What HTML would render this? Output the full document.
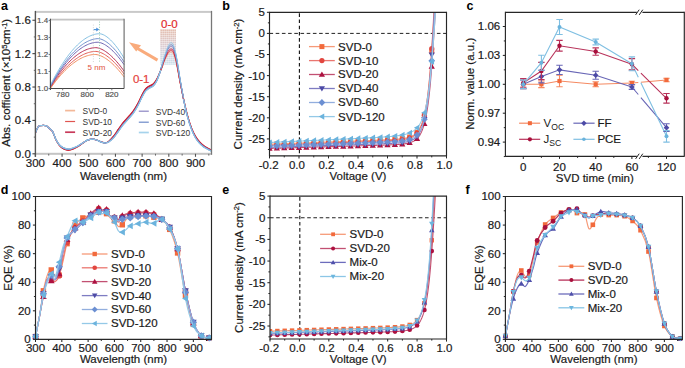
<!DOCTYPE html>
<html><head><meta charset="utf-8"><style>
html,body{margin:0;padding:0;background:#fff;overflow:hidden;}
svg{display:block;font-family:"Liberation Sans", sans-serif;}
</style></head><body>
<svg width="685" height="368" viewBox="0 0 685 368">
<rect width="685" height="368" fill="#fff"/>
<text x="1" y="9.7" font-size="12.5" text-anchor="start" fill="#000" font-weight="bold" >a</text>
<path d="M35.4,132.93 C35.76,132.1 36.87,129.11 37.53,127.92 C38.2,126.74 38.42,126.25 39.4,125.84 C40.38,125.42 42.29,125.42 43.4,125.42 C44.52,125.42 45.18,125.45 46.07,125.84 C46.96,126.23 47.94,127.1 48.74,127.76 C49.54,128.41 50.25,129.15 50.88,129.76 C51.5,130.37 51.94,130.55 52.48,131.43 C53.01,132.31 53.5,133.63 54.08,135.02 C54.66,136.41 55.06,138.04 55.94,139.78 C56.83,141.52 58.17,143.95 59.41,145.45 C60.66,146.96 61.95,147.98 63.42,148.79 C64.88,149.6 66.66,150.22 68.22,150.29 C69.78,150.36 71.11,149.85 72.75,149.21 C74.4,148.57 76.31,147.54 78.09,146.45 C79.87,145.37 81.87,143.74 83.43,142.7 C84.98,141.66 85.87,140.78 87.43,140.19 C88.99,139.61 91.21,139.22 92.77,139.19 C94.32,139.16 95.3,139.54 96.77,140.03 C98.24,140.51 100.15,141.66 101.57,142.11 C102.99,142.57 104.11,142.92 105.31,142.78 C106.51,142.64 107.31,142.5 108.78,141.28 C110.24,140.06 112.47,137.52 114.11,135.44 C115.76,133.35 117.09,130.98 118.65,128.76 C120.2,126.53 121.76,124.17 123.45,122.08 C125.14,119.99 127.1,118.19 128.79,116.24 C130.48,114.29 132.03,112.62 133.59,110.4 C135.15,108.17 136.7,105.53 138.12,102.88 C139.55,100.24 140.88,96.9 142.13,94.54 C143.37,92.17 144.4,90.15 145.6,88.69 C146.8,87.23 148.04,86.61 149.33,85.77 C150.62,84.94 152.09,84.8 153.33,83.68 C154.58,82.57 155.56,81.32 156.8,79.09 C158.05,76.87 159.47,73.46 160.8,70.33 C162.14,67.2 163.56,63.03 164.81,60.31 C166.05,57.6 167.25,55.37 168.28,54.05 C169.3,52.73 170.05,52.31 170.94,52.38 C171.83,52.45 172.63,52.31 173.61,54.47 C174.59,56.63 175.75,60.73 176.81,65.32 C177.88,69.91 178.9,76.45 180.02,82.02 C181.13,87.58 182.24,93.14 183.48,98.71 C184.73,104.27 186.15,110.53 187.49,115.4 C188.82,120.27 190.15,124.45 191.49,127.92 C192.82,131.4 194.16,133.98 195.49,136.27 C196.83,138.57 198.16,140.17 199.49,141.7 C200.83,143.23 202.16,144.41 203.5,145.45 C204.83,146.5 206.16,147.19 207.5,147.96 C208.83,148.72 210.83,149.7 211.5,150.04" fill="none" stroke="#f2b696" stroke-width="1.15"/>
<path d="M35.4,132.93 C35.76,132.1 36.87,129.11 37.53,127.92 C38.2,126.74 38.42,126.25 39.4,125.84 C40.38,125.42 42.29,125.42 43.4,125.42 C44.52,125.42 45.18,125.45 46.07,125.84 C46.96,126.23 47.94,127.1 48.74,127.75 C49.54,128.41 50.25,129.14 50.88,129.75 C51.5,130.37 51.94,130.55 52.48,131.42 C53.01,132.29 53.5,133.61 54.08,135 C54.66,136.39 55.06,138.02 55.94,139.75 C56.83,141.49 58.17,143.91 59.41,145.4 C60.66,146.9 61.95,147.91 63.42,148.71 C64.88,149.51 66.66,150.12 68.22,150.19 C69.78,150.26 71.11,149.75 72.75,149.12 C74.4,148.49 76.31,147.48 78.09,146.41 C79.87,145.33 81.87,143.72 83.43,142.68 C84.98,141.65 85.87,140.77 87.43,140.19 C88.99,139.61 91.21,139.22 92.77,139.19 C94.32,139.17 95.3,139.54 96.77,140.03 C98.24,140.52 100.15,141.66 101.57,142.12 C102.99,142.58 104.11,142.93 105.31,142.8 C106.51,142.67 107.31,142.54 108.78,141.33 C110.24,140.13 112.47,137.65 114.11,135.58 C115.76,133.52 117.09,131.16 118.65,128.95 C120.2,126.73 121.76,124.36 123.45,122.28 C125.14,120.19 127.1,118.39 128.79,116.44 C130.48,114.49 132.03,112.82 133.59,110.6 C135.15,108.37 136.7,105.73 138.12,103.08 C139.55,100.44 140.88,97.1 142.13,94.74 C143.37,92.37 144.4,90.35 145.6,88.89 C146.8,87.43 148.04,86.81 149.33,85.97 C150.62,85.13 152.09,84.99 153.33,83.87 C154.58,82.74 155.56,81.49 156.8,79.19 C158.05,76.9 159.47,73.4 160.8,70.11 C162.14,66.82 163.56,62.38 164.81,59.46 C166.05,56.55 167.25,54.08 168.28,52.62 C169.3,51.16 170.05,50.67 170.94,50.72 C171.83,50.77 172.63,50.66 173.61,52.91 C174.59,55.16 175.75,59.46 176.81,64.22 C177.88,68.98 178.9,75.73 180.02,81.47 C181.13,87.2 182.24,92.95 183.48,98.62 C184.73,104.3 186.15,110.6 187.49,115.5 C188.82,120.4 190.15,124.55 191.49,128.04 C192.82,131.52 194.16,134.11 195.49,136.4 C196.83,138.7 198.16,140.3 199.49,141.83 C200.83,143.36 202.16,144.53 203.5,145.57 C204.83,146.61 206.16,147.29 207.5,148.06 C208.83,148.82 210.83,149.79 211.5,150.13" fill="none" stroke="#e02a2e" stroke-width="1.15"/>
<path d="M35.4,132.93 C35.76,132.1 36.87,129.11 37.53,127.92 C38.2,126.74 38.42,126.25 39.4,125.84 C40.38,125.42 42.29,125.42 43.4,125.42 C44.52,125.42 45.18,125.45 46.07,125.84 C46.96,126.22 47.94,127.1 48.74,127.75 C49.54,128.4 50.25,129.14 50.88,129.75 C51.5,130.36 51.94,130.54 52.48,131.41 C53.01,132.28 53.5,133.6 54.08,134.99 C54.66,136.37 55.06,138 55.94,139.73 C56.83,141.46 58.17,143.87 59.41,145.36 C60.66,146.84 61.95,147.84 63.42,148.63 C64.88,149.41 66.66,150.01 68.22,150.08 C69.78,150.15 71.11,149.64 72.75,149.02 C74.4,148.4 76.31,147.42 78.09,146.36 C79.87,145.3 81.87,143.7 83.43,142.67 C84.98,141.64 85.87,140.76 87.43,140.18 C88.99,139.61 91.21,139.22 92.77,139.19 C94.32,139.17 95.3,139.54 96.77,140.03 C98.24,140.52 100.15,141.66 101.57,142.12 C102.99,142.59 104.11,142.94 105.31,142.82 C106.51,142.7 107.31,142.57 108.78,141.39 C110.24,140.21 112.47,137.77 114.11,135.73 C115.76,133.69 117.09,131.34 118.65,129.13 C120.2,126.93 121.76,124.56 123.45,122.48 C125.14,120.39 127.1,118.59 128.79,116.64 C130.48,114.69 132.03,113.02 133.59,110.8 C135.15,108.57 136.7,105.93 138.12,103.28 C139.55,100.64 140.88,97.3 142.13,94.94 C143.37,92.57 144.4,90.55 145.6,89.09 C146.8,87.63 148.04,87.01 149.33,86.17 C150.62,85.33 152.09,85.19 153.33,84.05 C154.58,82.9 155.56,81.65 156.8,79.29 C158.05,76.94 159.47,73.34 160.8,69.89 C162.14,66.44 163.56,61.73 164.81,58.62 C166.05,55.5 167.25,52.78 168.28,51.19 C169.3,49.6 170.05,49.04 170.94,49.06 C171.83,49.09 172.63,49.01 173.61,51.35 C174.59,53.69 175.75,58.2 176.81,63.13 C177.88,68.05 178.9,75.02 180.02,80.92 C181.13,86.82 182.24,92.76 183.48,98.54 C184.73,104.32 186.15,110.66 187.49,115.59 C188.82,120.53 190.15,124.66 191.49,128.15 C192.82,131.64 194.16,134.23 195.49,136.54 C196.83,138.84 198.16,140.44 199.49,141.96 C200.83,143.49 202.16,144.65 203.5,145.69 C204.83,146.72 206.16,147.4 207.5,148.15 C208.83,148.91 210.83,149.88 211.5,150.23" fill="none" stroke="#c41c3c" stroke-width="1.15"/>
<path d="M35.4,132.93 C35.76,132.1 36.87,129.11 37.53,127.92 C38.2,126.74 38.42,126.25 39.4,125.84 C40.38,125.42 42.29,125.42 43.4,125.42 C44.52,125.42 45.18,125.44 46.07,125.83 C46.96,126.21 47.94,127.08 48.74,127.73 C49.54,128.38 50.25,129.1 50.88,129.7 C51.5,130.3 51.94,130.47 52.48,131.34 C53.01,132.2 53.5,133.51 54.08,134.87 C54.66,136.24 55.06,137.86 55.94,139.55 C56.83,141.23 58.17,143.58 59.41,144.99 C60.66,146.41 61.95,147.3 63.42,148.02 C64.88,148.73 66.66,149.24 68.22,149.3 C69.78,149.35 71.11,148.89 72.75,148.34 C74.4,147.79 76.31,146.96 78.09,146 C79.87,145.03 81.87,143.53 83.43,142.55 C84.98,141.58 85.87,140.71 87.43,140.15 C88.99,139.59 91.21,139.21 92.77,139.19 C94.32,139.17 95.3,139.54 96.77,140.03 C98.24,140.53 100.15,141.67 101.57,142.16 C102.99,142.65 104.11,143.02 105.31,142.95 C106.51,142.89 107.31,142.81 108.78,141.78 C110.24,140.76 112.47,138.69 114.11,136.81 C115.76,134.93 117.09,132.66 118.65,130.52 C120.2,128.37 121.76,126.01 123.45,123.94 C125.14,121.87 127.1,120.06 128.79,118.11 C130.48,116.17 132.03,114.5 133.59,112.27 C135.15,110.05 136.7,107.4 138.12,104.76 C139.55,102.12 140.88,98.78 142.13,96.41 C143.37,94.05 144.4,92.03 145.6,90.57 C146.8,89.11 148.04,88.49 149.33,87.64 C150.62,86.78 152.09,86.65 153.33,85.46 C154.58,84.26 155.56,83.02 156.8,80.47 C158.05,77.91 159.47,73.98 160.8,70.15 C162.14,66.32 163.56,61.01 164.81,57.5 C166.05,53.99 167.25,50.89 168.28,49.08 C169.3,47.26 170.05,46.6 170.94,46.59 C171.83,46.58 172.63,46.54 173.61,49.02 C174.59,51.51 175.75,56.3 176.81,61.51 C177.88,66.73 178.9,74.03 180.02,80.29 C181.13,86.56 182.24,93.09 183.48,99.12 C184.73,105.16 186.15,111.54 187.49,116.52 C188.82,121.5 190.15,125.51 191.49,129.01 C192.82,132.51 194.16,135.2 195.49,137.52 C196.83,139.84 198.16,141.44 199.49,142.94 C200.83,144.45 202.16,145.56 203.5,146.55 C204.83,147.54 206.16,148.16 207.5,148.88 C208.83,149.61 210.83,150.56 211.5,150.9" fill="none" stroke="#8a80c0" stroke-width="1.15"/>
<path d="M35.4,132.93 C35.76,132.1 36.87,129.11 37.53,127.92 C38.2,126.74 38.42,126.25 39.4,125.84 C40.38,125.42 42.29,125.42 43.4,125.42 C44.52,125.41 45.18,125.44 46.07,125.83 C46.96,126.21 47.94,127.08 48.74,127.72 C49.54,128.37 50.25,129.09 50.88,129.69 C51.5,130.29 51.94,130.46 52.48,131.32 C53.01,132.18 53.5,133.48 54.08,134.85 C54.66,136.21 55.06,137.83 55.94,139.51 C56.83,141.18 58.17,143.52 59.41,144.91 C60.66,146.31 61.95,147.18 63.42,147.88 C64.88,148.58 66.66,149.07 68.22,149.12 C69.78,149.17 71.11,148.73 72.75,148.19 C74.4,147.66 76.31,146.86 78.09,145.92 C79.87,144.97 81.87,143.49 83.43,142.53 C84.98,141.57 85.87,140.7 87.43,140.14 C88.99,139.59 91.21,139.21 92.77,139.19 C94.32,139.17 95.3,139.54 96.77,140.04 C98.24,140.53 100.15,141.68 101.57,142.17 C102.99,142.66 104.11,143.03 105.31,142.98 C106.51,142.93 107.31,142.86 108.78,141.87 C110.24,140.88 112.47,138.89 114.11,137.05 C115.76,135.21 117.09,132.95 118.65,130.82 C120.2,128.69 121.76,126.32 123.45,124.26 C125.14,122.2 127.1,120.38 128.79,118.44 C130.48,116.49 132.03,114.82 133.59,112.6 C135.15,110.37 136.7,107.73 138.12,105.09 C139.55,102.44 140.88,99.1 142.13,96.74 C143.37,94.37 144.4,92.36 145.6,90.89 C146.8,89.43 148.04,88.81 149.33,87.96 C150.62,87.1 152.09,86.97 153.33,85.76 C154.58,84.55 155.56,83.3 156.8,80.67 C158.05,78.05 159.47,73.99 160.8,69.99 C162.14,65.99 163.56,60.39 164.81,56.67 C166.05,52.94 167.25,49.6 168.28,47.65 C169.3,45.69 170.05,44.96 170.94,44.93 C171.83,44.9 172.63,44.88 173.61,47.46 C174.59,50.05 175.75,55.04 176.81,60.42 C177.88,65.8 178.9,73.32 180.02,79.77 C181.13,86.22 182.24,92.96 183.48,99.11 C184.73,105.27 186.15,111.68 187.49,116.7 C188.82,121.71 190.15,125.69 191.49,129.2 C192.82,132.71 194.16,135.41 195.49,137.73 C196.83,140.06 198.16,141.66 199.49,143.16 C200.83,144.66 202.16,145.76 203.5,146.74 C204.83,147.72 206.16,148.32 207.5,149.04 C208.83,149.76 210.83,150.71 211.5,151.04" fill="none" stroke="#5f86c8" stroke-width="1.15"/>
<path d="M35.4,132.93 C35.76,132.1 36.87,129.11 37.53,127.92 C38.2,126.74 38.42,126.25 39.4,125.84 C40.38,125.42 42.29,125.42 43.4,125.42 C44.52,125.41 45.18,125.44 46.07,125.82 C46.96,126.21 47.94,127.08 48.74,127.72 C49.54,128.36 50.25,129.09 50.88,129.68 C51.5,130.28 51.94,130.45 52.48,131.31 C53.01,132.16 53.5,133.46 54.08,134.83 C54.66,136.19 55.06,137.8 55.94,139.47 C56.83,141.14 58.17,143.46 59.41,144.84 C60.66,146.22 61.95,147.07 63.42,147.76 C64.88,148.44 66.66,148.91 68.22,148.96 C69.78,149.01 71.11,148.57 72.75,148.05 C74.4,147.53 76.31,146.77 78.09,145.84 C79.87,144.92 81.87,143.46 83.43,142.5 C84.98,141.55 85.87,140.69 87.43,140.14 C88.99,139.58 91.21,139.2 92.77,139.19 C94.32,139.17 95.3,139.54 96.77,140.04 C98.24,140.53 100.15,141.68 101.57,142.17 C102.99,142.67 104.11,143.05 105.31,143.01 C106.51,142.97 107.31,142.91 108.78,141.95 C110.24,141 112.47,139.08 114.11,137.27 C115.76,135.46 117.09,133.22 118.65,131.11 C120.2,128.99 121.76,126.62 123.45,124.56 C125.14,122.5 127.1,120.68 128.79,118.74 C130.48,116.8 132.03,115.12 133.59,112.9 C135.15,110.67 136.7,108.03 138.12,105.39 C139.55,102.74 140.88,99.4 142.13,97.04 C143.37,94.67 144.4,92.66 145.6,91.19 C146.8,89.73 148.04,89.12 149.33,88.26 C150.62,87.4 152.09,87.27 153.33,86.03 C154.58,84.8 155.56,83.56 156.8,80.84 C158.05,78.13 159.47,73.95 160.8,69.74 C162.14,65.54 163.56,59.6 164.81,55.61 C166.05,51.63 167.25,47.98 168.28,45.86 C169.3,43.73 170.05,42.91 170.94,42.86 C171.83,42.8 172.63,42.82 173.61,45.52 C174.59,48.21 175.75,53.45 176.81,59.05 C177.88,64.65 178.9,72.43 180.02,79.09 C181.13,85.76 182.24,92.75 183.48,99.04 C184.73,105.33 186.15,111.79 187.49,116.85 C188.82,121.9 190.15,125.86 191.49,129.37 C192.82,132.89 194.16,135.6 195.49,137.93 C196.83,140.27 198.16,141.86 199.49,143.36 C200.83,144.86 202.16,145.94 203.5,146.91 C204.83,147.88 206.16,148.48 207.5,149.19 C208.83,149.9 210.83,150.85 211.5,151.18" fill="none" stroke="#8ec6e6" stroke-width="1.15"/>
<rect x="35.4" y="10.9" width="176.1" height="2" fill="#c9c9c9"/>
<rect x="35.4" y="152.8" width="176.1" height="2" fill="#c4c4c4"/>
<line x1="35.4" y1="10.9" x2="35.4" y2="156.8" stroke="#555" stroke-width="1.4" />
<line x1="211.5" y1="10.9" x2="211.5" y2="154.8" stroke="#777" stroke-width="1.3" />
<line x1="32.4" y1="153.8" x2="35.4" y2="153.8" stroke="#444" stroke-width="1.1" />
<text x="30.8" y="157.7" font-size="11.5" text-anchor="end" fill="#1a1a1a" stroke="#1a1a1a" stroke-width="0.2" font-weight="normal" >0.0</text>
<line x1="32.4" y1="120.41" x2="35.4" y2="120.41" stroke="#444" stroke-width="1.1" />
<text x="30.8" y="124.31" font-size="11.5" text-anchor="end" fill="#1a1a1a" stroke="#1a1a1a" stroke-width="0.2" font-weight="normal" >0.4</text>
<line x1="32.4" y1="87.02" x2="35.4" y2="87.02" stroke="#444" stroke-width="1.1" />
<text x="30.8" y="90.92" font-size="11.5" text-anchor="end" fill="#1a1a1a" stroke="#1a1a1a" stroke-width="0.2" font-weight="normal" >0.8</text>
<line x1="32.4" y1="53.64" x2="35.4" y2="53.64" stroke="#444" stroke-width="1.1" />
<text x="30.8" y="57.54" font-size="11.5" text-anchor="end" fill="#1a1a1a" stroke="#1a1a1a" stroke-width="0.2" font-weight="normal" >1.2</text>
<line x1="32.4" y1="20.25" x2="35.4" y2="20.25" stroke="#444" stroke-width="1.1" />
<text x="30.8" y="24.15" font-size="11.5" text-anchor="end" fill="#1a1a1a" stroke="#1a1a1a" stroke-width="0.2" font-weight="normal" >1.6</text>
<line x1="33.8" y1="137.11" x2="35.4" y2="137.11" stroke="#666" stroke-width="1" />
<line x1="33.8" y1="103.72" x2="35.4" y2="103.72" stroke="#666" stroke-width="1" />
<line x1="33.8" y1="70.33" x2="35.4" y2="70.33" stroke="#666" stroke-width="1" />
<line x1="33.8" y1="36.94" x2="35.4" y2="36.94" stroke="#666" stroke-width="1" />
<line x1="35.4" y1="153.8" x2="35.4" y2="156.8" stroke="#555" stroke-width="1.1" />
<text x="35.4" y="166.7" font-size="11.5" text-anchor="middle" fill="#1a1a1a" stroke="#1a1a1a" stroke-width="0.2" font-weight="normal" >300</text>
<line x1="62.08" y1="153.8" x2="62.08" y2="156.8" stroke="#555" stroke-width="1.1" />
<text x="62.08" y="166.7" font-size="11.5" text-anchor="middle" fill="#1a1a1a" stroke="#1a1a1a" stroke-width="0.2" font-weight="normal" >400</text>
<line x1="88.76" y1="153.8" x2="88.76" y2="156.8" stroke="#555" stroke-width="1.1" />
<text x="88.76" y="166.7" font-size="11.5" text-anchor="middle" fill="#1a1a1a" stroke="#1a1a1a" stroke-width="0.2" font-weight="normal" >500</text>
<line x1="115.45" y1="153.8" x2="115.45" y2="156.8" stroke="#555" stroke-width="1.1" />
<text x="115.45" y="166.7" font-size="11.5" text-anchor="middle" fill="#1a1a1a" stroke="#1a1a1a" stroke-width="0.2" font-weight="normal" >600</text>
<line x1="142.13" y1="153.8" x2="142.13" y2="156.8" stroke="#555" stroke-width="1.1" />
<text x="142.13" y="166.7" font-size="11.5" text-anchor="middle" fill="#1a1a1a" stroke="#1a1a1a" stroke-width="0.2" font-weight="normal" >700</text>
<line x1="168.81" y1="153.8" x2="168.81" y2="156.8" stroke="#555" stroke-width="1.1" />
<text x="168.81" y="166.7" font-size="11.5" text-anchor="middle" fill="#1a1a1a" stroke="#1a1a1a" stroke-width="0.2" font-weight="normal" >800</text>
<line x1="195.49" y1="153.8" x2="195.49" y2="156.8" stroke="#555" stroke-width="1.1" />
<text x="195.49" y="166.7" font-size="11.5" text-anchor="middle" fill="#1a1a1a" stroke="#1a1a1a" stroke-width="0.2" font-weight="normal" >900</text>
<line x1="48.74" y1="153.8" x2="48.74" y2="155.6" stroke="#666" stroke-width="1" />
<line x1="75.42" y1="153.8" x2="75.42" y2="155.6" stroke="#666" stroke-width="1" />
<line x1="102.1" y1="153.8" x2="102.1" y2="155.6" stroke="#666" stroke-width="1" />
<line x1="128.79" y1="153.8" x2="128.79" y2="155.6" stroke="#666" stroke-width="1" />
<line x1="155.47" y1="153.8" x2="155.47" y2="155.6" stroke="#666" stroke-width="1" />
<line x1="182.15" y1="153.8" x2="182.15" y2="155.6" stroke="#666" stroke-width="1" />
<line x1="208.83" y1="153.8" x2="208.83" y2="155.6" stroke="#666" stroke-width="1" />
<text x="123.45" y="180.4" font-size="11.5" text-anchor="middle" fill="#1a1a1a" stroke="#1a1a1a" stroke-width="0.2" font-weight="normal" >Wavelength (nm)</text>
<text transform="translate(10,82.8) rotate(-90)" font-size="11.5" text-anchor="middle" fill="#1a1a1a" stroke="#1a1a1a" stroke-width="0.2">Abs. cofficient (×10<tspan font-size="7.5" dy="-3.4">5</tspan><tspan dy="3.4">cm</tspan><tspan font-size="7.5" dy="-3.4">-1</tspan><tspan dy="3.4">)</tspan></text>
<defs><linearGradient id="gbox" x1="0" y1="0" x2="0" y2="1"><stop offset="0" stop-color="#e2b9a8"/><stop offset="0.5" stop-color="#d8c8cf"/><stop offset="1" stop-color="#c6dcea"/></linearGradient>
<pattern id="grid" x="160.2" y="29" width="2" height="2" patternUnits="userSpaceOnUse"><rect x="0" y="0" width="2" height="0.7" fill="#fff" fill-opacity="0.55"/><rect x="0" y="0" width="0.7" height="2" fill="#fff" fill-opacity="0.55"/></pattern></defs>
<rect x="160.2" y="29" width="15.8" height="35.7" fill="url(#gbox)"/>
<rect x="160.2" y="29" width="15.8" height="35.7" fill="url(#grid)"/>
<path d="M160.8,70.33 C161.47,68.66 163.56,63.03 164.81,60.31 C166.05,57.6 167.25,55.37 168.28,54.05 C169.3,52.73 170.05,52.31 170.94,52.38 C171.83,52.45 172.63,52.31 173.61,54.47 C174.59,56.63 175.75,60.73 176.81,65.32 C177.88,69.91 178.9,76.45 180.02,82.02 C181.13,87.58 182.91,95.93 183.48,98.71" fill="none" stroke="#f2b696" stroke-width="0.9"/>
<path d="M160.8,70.01 C161.47,68.25 163.56,62.34 164.81,59.44 C166.05,56.54 167.25,54.07 168.28,52.61 C169.3,51.16 170.05,50.67 170.94,50.72 C171.83,50.77 172.63,50.66 173.61,52.91 C174.59,55.16 175.75,59.46 176.81,64.22 C177.88,68.97 178.9,75.72 180.02,81.44 C181.13,87.15 182.91,95.66 183.48,98.5" fill="none" stroke="#e02a2e" stroke-width="0.9"/>
<path d="M160.8,69.69 C161.47,67.84 163.56,61.65 164.81,58.56 C166.05,55.48 167.25,52.76 168.28,51.18 C169.3,49.59 170.05,49.03 170.94,49.06 C171.83,49.09 172.63,49 173.61,51.34 C174.59,53.69 175.75,58.19 176.81,63.11 C177.88,68.03 178.9,74.99 180.02,80.86 C181.13,86.72 182.91,95.39 183.48,98.3" fill="none" stroke="#c41c3c" stroke-width="0.9"/>
<path d="M160.8,69.21 C161.47,67.22 163.56,60.61 164.81,57.25 C166.05,53.88 167.25,50.8 168.28,49.02 C169.3,47.24 170.05,46.57 170.94,46.56 C171.83,46.56 172.63,46.52 173.61,49 C174.59,51.48 175.75,56.29 176.81,61.46 C177.88,66.62 178.9,73.9 180.02,79.99 C181.13,86.08 182.91,94.99 183.48,97.99" fill="none" stroke="#8a80c0" stroke-width="0.9"/>
<path d="M160.8,68.89 C161.47,66.8 163.56,59.93 164.81,56.37 C166.05,52.82 167.25,49.49 168.28,47.58 C169.3,45.67 170.05,44.93 170.94,44.9 C171.83,44.88 172.63,44.86 173.61,47.44 C174.59,50.01 175.75,55.02 176.81,60.35 C177.88,65.68 178.9,73.17 180.02,79.41 C181.13,85.65 182.91,94.72 183.48,97.78" fill="none" stroke="#5f86c8" stroke-width="0.9"/>
<path d="M160.8,68.49 C161.47,66.29 163.56,59.07 164.81,55.28 C166.05,51.49 167.25,47.86 168.28,45.78 C169.3,43.7 170.05,42.87 170.94,42.82 C171.83,42.77 172.63,42.79 173.61,45.49 C174.59,48.18 175.75,53.44 176.81,58.97 C177.88,64.5 178.9,72.26 180.02,78.68 C181.13,85.11 182.91,94.38 183.48,97.52" fill="none" stroke="#8ec6e6" stroke-width="0.9"/>
<text x="169.4" y="27.5" font-size="11.5" text-anchor="middle" fill="#e12a2a" stroke="#e12a2a" stroke-width="0.2" font-weight="normal" >0-0</text>
<text x="141.2" y="83.3" font-size="11.5" text-anchor="middle" fill="#e5413a" stroke="#e5413a" stroke-width="0.2" font-weight="normal" >0-1</text>
<line x1="157.5" y1="60.1" x2="135" y2="47" stroke="#f9ab7c" stroke-width="3"/>
<path d="M129,42.3 L141,45.2 L136.2,51.6 Z" fill="#f9ab7c"/>
<line x1="65.1" y1="110.6" x2="75.1" y2="110.6" stroke="#f3b898" stroke-width="1.7"/>
<text x="82.6" y="114" font-size="9.3" fill="#333" textLength="24.5" lengthAdjust="spacingAndGlyphs">SVD-0</text>
<line x1="65.1" y1="121.5" x2="75.1" y2="121.5" stroke="#e05550" stroke-width="1.2"/>
<text x="82.6" y="124.9" font-size="9.3" fill="#333" textLength="29.4" lengthAdjust="spacingAndGlyphs">SVD-10</text>
<line x1="65.1" y1="132.2" x2="75.1" y2="132.2" stroke="#c83a5a" stroke-width="1.7"/>
<text x="82.6" y="135.6" font-size="9.3" fill="#333" textLength="29.4" lengthAdjust="spacingAndGlyphs">SVD-20</text>
<line x1="138.8" y1="111.2" x2="148.8" y2="111.2" stroke="#8b84c2" stroke-width="1.2"/>
<text x="155.8" y="114.6" font-size="9.3" fill="#333" textLength="29.4" lengthAdjust="spacingAndGlyphs">SVD-40</text>
<line x1="138.8" y1="122.2" x2="148.8" y2="122.2" stroke="#6c8ac8" stroke-width="1.2"/>
<text x="155.8" y="125.6" font-size="9.3" fill="#333" textLength="29.4" lengthAdjust="spacingAndGlyphs">SVD-60</text>
<line x1="138.8" y1="132.5" x2="148.8" y2="132.5" stroke="#a6d3ec" stroke-width="1.7"/>
<text x="155.8" y="135.9" font-size="9.3" fill="#333" textLength="34.3" lengthAdjust="spacingAndGlyphs">SVD-120</text>
<rect x="50.4" y="19.6" width="73.69999999999999" height="68.9" fill="#fff"/>
<path d="M50.4,88.5 L51.63,86.75 L52.86,85.05 L54.09,83.38 L55.31,81.77 L56.54,80.19 L57.77,78.66 L59,77.18 L60.23,75.74 L61.45,74.34 L62.68,72.99 L63.91,71.69 L65.14,70.43 L66.37,69.21 L67.6,68.05 L68.82,66.92 L70.05,65.85 L71.28,64.81 L72.51,63.83 L73.74,62.89 L74.97,62 L76.19,61.16 L77.42,60.36 L78.65,59.62 L79.88,58.92 L81.11,58.27 L82.34,57.66 L83.56,57.11 L84.79,56.61 L86.02,56.16 L87.25,55.76 L88.48,55.41 L89.71,55.11 L90.93,54.87 L92.16,54.68 L93.39,54.55 L94.62,54.49 L95.85,54.51 L97.08,54.68 L98.3,54.97 L99.53,55.36 L100.76,55.83 L101.99,56.38 L103.22,57 L104.45,57.7 L105.67,58.46 L106.9,59.29 L108.13,60.18 L109.36,61.14 L110.59,62.15 L111.82,63.23 L113.04,64.36 L114.27,65.54 L115.5,66.78 L116.73,68.08 L117.96,69.43 L119.19,70.83 L120.41,72.28 L121.64,73.78 L122.87,75.33 L124.1,76.93" fill="none" stroke="#f08a5a" stroke-width="0.95"/>
<path d="M50.4,87.65 L51.63,85.81 L52.86,84.02 L54.09,82.27 L55.31,80.57 L56.54,78.91 L57.77,77.3 L59,75.74 L60.23,74.22 L61.45,72.75 L62.68,71.33 L63.91,69.95 L65.14,68.62 L66.37,67.33 L67.6,66.1 L68.82,64.91 L70.05,63.77 L71.28,62.67 L72.51,61.63 L73.74,60.63 L74.97,59.68 L76.19,58.78 L77.42,57.93 L78.65,57.13 L79.88,56.38 L81.11,55.68 L82.34,55.03 L83.56,54.43 L84.79,53.88 L86.02,53.39 L87.25,52.95 L88.48,52.56 L89.71,52.22 L90.93,51.94 L92.16,51.72 L93.39,51.55 L94.62,51.45 L95.85,51.41 L97.08,51.52 L98.3,51.77 L99.53,52.12 L100.76,52.57 L101.99,53.1 L103.22,53.72 L104.45,54.41 L105.67,55.17 L106.9,56 L108.13,56.9 L109.36,57.87 L110.59,58.9 L111.82,59.99 L113.04,61.14 L114.27,62.35 L115.5,63.62 L116.73,64.95 L117.96,66.33 L119.19,67.76 L120.41,69.25 L121.64,70.8 L122.87,72.39 L124.1,74.04" fill="none" stroke="#e2574f" stroke-width="0.95"/>
<path d="M50.4,86.8 L51.63,84.81 L52.86,82.88 L54.09,80.99 L55.31,79.15 L56.54,77.37 L57.77,75.63 L59,73.94 L60.23,72.3 L61.45,70.71 L62.68,69.17 L63.91,67.69 L65.14,66.25 L66.37,64.86 L67.6,63.53 L68.82,62.24 L70.05,61.01 L71.28,59.83 L72.51,58.7 L73.74,57.62 L74.97,56.6 L76.19,55.63 L77.42,54.71 L78.65,53.84 L79.88,53.03 L81.11,52.28 L82.34,51.57 L83.56,50.93 L84.79,50.34 L86.02,49.8 L87.25,49.32 L88.48,48.9 L89.71,48.54 L90.93,48.24 L92.16,48 L93.39,47.82 L94.62,47.71 L95.85,47.67 L97.08,47.78 L98.3,48.04 L99.53,48.41 L100.76,48.87 L101.99,49.42 L103.22,50.06 L104.45,50.78 L105.67,51.57 L106.9,52.43 L108.13,53.37 L109.36,54.37 L110.59,55.44 L111.82,56.57 L113.04,57.77 L114.27,59.02 L115.5,60.34 L116.73,61.71 L117.96,63.15 L119.19,64.64 L120.41,66.18 L121.64,67.78 L122.87,69.44 L124.1,71.15" fill="none" stroke="#b4284e" stroke-width="0.95"/>
<path d="M50.4,86.46 L51.63,84.3 L52.86,82.19 L54.09,80.14 L55.31,78.14 L56.54,76.18 L57.77,74.28 L59,72.44 L60.23,70.64 L61.45,68.9 L62.68,67.2 L63.91,65.57 L65.14,63.98 L66.37,62.45 L67.6,60.97 L68.82,59.54 L70.05,58.17 L71.28,56.85 L72.51,55.58 L73.74,54.37 L74.97,53.22 L76.19,52.12 L77.42,51.07 L78.65,50.08 L79.88,49.14 L81.11,48.27 L82.34,47.44 L83.56,46.68 L84.79,45.97 L86.02,45.32 L87.25,44.73 L88.48,44.2 L89.71,43.73 L90.93,43.32 L92.16,42.98 L93.39,42.69 L94.62,42.47 L95.85,42.32 L97.08,42.24 L98.3,42.26 L99.53,42.47 L100.76,42.81 L101.99,43.25 L103.22,43.8 L104.45,44.44 L105.67,45.17 L106.9,45.97 L108.13,46.86 L109.36,47.83 L110.59,48.87 L111.82,49.98 L113.04,51.16 L114.27,52.41 L115.5,53.72 L116.73,55.1 L117.96,56.55 L119.19,58.05 L120.41,59.62 L121.64,61.25 L122.87,62.94 L124.1,64.68" fill="none" stroke="#6a60b0" stroke-width="0.95"/>
<path d="M50.4,85.95 L51.63,83.67 L52.86,81.45 L54.09,79.28 L55.31,77.16 L56.54,75.1 L57.77,73.09 L59,71.13 L60.23,69.23 L61.45,67.38 L62.68,65.59 L63.91,63.85 L65.14,62.17 L66.37,60.54 L67.6,58.97 L68.82,57.46 L70.05,55.99 L71.28,54.59 L72.51,53.24 L73.74,51.95 L74.97,50.72 L76.19,49.54 L77.42,48.42 L78.65,47.36 L79.88,46.35 L81.11,45.41 L82.34,44.52 L83.56,43.69 L84.79,42.92 L86.02,42.22 L87.25,41.57 L88.48,40.99 L89.71,40.46 L90.93,40 L92.16,39.61 L93.39,39.28 L94.62,39.02 L95.85,38.82 L97.08,38.7 L98.3,38.65 L99.53,38.79 L100.76,39.08 L101.99,39.51 L103.22,40.04 L104.45,40.69 L105.67,41.42 L106.9,42.25 L108.13,43.17 L109.36,44.17 L110.59,45.26 L111.82,46.42 L113.04,47.66 L114.27,48.97 L115.5,50.35 L116.73,51.81 L117.96,53.33 L119.19,54.93 L120.41,56.59 L121.64,58.31 L122.87,60.11 L124.1,61.96" fill="none" stroke="#6a8ccb" stroke-width="0.95"/>
<path d="M50.4,85.1 L51.63,82.68 L52.86,80.33 L54.09,78.02 L55.31,75.78 L56.54,73.58 L57.77,71.45 L59,69.37 L60.23,67.34 L61.45,65.38 L62.68,63.46 L63.91,61.61 L65.14,59.81 L66.37,58.07 L67.6,56.38 L68.82,54.76 L70.05,53.19 L71.28,51.67 L72.51,50.22 L73.74,48.82 L74.97,47.49 L76.19,46.21 L77.42,44.99 L78.65,43.83 L79.88,42.73 L81.11,41.69 L82.34,40.71 L83.56,39.79 L84.79,38.94 L86.02,38.14 L87.25,37.41 L88.48,36.74 L89.71,36.13 L90.93,35.59 L92.16,35.12 L93.39,34.71 L94.62,34.37 L95.85,34.09 L97.08,33.89 L98.3,33.77 L99.53,33.72 L100.76,33.87 L101.99,34.21 L103.22,34.69 L104.45,35.31 L105.67,36.04 L106.9,36.88 L108.13,37.83 L109.36,38.88 L110.59,40.02 L111.82,41.26 L113.04,42.59 L114.27,44 L115.5,45.5 L116.73,47.08 L117.96,48.74 L119.19,50.48 L120.41,52.3 L121.64,54.2 L122.87,56.17 L124.1,58.22" fill="none" stroke="#7ebde0" stroke-width="0.95"/>
<line x1="99.53" y1="21.6" x2="99.53" y2="62" stroke="#7cc0a0" stroke-width="0.8" stroke-dasharray="1,1.6"/>
<line x1="93.39" y1="24.6" x2="93.39" y2="62" stroke="#bbbbbb" stroke-width="0.6" stroke-dasharray="1,1.6"/>
<line x1="93.69" y1="29.6" x2="97.03" y2="29.6" stroke="#4a90d9" stroke-width="1.1"/>
<path d="M99.23,29.6 L96.23,27.6 L96.23,31.6Z" fill="#4a90d9"/>
<text x="96.5" y="70.2" font-size="8" text-anchor="middle" fill="#e0553f">5 nm</text>
<rect x="50.4" y="18.700000000000003" width="73.69999999999999" height="1.8" fill="#c4c4c4"/>
<line x1="50.4" y1="18.8" x2="50.4" y2="90" stroke="#444" stroke-width="1.1" />
<line x1="124.1" y1="18.8" x2="124.1" y2="88.5" stroke="#666" stroke-width="1.1" />
<line x1="50.4" y1="88.5" x2="124.1" y2="88.5" stroke="#444" stroke-width="1.1" />
<line x1="48.6" y1="88.5" x2="50.4" y2="88.5" stroke="#666" stroke-width="0.9" />
<text x="48.2" y="91.4" font-size="8" text-anchor="end" fill="#555" stroke="#555" stroke-width="0.2" font-weight="normal" >1.0</text>
<line x1="48.6" y1="71.49" x2="50.4" y2="71.49" stroke="#666" stroke-width="0.9" />
<text x="48.2" y="74.39" font-size="8" text-anchor="end" fill="#555" stroke="#555" stroke-width="0.2" font-weight="normal" >1.1</text>
<line x1="48.6" y1="54.48" x2="50.4" y2="54.48" stroke="#666" stroke-width="0.9" />
<text x="48.2" y="57.38" font-size="8" text-anchor="end" fill="#555" stroke="#555" stroke-width="0.2" font-weight="normal" >1.2</text>
<line x1="48.6" y1="37.46" x2="50.4" y2="37.46" stroke="#666" stroke-width="0.9" />
<text x="48.2" y="40.36" font-size="8" text-anchor="end" fill="#555" stroke="#555" stroke-width="0.2" font-weight="normal" >1.3</text>
<line x1="48.6" y1="20.45" x2="50.4" y2="20.45" stroke="#666" stroke-width="0.9" />
<text x="48.2" y="23.35" font-size="8" text-anchor="end" fill="#555" stroke="#555" stroke-width="0.2" font-weight="normal" >1.4</text>
<line x1="62.68" y1="88.5" x2="62.68" y2="90.3" stroke="#666" stroke-width="0.9" />
<text x="62.68" y="96.9" font-size="8" text-anchor="middle" fill="#555" stroke="#555" stroke-width="0.2" font-weight="normal" >780</text>
<line x1="87.25" y1="88.5" x2="87.25" y2="90.3" stroke="#666" stroke-width="0.9" />
<text x="87.25" y="96.9" font-size="8" text-anchor="middle" fill="#555" stroke="#555" stroke-width="0.2" font-weight="normal" >800</text>
<line x1="111.82" y1="88.5" x2="111.82" y2="90.3" stroke="#666" stroke-width="0.9" />
<text x="111.82" y="96.9" font-size="8" text-anchor="middle" fill="#555" stroke="#555" stroke-width="0.2" font-weight="normal" >820</text>
<line x1="74.97" y1="88.5" x2="74.97" y2="89.7" stroke="#888" stroke-width="0.8" />
<line x1="99.53" y1="88.5" x2="99.53" y2="89.7" stroke="#888" stroke-width="0.8" />
<text x="222.3" y="10.2" font-size="12.5" text-anchor="start" fill="#000" font-weight="bold" >b</text>
<line x1="269.5" y1="33.4" x2="446.5" y2="33.4" stroke="#222" stroke-width="1" stroke-dasharray="3.6,2.6"/>
<line x1="299.4" y1="13.3" x2="299.4" y2="155.8" stroke="#111" stroke-width="1.1" stroke-dasharray="3.6,2.6"/>
<clipPath id="clipb"><rect x="269.5" y="12.3" width="177.0" height="143.5"/></clipPath>
<g clip-path="url(#clipb)">
<path d="M269.5,144.19 L270.09,144.17 L270.68,144.15 L271.27,144.13 L271.86,144.11 L272.45,144.08 L273.04,144.06 L273.63,144.04 L274.22,144.02 L274.81,144 L275.4,143.97 L275.99,143.95 L276.58,143.93 L277.17,143.91 L277.76,143.89 L278.35,143.86 L278.94,143.84 L279.53,143.82 L280.12,143.8 L280.71,143.78 L281.3,143.75 L281.89,143.73 L282.48,143.71 L283.07,143.69 L283.66,143.67 L284.25,143.64 L284.84,143.62 L285.43,143.6 L286.02,143.58 L286.61,143.56 L287.2,143.53 L287.79,143.51 L288.38,143.49 L288.97,143.47 L289.56,143.45 L290.15,143.43 L290.74,143.4 L291.33,143.38 L291.92,143.36 L292.51,143.34 L293.1,143.32 L293.69,143.29 L294.28,143.27 L294.87,143.25 L295.46,143.23 L296.05,143.21 L296.64,143.18 L297.23,143.16 L297.82,143.14 L298.41,143.12 L299,143.1 L299.59,143.07 L300.18,143.05 L300.77,143.03 L301.36,143.01 L301.95,142.99 L302.54,142.96 L303.13,142.94 L303.72,142.92 L304.31,142.9 L304.9,142.88 L305.49,142.85 L306.08,142.83 L306.67,142.81 L307.26,142.79 L307.85,142.77 L308.44,142.74 L309.03,142.72 L309.62,142.7 L310.21,142.68 L310.8,142.66 L311.39,142.63 L311.98,142.61 L312.57,142.59 L313.16,142.57 L313.75,142.55 L314.34,142.53 L314.93,142.5 L315.52,142.48 L316.11,142.46 L316.7,142.44 L317.29,142.42 L317.88,142.39 L318.47,142.37 L319.06,142.35 L319.65,142.33 L320.24,142.31 L320.83,142.28 L321.42,142.26 L322.01,142.24 L322.6,142.22 L323.19,142.2 L323.78,142.17 L324.37,142.15 L324.96,142.13 L325.55,142.11 L326.14,142.09 L326.73,142.06 L327.32,142.04 L327.91,142.02 L328.5,142 L329.09,141.98 L329.68,141.95 L330.27,141.93 L330.86,141.91 L331.45,141.89 L332.04,141.87 L332.63,141.84 L333.22,141.82 L333.81,141.8 L334.4,141.78 L334.99,141.76 L335.58,141.73 L336.17,141.71 L336.76,141.69 L337.35,141.67 L337.94,141.65 L338.53,141.62 L339.12,141.6 L339.71,141.58 L340.3,141.56 L340.89,141.54 L341.48,141.51 L342.07,141.49 L342.66,141.47 L343.25,141.45 L343.84,141.43 L344.43,141.4 L345.02,141.38 L345.61,141.36 L346.2,141.34 L346.79,141.32 L347.38,141.29 L347.97,141.27 L348.56,141.25 L349.15,141.23 L349.74,141.2 L350.33,141.18 L350.92,141.16 L351.51,141.14 L352.1,141.12 L352.69,141.09 L353.28,141.07 L353.87,141.05 L354.46,141.03 L355.05,141 L355.64,140.98 L356.23,140.96 L356.82,140.94 L357.41,140.92 L358,140.89 L358.59,140.87 L359.18,140.85 L359.77,140.83 L360.36,140.8 L360.95,140.78 L361.54,140.76 L362.13,140.74 L362.72,140.71 L363.31,140.69 L363.9,140.67 L364.49,140.64 L365.08,140.62 L365.67,140.6 L366.26,140.58 L366.85,140.55 L367.44,140.53 L368.03,140.51 L368.62,140.48 L369.21,140.46 L369.8,140.44 L370.39,140.42 L370.98,140.39 L371.57,140.37 L372.16,140.35 L372.75,140.32 L373.34,140.3 L373.93,140.27 L374.52,140.25 L375.11,140.23 L375.7,140.2 L376.29,140.18 L376.88,140.15 L377.47,140.13 L378.06,140.11 L378.65,140.08 L379.24,140.06 L379.83,140.03 L380.42,140.01 L381.01,139.98 L381.6,139.95 L382.19,139.93 L382.78,139.9 L383.37,139.88 L383.96,139.85 L384.55,139.82 L385.14,139.79 L385.73,139.77 L386.32,139.74 L386.91,139.71 L387.5,139.68 L388.09,139.65 L388.68,139.62 L389.27,139.59 L389.86,139.56 L390.45,139.53 L391.04,139.49 L391.63,139.46 L392.22,139.42 L392.81,139.39 L393.4,139.35 L393.99,139.31 L394.58,139.28 L395.17,139.23 L395.76,139.19 L396.35,139.15 L396.94,139.1 L397.53,139.06 L398.12,139.01 L398.71,138.95 L399.3,138.9 L399.89,138.84 L400.48,138.78 L401.07,138.71 L401.66,138.64 L402.25,138.57 L402.84,138.49 L403.43,138.41 L404.02,138.32 L404.61,138.22 L405.2,138.12 L405.79,138.01 L406.38,137.89 L406.97,137.76 L407.56,137.61 L408.15,137.46 L408.74,137.29 L409.33,137.11 L409.92,136.91 L410.51,136.69 L411.1,136.45 L411.69,136.19 L412.28,135.91 L412.87,135.59 L413.46,135.24 L414.05,134.86 L414.64,134.44 L415.23,133.97 L415.82,133.46 L416.41,132.89 L417,132.27 L417.59,131.57 L418.18,130.8 L418.77,129.95 L419.36,129 L419.95,127.95 L420.54,126.79 L421.13,125.49 L421.72,124.05 L422.31,122.46 L422.9,120.68 L423.49,118.7 L424.08,116.5 L424.67,114.06 L425.26,111.33 L425.85,108.3 L426.44,104.92 L427.03,101.15 L427.62,96.96 L428.21,92.29 L428.8,87.09 L429.39,81.31 L429.98,74.89 L430.57,67.8 L431.16,60.01 L431.75,51.55 L432.34,42.52 L432.93,33.05 L433.52,23.23 L434.11,13.08 L434.7,2.52" fill="none" stroke="#f69a78" stroke-width="1.1"/>
<rect x="267" y="141.69" width="5" height="5" fill="#f26a3c"/>
<rect x="274.38" y="141.42" width="5" height="5" fill="#f26a3c"/>
<rect x="281.75" y="141.14" width="5" height="5" fill="#f26a3c"/>
<rect x="289.12" y="140.87" width="5" height="5" fill="#f26a3c"/>
<rect x="296.5" y="140.6" width="5" height="5" fill="#f26a3c"/>
<rect x="303.88" y="140.32" width="5" height="5" fill="#f26a3c"/>
<rect x="311.25" y="140.05" width="5" height="5" fill="#f26a3c"/>
<rect x="318.62" y="139.77" width="5" height="5" fill="#f26a3c"/>
<rect x="326" y="139.5" width="5" height="5" fill="#f26a3c"/>
<rect x="333.38" y="139.22" width="5" height="5" fill="#f26a3c"/>
<rect x="340.75" y="138.95" width="5" height="5" fill="#f26a3c"/>
<rect x="348.12" y="138.67" width="5" height="5" fill="#f26a3c"/>
<rect x="355.5" y="138.39" width="5" height="5" fill="#f26a3c"/>
<rect x="362.88" y="138.11" width="5" height="5" fill="#f26a3c"/>
<rect x="370.25" y="137.82" width="5" height="5" fill="#f26a3c"/>
<rect x="377.62" y="137.52" width="5" height="5" fill="#f26a3c"/>
<rect x="385" y="137.18" width="5" height="5" fill="#f26a3c"/>
<rect x="392.38" y="136.76" width="5" height="5" fill="#f26a3c"/>
<rect x="399.75" y="136.07" width="5" height="5" fill="#f26a3c"/>
<rect x="407.12" y="134.51" width="5" height="5" fill="#f26a3c"/>
<rect x="414.5" y="129.77" width="5" height="5" fill="#f26a3c"/>
<rect x="421.88" y="112.78" width="5" height="5" fill="#f26a3c"/>
<rect x="429.25" y="49.05" width="5" height="5" fill="#f26a3c"/>
<path d="M269.5,145.25 L270.09,145.23 L270.68,145.2 L271.27,145.18 L271.86,145.16 L272.45,145.14 L273.04,145.12 L273.63,145.09 L274.22,145.07 L274.81,145.05 L275.4,145.03 L275.99,145.01 L276.58,144.99 L277.17,144.96 L277.76,144.94 L278.35,144.92 L278.94,144.9 L279.53,144.88 L280.12,144.85 L280.71,144.83 L281.3,144.81 L281.89,144.79 L282.48,144.77 L283.07,144.74 L283.66,144.72 L284.25,144.7 L284.84,144.68 L285.43,144.66 L286.02,144.63 L286.61,144.61 L287.2,144.59 L287.79,144.57 L288.38,144.55 L288.97,144.52 L289.56,144.5 L290.15,144.48 L290.74,144.46 L291.33,144.44 L291.92,144.41 L292.51,144.39 L293.1,144.37 L293.69,144.35 L294.28,144.33 L294.87,144.3 L295.46,144.28 L296.05,144.26 L296.64,144.24 L297.23,144.22 L297.82,144.2 L298.41,144.17 L299,144.15 L299.59,144.13 L300.18,144.11 L300.77,144.09 L301.36,144.06 L301.95,144.04 L302.54,144.02 L303.13,144 L303.72,143.98 L304.31,143.95 L304.9,143.93 L305.49,143.91 L306.08,143.89 L306.67,143.87 L307.26,143.84 L307.85,143.82 L308.44,143.8 L309.03,143.78 L309.62,143.76 L310.21,143.73 L310.8,143.71 L311.39,143.69 L311.98,143.67 L312.57,143.65 L313.16,143.62 L313.75,143.6 L314.34,143.58 L314.93,143.56 L315.52,143.54 L316.11,143.51 L316.7,143.49 L317.29,143.47 L317.88,143.45 L318.47,143.43 L319.06,143.4 L319.65,143.38 L320.24,143.36 L320.83,143.34 L321.42,143.32 L322.01,143.29 L322.6,143.27 L323.19,143.25 L323.78,143.23 L324.37,143.21 L324.96,143.18 L325.55,143.16 L326.14,143.14 L326.73,143.12 L327.32,143.1 L327.91,143.08 L328.5,143.05 L329.09,143.03 L329.68,143.01 L330.27,142.99 L330.86,142.97 L331.45,142.94 L332.04,142.92 L332.63,142.9 L333.22,142.88 L333.81,142.86 L334.4,142.83 L334.99,142.81 L335.58,142.79 L336.17,142.77 L336.76,142.75 L337.35,142.72 L337.94,142.7 L338.53,142.68 L339.12,142.66 L339.71,142.64 L340.3,142.61 L340.89,142.59 L341.48,142.57 L342.07,142.55 L342.66,142.52 L343.25,142.5 L343.84,142.48 L344.43,142.46 L345.02,142.44 L345.61,142.41 L346.2,142.39 L346.79,142.37 L347.38,142.35 L347.97,142.33 L348.56,142.3 L349.15,142.28 L349.74,142.26 L350.33,142.24 L350.92,142.22 L351.51,142.19 L352.1,142.17 L352.69,142.15 L353.28,142.13 L353.87,142.1 L354.46,142.08 L355.05,142.06 L355.64,142.04 L356.23,142.01 L356.82,141.99 L357.41,141.97 L358,141.95 L358.59,141.93 L359.18,141.9 L359.77,141.88 L360.36,141.86 L360.95,141.84 L361.54,141.81 L362.13,141.79 L362.72,141.77 L363.31,141.75 L363.9,141.72 L364.49,141.7 L365.08,141.68 L365.67,141.65 L366.26,141.63 L366.85,141.61 L367.44,141.59 L368.03,141.56 L368.62,141.54 L369.21,141.52 L369.8,141.49 L370.39,141.47 L370.98,141.45 L371.57,141.42 L372.16,141.4 L372.75,141.38 L373.34,141.35 L373.93,141.33 L374.52,141.31 L375.11,141.28 L375.7,141.26 L376.29,141.23 L376.88,141.21 L377.47,141.18 L378.06,141.16 L378.65,141.14 L379.24,141.11 L379.83,141.09 L380.42,141.06 L381.01,141.03 L381.6,141.01 L382.19,140.98 L382.78,140.96 L383.37,140.93 L383.96,140.9 L384.55,140.88 L385.14,140.85 L385.73,140.82 L386.32,140.79 L386.91,140.76 L387.5,140.73 L388.09,140.7 L388.68,140.67 L389.27,140.64 L389.86,140.61 L390.45,140.58 L391.04,140.55 L391.63,140.51 L392.22,140.48 L392.81,140.44 L393.4,140.4 L393.99,140.37 L394.58,140.33 L395.17,140.29 L395.76,140.24 L396.35,140.2 L396.94,140.15 L397.53,140.1 L398.12,140.05 L398.71,140 L399.3,139.94 L399.89,139.88 L400.48,139.82 L401.07,139.76 L401.66,139.69 L402.25,139.61 L402.84,139.53 L403.43,139.44 L404.02,139.35 L404.61,139.25 L405.2,139.15 L405.79,139.03 L406.38,138.91 L406.97,138.77 L407.56,138.63 L408.15,138.47 L408.74,138.29 L409.33,138.11 L409.92,137.9 L410.51,137.67 L411.1,137.43 L411.69,137.16 L412.28,136.86 L412.87,136.53 L413.46,136.17 L414.05,135.77 L414.64,135.33 L415.23,134.85 L415.82,134.31 L416.41,133.72 L417,133.07 L417.59,132.34 L418.18,131.54 L418.77,130.65 L419.36,129.66 L419.95,128.57 L420.54,127.35 L421.13,126 L421.72,124.49 L422.31,122.82 L422.9,120.97 L423.49,118.9 L424.08,116.6 L424.67,114.04 L425.26,111.19 L425.85,108.01 L426.44,104.48 L427.03,100.54 L427.62,96.15 L428.21,91.26 L428.8,85.82 L429.39,79.76 L429.98,73.04 L430.57,65.61 L431.16,57.45 L431.75,48.6 L432.34,39.14 L432.93,29.21 L433.52,18.93 L434.11,8.31 L434.7,-2.76" fill="none" stroke="#ea7670" stroke-width="1.1"/>
<circle cx="269.5" cy="145.25" r="2.62" fill="#e2463f"/>
<circle cx="276.88" cy="144.97" r="2.62" fill="#e2463f"/>
<circle cx="284.25" cy="144.7" r="2.62" fill="#e2463f"/>
<circle cx="291.62" cy="144.43" r="2.62" fill="#e2463f"/>
<circle cx="299" cy="144.15" r="2.62" fill="#e2463f"/>
<circle cx="306.38" cy="143.88" r="2.62" fill="#e2463f"/>
<circle cx="313.75" cy="143.6" r="2.62" fill="#e2463f"/>
<circle cx="321.12" cy="143.33" r="2.62" fill="#e2463f"/>
<circle cx="328.5" cy="143.05" r="2.62" fill="#e2463f"/>
<circle cx="335.88" cy="142.78" r="2.62" fill="#e2463f"/>
<circle cx="343.25" cy="142.5" r="2.62" fill="#e2463f"/>
<circle cx="350.62" cy="142.23" r="2.62" fill="#e2463f"/>
<circle cx="358" cy="141.95" r="2.62" fill="#e2463f"/>
<circle cx="365.38" cy="141.67" r="2.62" fill="#e2463f"/>
<circle cx="372.75" cy="141.38" r="2.62" fill="#e2463f"/>
<circle cx="380.12" cy="141.07" r="2.62" fill="#e2463f"/>
<circle cx="387.5" cy="140.73" r="2.62" fill="#e2463f"/>
<circle cx="394.88" cy="140.31" r="2.62" fill="#e2463f"/>
<circle cx="402.25" cy="139.61" r="2.62" fill="#e2463f"/>
<circle cx="409.62" cy="138" r="2.62" fill="#e2463f"/>
<circle cx="417" cy="133.07" r="2.62" fill="#e2463f"/>
<circle cx="424.38" cy="115.32" r="2.62" fill="#e2463f"/>
<circle cx="431.75" cy="48.6" r="2.62" fill="#e2463f"/>
<path d="M269.5,148.41 L270.09,148.4 L270.68,148.38 L271.27,148.36 L271.86,148.35 L272.45,148.33 L273.04,148.31 L273.63,148.3 L274.22,148.28 L274.81,148.26 L275.4,148.25 L275.99,148.23 L276.58,148.21 L277.17,148.19 L277.76,148.18 L278.35,148.16 L278.94,148.14 L279.53,148.13 L280.12,148.11 L280.71,148.09 L281.3,148.08 L281.89,148.06 L282.48,148.04 L283.07,148.03 L283.66,148.01 L284.25,147.99 L284.84,147.98 L285.43,147.96 L286.02,147.94 L286.61,147.92 L287.2,147.91 L287.79,147.89 L288.38,147.87 L288.97,147.86 L289.56,147.84 L290.15,147.82 L290.74,147.81 L291.33,147.79 L291.92,147.77 L292.51,147.76 L293.1,147.74 L293.69,147.72 L294.28,147.7 L294.87,147.69 L295.46,147.67 L296.05,147.65 L296.64,147.64 L297.23,147.62 L297.82,147.6 L298.41,147.59 L299,147.57 L299.59,147.55 L300.18,147.54 L300.77,147.52 L301.36,147.5 L301.95,147.49 L302.54,147.47 L303.13,147.45 L303.72,147.43 L304.31,147.42 L304.9,147.4 L305.49,147.38 L306.08,147.37 L306.67,147.35 L307.26,147.33 L307.85,147.32 L308.44,147.3 L309.03,147.28 L309.62,147.27 L310.21,147.25 L310.8,147.23 L311.39,147.22 L311.98,147.2 L312.57,147.18 L313.16,147.16 L313.75,147.15 L314.34,147.13 L314.93,147.11 L315.52,147.1 L316.11,147.08 L316.7,147.06 L317.29,147.05 L317.88,147.03 L318.47,147.01 L319.06,147 L319.65,146.98 L320.24,146.96 L320.83,146.94 L321.42,146.93 L322.01,146.91 L322.6,146.89 L323.19,146.88 L323.78,146.86 L324.37,146.84 L324.96,146.83 L325.55,146.81 L326.14,146.79 L326.73,146.78 L327.32,146.76 L327.91,146.74 L328.5,146.73 L329.09,146.71 L329.68,146.69 L330.27,146.67 L330.86,146.66 L331.45,146.64 L332.04,146.62 L332.63,146.61 L333.22,146.59 L333.81,146.57 L334.4,146.56 L334.99,146.54 L335.58,146.52 L336.17,146.51 L336.76,146.49 L337.35,146.47 L337.94,146.45 L338.53,146.44 L339.12,146.42 L339.71,146.4 L340.3,146.39 L340.89,146.37 L341.48,146.35 L342.07,146.34 L342.66,146.32 L343.25,146.3 L343.84,146.29 L344.43,146.27 L345.02,146.25 L345.61,146.23 L346.2,146.22 L346.79,146.2 L347.38,146.18 L347.97,146.17 L348.56,146.15 L349.15,146.13 L349.74,146.12 L350.33,146.1 L350.92,146.08 L351.51,146.06 L352.1,146.05 L352.69,146.03 L353.28,146.01 L353.87,146 L354.46,145.98 L355.05,145.96 L355.64,145.94 L356.23,145.93 L356.82,145.91 L357.41,145.89 L358,145.88 L358.59,145.86 L359.18,145.84 L359.77,145.82 L360.36,145.81 L360.95,145.79 L361.54,145.77 L362.13,145.76 L362.72,145.74 L363.31,145.72 L363.9,145.7 L364.49,145.69 L365.08,145.67 L365.67,145.65 L366.26,145.63 L366.85,145.62 L367.44,145.6 L368.03,145.58 L368.62,145.56 L369.21,145.55 L369.8,145.53 L370.39,145.51 L370.98,145.49 L371.57,145.47 L372.16,145.46 L372.75,145.44 L373.34,145.42 L373.93,145.4 L374.52,145.38 L375.11,145.37 L375.7,145.35 L376.29,145.33 L376.88,145.31 L377.47,145.29 L378.06,145.27 L378.65,145.25 L379.24,145.24 L379.83,145.22 L380.42,145.2 L381.01,145.18 L381.6,145.16 L382.19,145.14 L382.78,145.12 L383.37,145.1 L383.96,145.08 L384.55,145.06 L385.14,145.04 L385.73,145.02 L386.32,144.99 L386.91,144.97 L387.5,144.95 L388.09,144.93 L388.68,144.9 L389.27,144.88 L389.86,144.86 L390.45,144.83 L391.04,144.81 L391.63,144.78 L392.22,144.75 L392.81,144.73 L393.4,144.7 L393.99,144.67 L394.58,144.64 L395.17,144.61 L395.76,144.58 L396.35,144.54 L396.94,144.51 L397.53,144.47 L398.12,144.43 L398.71,144.39 L399.3,144.34 L399.89,144.3 L400.48,144.25 L401.07,144.2 L401.66,144.14 L402.25,144.08 L402.84,144.02 L403.43,143.95 L404.02,143.88 L404.61,143.8 L405.2,143.71 L405.79,143.62 L406.38,143.52 L406.97,143.41 L407.56,143.29 L408.15,143.16 L408.74,143.02 L409.33,142.87 L409.92,142.7 L410.51,142.51 L411.1,142.31 L411.69,142.08 L412.28,141.83 L412.87,141.56 L413.46,141.26 L414.05,140.93 L414.64,140.56 L415.23,140.16 L415.82,139.71 L416.41,139.21 L417,138.66 L417.59,138.05 L418.18,137.37 L418.77,136.61 L419.36,135.78 L419.95,134.85 L420.54,133.82 L421.13,132.67 L421.72,131.39 L422.31,129.97 L422.9,128.38 L423.49,126.62 L424.08,124.66 L424.67,122.47 L425.26,120.03 L425.85,117.31 L426.44,114.29 L427.03,110.91 L427.62,107.15 L428.21,102.96 L428.8,98.29 L429.39,93.1 L429.98,87.33 L430.57,80.94 L431.16,73.93 L431.75,66.32 L432.34,58.2 L432.93,49.67 L433.52,40.83 L434.11,31.7 L434.7,22.19 L435.29,12.18 L435.88,1.54" fill="none" stroke="#c25072" stroke-width="1.1"/>
<path d="M269.5,145.29 L272.62,150.76 L266.38,150.76Z" fill="#ad1140"/>
<path d="M276.88,145.08 L280,150.55 L273.75,150.55Z" fill="#ad1140"/>
<path d="M284.25,144.87 L287.38,150.34 L281.12,150.34Z" fill="#ad1140"/>
<path d="M291.62,144.66 L294.75,150.12 L288.5,150.12Z" fill="#ad1140"/>
<path d="M299,144.44 L302.12,149.91 L295.88,149.91Z" fill="#ad1140"/>
<path d="M306.38,144.23 L309.5,149.7 L303.25,149.7Z" fill="#ad1140"/>
<path d="M313.75,144.02 L316.88,149.49 L310.62,149.49Z" fill="#ad1140"/>
<path d="M321.12,143.81 L324.25,149.28 L318,149.28Z" fill="#ad1140"/>
<path d="M328.5,143.6 L331.62,149.07 L325.38,149.07Z" fill="#ad1140"/>
<path d="M335.88,143.39 L339,148.86 L332.75,148.86Z" fill="#ad1140"/>
<path d="M343.25,143.18 L346.38,148.65 L340.12,148.65Z" fill="#ad1140"/>
<path d="M350.62,142.96 L353.75,148.43 L347.5,148.43Z" fill="#ad1140"/>
<path d="M358,142.75 L361.12,148.22 L354.88,148.22Z" fill="#ad1140"/>
<path d="M365.38,142.53 L368.5,148 L362.25,148Z" fill="#ad1140"/>
<path d="M372.75,142.31 L375.88,147.78 L369.62,147.78Z" fill="#ad1140"/>
<path d="M380.12,142.08 L383.25,147.55 L377,147.55Z" fill="#ad1140"/>
<path d="M387.5,141.83 L390.62,147.29 L384.38,147.29Z" fill="#ad1140"/>
<path d="M394.88,141.5 L398,146.97 L391.75,146.97Z" fill="#ad1140"/>
<path d="M402.25,140.96 L405.38,146.43 L399.12,146.43Z" fill="#ad1140"/>
<path d="M409.62,139.66 L412.75,145.12 L406.5,145.12Z" fill="#ad1140"/>
<path d="M417,135.53 L420.12,141 L413.88,141Z" fill="#ad1140"/>
<path d="M424.38,120.44 L427.5,125.91 L421.25,125.91Z" fill="#ad1140"/>
<path d="M431.75,63.2 L434.88,68.67 L428.62,68.67Z" fill="#ad1140"/>
<path d="M269.5,147.36 L270.09,147.34 L270.68,147.32 L271.27,147.3 L271.86,147.28 L272.45,147.27 L273.04,147.25 L273.63,147.23 L274.22,147.21 L274.81,147.19 L275.4,147.17 L275.99,147.15 L276.58,147.14 L277.17,147.12 L277.76,147.1 L278.35,147.08 L278.94,147.06 L279.53,147.04 L280.12,147.02 L280.71,147.01 L281.3,146.99 L281.89,146.97 L282.48,146.95 L283.07,146.93 L283.66,146.91 L284.25,146.89 L284.84,146.88 L285.43,146.86 L286.02,146.84 L286.61,146.82 L287.2,146.8 L287.79,146.78 L288.38,146.76 L288.97,146.75 L289.56,146.73 L290.15,146.71 L290.74,146.69 L291.33,146.67 L291.92,146.65 L292.51,146.63 L293.1,146.62 L293.69,146.6 L294.28,146.58 L294.87,146.56 L295.46,146.54 L296.05,146.52 L296.64,146.5 L297.23,146.49 L297.82,146.47 L298.41,146.45 L299,146.43 L299.59,146.41 L300.18,146.39 L300.77,146.37 L301.36,146.36 L301.95,146.34 L302.54,146.32 L303.13,146.3 L303.72,146.28 L304.31,146.26 L304.9,146.24 L305.49,146.23 L306.08,146.21 L306.67,146.19 L307.26,146.17 L307.85,146.15 L308.44,146.13 L309.03,146.11 L309.62,146.1 L310.21,146.08 L310.8,146.06 L311.39,146.04 L311.98,146.02 L312.57,146 L313.16,145.98 L313.75,145.97 L314.34,145.95 L314.93,145.93 L315.52,145.91 L316.11,145.89 L316.7,145.87 L317.29,145.85 L317.88,145.84 L318.47,145.82 L319.06,145.8 L319.65,145.78 L320.24,145.76 L320.83,145.74 L321.42,145.72 L322.01,145.71 L322.6,145.69 L323.19,145.67 L323.78,145.65 L324.37,145.63 L324.96,145.61 L325.55,145.59 L326.14,145.58 L326.73,145.56 L327.32,145.54 L327.91,145.52 L328.5,145.5 L329.09,145.48 L329.68,145.46 L330.27,145.45 L330.86,145.43 L331.45,145.41 L332.04,145.39 L332.63,145.37 L333.22,145.35 L333.81,145.33 L334.4,145.32 L334.99,145.3 L335.58,145.28 L336.17,145.26 L336.76,145.24 L337.35,145.22 L337.94,145.2 L338.53,145.18 L339.12,145.17 L339.71,145.15 L340.3,145.13 L340.89,145.11 L341.48,145.09 L342.07,145.07 L342.66,145.05 L343.25,145.04 L343.84,145.02 L344.43,145 L345.02,144.98 L345.61,144.96 L346.2,144.94 L346.79,144.92 L347.38,144.9 L347.97,144.89 L348.56,144.87 L349.15,144.85 L349.74,144.83 L350.33,144.81 L350.92,144.79 L351.51,144.77 L352.1,144.75 L352.69,144.74 L353.28,144.72 L353.87,144.7 L354.46,144.68 L355.05,144.66 L355.64,144.64 L356.23,144.62 L356.82,144.6 L357.41,144.58 L358,144.57 L358.59,144.55 L359.18,144.53 L359.77,144.51 L360.36,144.49 L360.95,144.47 L361.54,144.45 L362.13,144.43 L362.72,144.41 L363.31,144.39 L363.9,144.38 L364.49,144.36 L365.08,144.34 L365.67,144.32 L366.26,144.3 L366.85,144.28 L367.44,144.26 L368.03,144.24 L368.62,144.22 L369.21,144.2 L369.8,144.18 L370.39,144.16 L370.98,144.14 L371.57,144.12 L372.16,144.1 L372.75,144.08 L373.34,144.06 L373.93,144.04 L374.52,144.02 L375.11,144 L375.7,143.98 L376.29,143.96 L376.88,143.94 L377.47,143.92 L378.06,143.9 L378.65,143.88 L379.24,143.86 L379.83,143.84 L380.42,143.81 L381.01,143.79 L381.6,143.77 L382.19,143.75 L382.78,143.73 L383.37,143.7 L383.96,143.68 L384.55,143.66 L385.14,143.64 L385.73,143.61 L386.32,143.59 L386.91,143.56 L387.5,143.54 L388.09,143.51 L388.68,143.49 L389.27,143.46 L389.86,143.43 L390.45,143.41 L391.04,143.38 L391.63,143.35 L392.22,143.32 L392.81,143.29 L393.4,143.25 L393.99,143.22 L394.58,143.19 L395.17,143.15 L395.76,143.11 L396.35,143.07 L396.94,143.03 L397.53,142.99 L398.12,142.95 L398.71,142.9 L399.3,142.85 L399.89,142.8 L400.48,142.74 L401.07,142.68 L401.66,142.62 L402.25,142.55 L402.84,142.48 L403.43,142.4 L404.02,142.32 L404.61,142.23 L405.2,142.13 L405.79,142.02 L406.38,141.91 L406.97,141.78 L407.56,141.65 L408.15,141.5 L408.74,141.34 L409.33,141.16 L409.92,140.97 L410.51,140.76 L411.1,140.53 L411.69,140.27 L412.28,139.99 L412.87,139.68 L413.46,139.34 L414.05,138.97 L414.64,138.55 L415.23,138.09 L415.82,137.58 L416.41,137.02 L417,136.39 L417.59,135.7 L418.18,134.94 L418.77,134.08 L419.36,133.14 L419.95,132.09 L420.54,130.92 L421.13,129.62 L421.72,128.18 L422.31,126.58 L422.9,124.79 L423.49,122.8 L424.08,120.59 L424.67,118.12 L425.26,115.38 L425.85,112.32 L426.44,108.91 L427.03,105.11 L427.62,100.87 L428.21,96.16 L428.8,90.9 L429.39,85.05 L429.98,78.56 L430.57,71.38 L431.16,63.49 L431.75,54.93 L432.34,45.78 L432.93,36.19 L433.52,26.25 L434.11,15.98 L434.7,5.28" fill="none" stroke="#7e7cc2" stroke-width="1.1"/>
<path d="M269.5,150.48 L272.62,145.02 L266.38,145.02Z" fill="#4d4aa6"/>
<path d="M276.88,150.25 L280,144.78 L273.75,144.78Z" fill="#4d4aa6"/>
<path d="M284.25,150.02 L287.38,144.55 L281.12,144.55Z" fill="#4d4aa6"/>
<path d="M291.62,149.79 L294.75,144.32 L288.5,144.32Z" fill="#4d4aa6"/>
<path d="M299,149.56 L302.12,144.09 L295.88,144.09Z" fill="#4d4aa6"/>
<path d="M306.38,149.32 L309.5,143.85 L303.25,143.85Z" fill="#4d4aa6"/>
<path d="M313.75,149.09 L316.88,143.62 L310.62,143.62Z" fill="#4d4aa6"/>
<path d="M321.12,148.86 L324.25,143.39 L318,143.39Z" fill="#4d4aa6"/>
<path d="M328.5,148.63 L331.62,143.16 L325.38,143.16Z" fill="#4d4aa6"/>
<path d="M335.88,148.39 L339,142.92 L332.75,142.92Z" fill="#4d4aa6"/>
<path d="M343.25,148.16 L346.38,142.69 L340.12,142.69Z" fill="#4d4aa6"/>
<path d="M350.62,147.93 L353.75,142.46 L347.5,142.46Z" fill="#4d4aa6"/>
<path d="M358,147.69 L361.12,142.22 L354.88,142.22Z" fill="#4d4aa6"/>
<path d="M365.38,147.45 L368.5,141.98 L362.25,141.98Z" fill="#4d4aa6"/>
<path d="M372.75,147.21 L375.88,141.74 L369.62,141.74Z" fill="#4d4aa6"/>
<path d="M380.12,146.95 L383.25,141.48 L377,141.48Z" fill="#4d4aa6"/>
<path d="M387.5,146.66 L390.62,141.19 L384.38,141.19Z" fill="#4d4aa6"/>
<path d="M394.88,146.29 L398,140.83 L391.75,140.83Z" fill="#4d4aa6"/>
<path d="M402.25,145.68 L405.38,140.21 L399.12,140.21Z" fill="#4d4aa6"/>
<path d="M409.62,144.19 L412.75,138.72 L406.5,138.72Z" fill="#4d4aa6"/>
<path d="M417,139.52 L420.12,134.05 L413.88,134.05Z" fill="#4d4aa6"/>
<path d="M424.38,122.48 L427.5,117.01 L421.25,117.01Z" fill="#4d4aa6"/>
<path d="M431.75,58.05 L434.88,52.58 L428.62,52.58Z" fill="#4d4aa6"/>
<path d="M269.5,146.09 L270.09,146.07 L270.68,146.05 L271.27,146.03 L271.86,146.01 L272.45,145.99 L273.04,145.97 L273.63,145.95 L274.22,145.93 L274.81,145.91 L275.4,145.89 L275.99,145.87 L276.58,145.85 L277.17,145.83 L277.76,145.81 L278.35,145.79 L278.94,145.77 L279.53,145.75 L280.12,145.73 L280.71,145.71 L281.3,145.69 L281.89,145.67 L282.48,145.65 L283.07,145.63 L283.66,145.61 L284.25,145.59 L284.84,145.57 L285.43,145.55 L286.02,145.53 L286.61,145.51 L287.2,145.48 L287.79,145.46 L288.38,145.44 L288.97,145.42 L289.56,145.4 L290.15,145.38 L290.74,145.36 L291.33,145.34 L291.92,145.32 L292.51,145.3 L293.1,145.28 L293.69,145.26 L294.28,145.24 L294.87,145.22 L295.46,145.2 L296.05,145.18 L296.64,145.16 L297.23,145.14 L297.82,145.12 L298.41,145.1 L299,145.08 L299.59,145.06 L300.18,145.04 L300.77,145.02 L301.36,145 L301.95,144.98 L302.54,144.96 L303.13,144.94 L303.72,144.92 L304.31,144.9 L304.9,144.88 L305.49,144.86 L306.08,144.84 L306.67,144.82 L307.26,144.8 L307.85,144.78 L308.44,144.76 L309.03,144.74 L309.62,144.71 L310.21,144.69 L310.8,144.67 L311.39,144.65 L311.98,144.63 L312.57,144.61 L313.16,144.59 L313.75,144.57 L314.34,144.55 L314.93,144.53 L315.52,144.51 L316.11,144.49 L316.7,144.47 L317.29,144.45 L317.88,144.43 L318.47,144.41 L319.06,144.39 L319.65,144.37 L320.24,144.35 L320.83,144.33 L321.42,144.31 L322.01,144.29 L322.6,144.27 L323.19,144.25 L323.78,144.23 L324.37,144.21 L324.96,144.19 L325.55,144.17 L326.14,144.15 L326.73,144.13 L327.32,144.11 L327.91,144.09 L328.5,144.07 L329.09,144.05 L329.68,144.03 L330.27,144.01 L330.86,143.98 L331.45,143.96 L332.04,143.94 L332.63,143.92 L333.22,143.9 L333.81,143.88 L334.4,143.86 L334.99,143.84 L335.58,143.82 L336.17,143.8 L336.76,143.78 L337.35,143.76 L337.94,143.74 L338.53,143.72 L339.12,143.7 L339.71,143.68 L340.3,143.66 L340.89,143.64 L341.48,143.62 L342.07,143.6 L342.66,143.58 L343.25,143.56 L343.84,143.54 L344.43,143.52 L345.02,143.5 L345.61,143.48 L346.2,143.46 L346.79,143.44 L347.38,143.42 L347.97,143.39 L348.56,143.37 L349.15,143.35 L349.74,143.33 L350.33,143.31 L350.92,143.29 L351.51,143.27 L352.1,143.25 L352.69,143.23 L353.28,143.21 L353.87,143.19 L354.46,143.17 L355.05,143.15 L355.64,143.13 L356.23,143.11 L356.82,143.09 L357.41,143.07 L358,143.05 L358.59,143.02 L359.18,143 L359.77,142.98 L360.36,142.96 L360.95,142.94 L361.54,142.92 L362.13,142.9 L362.72,142.88 L363.31,142.86 L363.9,142.84 L364.49,142.82 L365.08,142.79 L365.67,142.77 L366.26,142.75 L366.85,142.73 L367.44,142.71 L368.03,142.69 L368.62,142.67 L369.21,142.65 L369.8,142.62 L370.39,142.6 L370.98,142.58 L371.57,142.56 L372.16,142.54 L372.75,142.52 L373.34,142.49 L373.93,142.47 L374.52,142.45 L375.11,142.43 L375.7,142.41 L376.29,142.38 L376.88,142.36 L377.47,142.34 L378.06,142.32 L378.65,142.29 L379.24,142.27 L379.83,142.25 L380.42,142.22 L381.01,142.2 L381.6,142.17 L382.19,142.15 L382.78,142.13 L383.37,142.1 L383.96,142.08 L384.55,142.05 L385.14,142.03 L385.73,142 L386.32,141.97 L386.91,141.95 L387.5,141.92 L388.09,141.89 L388.68,141.86 L389.27,141.83 L389.86,141.8 L390.45,141.77 L391.04,141.74 L391.63,141.71 L392.22,141.68 L392.81,141.65 L393.4,141.61 L393.99,141.58 L394.58,141.54 L395.17,141.5 L395.76,141.46 L396.35,141.42 L396.94,141.38 L397.53,141.33 L398.12,141.29 L398.71,141.24 L399.3,141.18 L399.89,141.13 L400.48,141.07 L401.07,141.01 L401.66,140.95 L402.25,140.88 L402.84,140.8 L403.43,140.72 L404.02,140.64 L404.61,140.55 L405.2,140.45 L405.79,140.35 L406.38,140.24 L406.97,140.11 L407.56,139.98 L408.15,139.84 L408.74,139.68 L409.33,139.51 L409.92,139.33 L410.51,139.12 L411.1,138.9 L411.69,138.66 L412.28,138.39 L412.87,138.1 L413.46,137.78 L414.05,137.42 L414.64,137.03 L415.23,136.6 L415.82,136.13 L416.41,135.6 L417,135.02 L417.59,134.38 L418.18,133.67 L418.77,132.88 L419.36,132.01 L419.95,131.04 L420.54,129.97 L421.13,128.77 L421.72,127.45 L422.31,125.98 L422.9,124.34 L423.49,122.52 L424.08,120.5 L424.67,118.25 L425.26,115.74 L425.85,112.95 L426.44,109.84 L427.03,106.39 L427.62,102.53 L428.21,98.24 L428.8,93.47 L429.39,88.16 L429.98,82.26 L430.57,75.75 L431.16,68.6 L431.75,60.84 L432.34,52.55 L432.93,43.85 L433.52,34.84 L434.11,25.53 L434.7,15.83 L435.29,5.61" fill="none" stroke="#92aede" stroke-width="1.1"/>
<path d="M269.5,142.72 L272.88,146.09 L269.5,149.47 L266.12,146.09Z" fill="#6b8fd2"/>
<path d="M276.88,142.46 L280.25,145.84 L276.88,149.21 L273.5,145.84Z" fill="#6b8fd2"/>
<path d="M284.25,142.21 L287.62,145.59 L284.25,148.96 L280.88,145.59Z" fill="#6b8fd2"/>
<path d="M291.62,141.96 L295,145.33 L291.62,148.71 L288.25,145.33Z" fill="#6b8fd2"/>
<path d="M299,141.7 L302.38,145.08 L299,148.45 L295.62,145.08Z" fill="#6b8fd2"/>
<path d="M306.38,141.45 L309.75,144.83 L306.38,148.2 L303,144.83Z" fill="#6b8fd2"/>
<path d="M313.75,141.2 L317.12,144.57 L313.75,147.95 L310.38,144.57Z" fill="#6b8fd2"/>
<path d="M321.12,140.94 L324.5,144.32 L321.12,147.69 L317.75,144.32Z" fill="#6b8fd2"/>
<path d="M328.5,140.69 L331.88,144.07 L328.5,147.44 L325.12,144.07Z" fill="#6b8fd2"/>
<path d="M335.88,140.44 L339.25,143.81 L335.88,147.19 L332.5,143.81Z" fill="#6b8fd2"/>
<path d="M343.25,140.18 L346.62,143.56 L343.25,146.93 L339.88,143.56Z" fill="#6b8fd2"/>
<path d="M350.62,139.93 L354,143.3 L350.62,146.68 L347.25,143.3Z" fill="#6b8fd2"/>
<path d="M358,139.67 L361.38,143.05 L358,146.42 L354.62,143.05Z" fill="#6b8fd2"/>
<path d="M365.38,139.41 L368.75,142.78 L365.38,146.16 L362,142.78Z" fill="#6b8fd2"/>
<path d="M372.75,139.14 L376.12,142.52 L372.75,145.89 L369.38,142.52Z" fill="#6b8fd2"/>
<path d="M380.12,138.86 L383.5,142.23 L380.12,145.61 L376.75,142.23Z" fill="#6b8fd2"/>
<path d="M387.5,138.54 L390.88,141.92 L387.5,145.29 L384.12,141.92Z" fill="#6b8fd2"/>
<path d="M394.88,138.14 L398.25,141.52 L394.88,144.89 L391.5,141.52Z" fill="#6b8fd2"/>
<path d="M402.25,137.5 L405.62,140.88 L402.25,144.25 L398.88,140.88Z" fill="#6b8fd2"/>
<path d="M409.62,136.04 L413,139.42 L409.62,142.79 L406.25,139.42Z" fill="#6b8fd2"/>
<path d="M417,131.65 L420.38,135.02 L417,138.4 L413.62,135.02Z" fill="#6b8fd2"/>
<path d="M424.38,116 L427.75,119.37 L424.38,122.75 L421,119.37Z" fill="#6b8fd2"/>
<path d="M431.75,57.46 L435.12,60.84 L431.75,64.21 L428.38,60.84Z" fill="#6b8fd2"/>
<path d="M269.5,142.51 L270.09,142.48 L270.68,142.45 L271.27,142.42 L271.86,142.4 L272.45,142.37 L273.04,142.34 L273.63,142.32 L274.22,142.29 L274.81,142.26 L275.4,142.24 L275.99,142.21 L276.58,142.18 L277.17,142.15 L277.76,142.13 L278.35,142.1 L278.94,142.07 L279.53,142.05 L280.12,142.02 L280.71,141.99 L281.3,141.96 L281.89,141.94 L282.48,141.91 L283.07,141.88 L283.66,141.86 L284.25,141.83 L284.84,141.8 L285.43,141.78 L286.02,141.75 L286.61,141.72 L287.2,141.69 L287.79,141.67 L288.38,141.64 L288.97,141.61 L289.56,141.59 L290.15,141.56 L290.74,141.53 L291.33,141.51 L291.92,141.48 L292.51,141.45 L293.1,141.42 L293.69,141.4 L294.28,141.37 L294.87,141.34 L295.46,141.32 L296.05,141.29 L296.64,141.26 L297.23,141.24 L297.82,141.21 L298.41,141.18 L299,141.15 L299.59,141.13 L300.18,141.1 L300.77,141.07 L301.36,141.05 L301.95,141.02 L302.54,140.99 L303.13,140.97 L303.72,140.94 L304.31,140.91 L304.9,140.88 L305.49,140.86 L306.08,140.83 L306.67,140.8 L307.26,140.78 L307.85,140.75 L308.44,140.72 L309.03,140.69 L309.62,140.67 L310.21,140.64 L310.8,140.61 L311.39,140.59 L311.98,140.56 L312.57,140.53 L313.16,140.51 L313.75,140.48 L314.34,140.45 L314.93,140.42 L315.52,140.4 L316.11,140.37 L316.7,140.34 L317.29,140.32 L317.88,140.29 L318.47,140.26 L319.06,140.24 L319.65,140.21 L320.24,140.18 L320.83,140.15 L321.42,140.13 L322.01,140.1 L322.6,140.07 L323.19,140.05 L323.78,140.02 L324.37,139.99 L324.96,139.96 L325.55,139.94 L326.14,139.91 L326.73,139.88 L327.32,139.86 L327.91,139.83 L328.5,139.8 L329.09,139.77 L329.68,139.75 L330.27,139.72 L330.86,139.69 L331.45,139.67 L332.04,139.64 L332.63,139.61 L333.22,139.58 L333.81,139.56 L334.4,139.53 L334.99,139.5 L335.58,139.48 L336.17,139.45 L336.76,139.42 L337.35,139.39 L337.94,139.37 L338.53,139.34 L339.12,139.31 L339.71,139.28 L340.3,139.26 L340.89,139.23 L341.48,139.2 L342.07,139.18 L342.66,139.15 L343.25,139.12 L343.84,139.09 L344.43,139.07 L345.02,139.04 L345.61,139.01 L346.2,138.98 L346.79,138.96 L347.38,138.93 L347.97,138.9 L348.56,138.87 L349.15,138.85 L349.74,138.82 L350.33,138.79 L350.92,138.76 L351.51,138.73 L352.1,138.71 L352.69,138.68 L353.28,138.65 L353.87,138.62 L354.46,138.59 L355.05,138.57 L355.64,138.54 L356.23,138.51 L356.82,138.48 L357.41,138.45 L358,138.42 L358.59,138.4 L359.18,138.37 L359.77,138.34 L360.36,138.31 L360.95,138.28 L361.54,138.25 L362.13,138.22 L362.72,138.19 L363.31,138.17 L363.9,138.14 L364.49,138.11 L365.08,138.08 L365.67,138.05 L366.26,138.02 L366.85,137.99 L367.44,137.96 L368.03,137.93 L368.62,137.9 L369.21,137.87 L369.8,137.84 L370.39,137.8 L370.98,137.77 L371.57,137.74 L372.16,137.71 L372.75,137.68 L373.34,137.65 L373.93,137.61 L374.52,137.58 L375.11,137.55 L375.7,137.51 L376.29,137.48 L376.88,137.45 L377.47,137.41 L378.06,137.38 L378.65,137.34 L379.24,137.31 L379.83,137.27 L380.42,137.23 L381.01,137.2 L381.6,137.16 L382.19,137.12 L382.78,137.08 L383.37,137.04 L383.96,137 L384.55,136.96 L385.14,136.92 L385.73,136.88 L386.32,136.83 L386.91,136.79 L387.5,136.74 L388.09,136.7 L388.68,136.65 L389.27,136.6 L389.86,136.55 L390.45,136.5 L391.04,136.45 L391.63,136.39 L392.22,136.34 L392.81,136.28 L393.4,136.22 L393.99,136.16 L394.58,136.09 L395.17,136.03 L395.76,135.96 L396.35,135.89 L396.94,135.82 L397.53,135.74 L398.12,135.66 L398.71,135.58 L399.3,135.49 L399.89,135.4 L400.48,135.3 L401.07,135.2 L401.66,135.1 L402.25,134.99 L402.84,134.87 L403.43,134.75 L404.02,134.62 L404.61,134.48 L405.2,134.34 L405.79,134.19 L406.38,134.02 L406.97,133.85 L407.56,133.66 L408.15,133.47 L408.74,133.25 L409.33,133.03 L409.92,132.79 L410.51,132.53 L411.1,132.25 L411.69,131.95 L412.28,131.62 L412.87,131.27 L413.46,130.89 L414.05,130.48 L414.64,130.04 L415.23,129.55 L415.82,129.03 L416.41,128.46 L417,127.84 L417.59,127.16 L418.18,126.42 L418.77,125.61 L419.36,124.73 L419.95,123.76 L420.54,122.7 L421.13,121.53 L421.72,120.25 L422.31,118.85 L422.9,117.3 L423.49,115.6 L424.08,113.72 L424.67,111.66 L425.26,109.37 L425.85,106.85 L426.44,104.07 L427.03,100.99 L427.62,97.59 L428.21,93.83 L428.8,89.67 L429.39,85.07 L429.98,79.99 L430.57,74.4 L431.16,68.29 L431.75,61.68 L432.34,54.63 L432.93,47.23 L433.52,39.56 L434.11,31.61 L434.7,23.34 L435.29,14.62 L435.88,5.37 L436.47,-4.52" fill="none" stroke="#94c9e7" stroke-width="1.1"/>
<path d="M266.38,142.51 L271.84,139.38 L271.84,145.63Z" fill="#6bb3dd"/>
<path d="M273.75,142.17 L279.22,139.04 L279.22,145.29Z" fill="#6bb3dd"/>
<path d="M281.12,141.83 L286.59,138.7 L286.59,144.95Z" fill="#6bb3dd"/>
<path d="M288.5,141.49 L293.97,138.37 L293.97,144.62Z" fill="#6bb3dd"/>
<path d="M295.88,141.15 L301.34,138.03 L301.34,144.28Z" fill="#6bb3dd"/>
<path d="M303.25,140.82 L308.72,137.69 L308.72,143.94Z" fill="#6bb3dd"/>
<path d="M310.62,140.48 L316.09,137.35 L316.09,143.6Z" fill="#6bb3dd"/>
<path d="M318,140.14 L323.47,137.02 L323.47,143.27Z" fill="#6bb3dd"/>
<path d="M325.38,139.8 L330.84,136.68 L330.84,142.93Z" fill="#6bb3dd"/>
<path d="M332.75,139.46 L338.22,136.34 L338.22,142.59Z" fill="#6bb3dd"/>
<path d="M340.12,139.12 L345.59,136 L345.59,142.25Z" fill="#6bb3dd"/>
<path d="M347.5,138.78 L352.97,135.65 L352.97,141.9Z" fill="#6bb3dd"/>
<path d="M354.88,138.42 L360.34,135.3 L360.34,141.55Z" fill="#6bb3dd"/>
<path d="M362.25,138.06 L367.72,134.94 L367.72,141.19Z" fill="#6bb3dd"/>
<path d="M369.62,137.68 L375.09,134.55 L375.09,140.8Z" fill="#6bb3dd"/>
<path d="M377,137.25 L382.47,134.13 L382.47,140.38Z" fill="#6bb3dd"/>
<path d="M384.38,136.74 L389.84,133.62 L389.84,139.87Z" fill="#6bb3dd"/>
<path d="M391.75,136.06 L397.22,132.94 L397.22,139.19Z" fill="#6bb3dd"/>
<path d="M399.12,134.99 L404.59,131.86 L404.59,138.11Z" fill="#6bb3dd"/>
<path d="M406.5,132.91 L411.97,129.78 L411.97,136.03Z" fill="#6bb3dd"/>
<path d="M413.88,127.84 L419.34,124.71 L419.34,130.96Z" fill="#6bb3dd"/>
<path d="M421.25,112.69 L426.72,109.56 L426.72,115.81Z" fill="#6bb3dd"/>
<path d="M428.62,61.68 L434.09,58.56 L434.09,64.81Z" fill="#6bb3dd"/>
</g>
<line x1="269.5" y1="12.3" x2="446.5" y2="12.3" stroke="#262626" stroke-width="1.15" />
<line x1="269.5" y1="155.8" x2="446.5" y2="155.8" stroke="#262626" stroke-width="1.15" />
<line x1="269.5" y1="11.8" x2="269.5" y2="156.3" stroke="#262626" stroke-width="1.15" />
<line x1="446.5" y1="11.8" x2="446.5" y2="156.3" stroke="#262626" stroke-width="1.15" />
<line x1="266.9" y1="12.3" x2="269.5" y2="12.3" stroke="#262626" stroke-width="1.05" />
<text x="264.9" y="16.25" font-size="11.5" text-anchor="end" fill="#1a1a1a" stroke="#1a1a1a" stroke-width="0.2" font-weight="normal" >5</text>
<line x1="266.9" y1="33.4" x2="269.5" y2="33.4" stroke="#262626" stroke-width="1.05" />
<text x="264.9" y="37.35" font-size="11.5" text-anchor="end" fill="#1a1a1a" stroke="#1a1a1a" stroke-width="0.2" font-weight="normal" >0</text>
<line x1="266.9" y1="54.51" x2="269.5" y2="54.51" stroke="#262626" stroke-width="1.05" />
<text x="264.9" y="58.46" font-size="11.5" text-anchor="end" fill="#1a1a1a" stroke="#1a1a1a" stroke-width="0.2" font-weight="normal" >-5</text>
<line x1="266.9" y1="75.61" x2="269.5" y2="75.61" stroke="#262626" stroke-width="1.05" />
<text x="264.9" y="79.56" font-size="11.5" text-anchor="end" fill="#1a1a1a" stroke="#1a1a1a" stroke-width="0.2" font-weight="normal" >-10</text>
<line x1="266.9" y1="96.71" x2="269.5" y2="96.71" stroke="#262626" stroke-width="1.05" />
<text x="264.9" y="100.66" font-size="11.5" text-anchor="end" fill="#1a1a1a" stroke="#1a1a1a" stroke-width="0.2" font-weight="normal" >-15</text>
<line x1="266.9" y1="117.81" x2="269.5" y2="117.81" stroke="#262626" stroke-width="1.05" />
<text x="264.9" y="121.76" font-size="11.5" text-anchor="end" fill="#1a1a1a" stroke="#1a1a1a" stroke-width="0.2" font-weight="normal" >-20</text>
<line x1="266.9" y1="138.92" x2="269.5" y2="138.92" stroke="#262626" stroke-width="1.05" />
<text x="264.9" y="142.87" font-size="11.5" text-anchor="end" fill="#1a1a1a" stroke="#1a1a1a" stroke-width="0.2" font-weight="normal" >-25</text>
<line x1="267.9" y1="22.85" x2="269.5" y2="22.85" stroke="#262626" stroke-width="1" />
<line x1="267.9" y1="43.95" x2="269.5" y2="43.95" stroke="#262626" stroke-width="1" />
<line x1="267.9" y1="65.06" x2="269.5" y2="65.06" stroke="#262626" stroke-width="1" />
<line x1="267.9" y1="86.16" x2="269.5" y2="86.16" stroke="#262626" stroke-width="1" />
<line x1="267.9" y1="107.26" x2="269.5" y2="107.26" stroke="#262626" stroke-width="1" />
<line x1="267.9" y1="128.37" x2="269.5" y2="128.37" stroke="#262626" stroke-width="1" />
<line x1="267.9" y1="149.47" x2="269.5" y2="149.47" stroke="#262626" stroke-width="1" />
<line x1="269.5" y1="155.8" x2="269.5" y2="158.4" stroke="#262626" stroke-width="1.05" />
<text x="268.7" y="168.7" font-size="11.5" text-anchor="middle" fill="#1a1a1a" stroke="#1a1a1a" stroke-width="0.2" font-weight="normal" >-0.2</text>
<line x1="299" y1="155.8" x2="299" y2="158.4" stroke="#262626" stroke-width="1.05" />
<text x="296.9" y="168.7" font-size="11.5" text-anchor="middle" fill="#1a1a1a" stroke="#1a1a1a" stroke-width="0.2" font-weight="normal" >0.0</text>
<line x1="328.5" y1="155.8" x2="328.5" y2="158.4" stroke="#262626" stroke-width="1.05" />
<text x="326.4" y="168.7" font-size="11.5" text-anchor="middle" fill="#1a1a1a" stroke="#1a1a1a" stroke-width="0.2" font-weight="normal" >0.2</text>
<line x1="358" y1="155.8" x2="358" y2="158.4" stroke="#262626" stroke-width="1.05" />
<text x="355.9" y="168.7" font-size="11.5" text-anchor="middle" fill="#1a1a1a" stroke="#1a1a1a" stroke-width="0.2" font-weight="normal" >0.4</text>
<line x1="387.5" y1="155.8" x2="387.5" y2="158.4" stroke="#262626" stroke-width="1.05" />
<text x="385.4" y="168.7" font-size="11.5" text-anchor="middle" fill="#1a1a1a" stroke="#1a1a1a" stroke-width="0.2" font-weight="normal" >0.6</text>
<line x1="417" y1="155.8" x2="417" y2="158.4" stroke="#262626" stroke-width="1.05" />
<text x="414.9" y="168.7" font-size="11.5" text-anchor="middle" fill="#1a1a1a" stroke="#1a1a1a" stroke-width="0.2" font-weight="normal" >0.8</text>
<line x1="446.5" y1="155.8" x2="446.5" y2="158.4" stroke="#262626" stroke-width="1.05" />
<text x="444.4" y="168.7" font-size="11.5" text-anchor="middle" fill="#1a1a1a" stroke="#1a1a1a" stroke-width="0.2" font-weight="normal" >1.0</text>
<line x1="284.25" y1="155.8" x2="284.25" y2="157.4" stroke="#262626" stroke-width="1" />
<line x1="313.75" y1="155.8" x2="313.75" y2="157.4" stroke="#262626" stroke-width="1" />
<line x1="343.25" y1="155.8" x2="343.25" y2="157.4" stroke="#262626" stroke-width="1" />
<line x1="372.75" y1="155.8" x2="372.75" y2="157.4" stroke="#262626" stroke-width="1" />
<line x1="402.25" y1="155.8" x2="402.25" y2="157.4" stroke="#262626" stroke-width="1" />
<line x1="431.75" y1="155.8" x2="431.75" y2="157.4" stroke="#262626" stroke-width="1" />
<text x="358" y="180" font-size="11.5" text-anchor="middle" fill="#1a1a1a" stroke="#1a1a1a" stroke-width="0.2" font-weight="normal" >Voltage (V)</text>
<text transform="translate(242.2,84.05) rotate(-90)" font-size="11.5" text-anchor="middle" fill="#1a1a1a" stroke="#1a1a1a" stroke-width="0.2">Current density (mA cm<tspan font-size="7.5" dy="-3.4">-2</tspan><tspan dy="3.4">)</tspan></text>
<line x1="309" y1="46.6" x2="334.8" y2="46.6" stroke="#f69a78" stroke-width="1.3"/>
<rect x="319.4" y="44.1" width="5" height="5" fill="#f26a3c"/>
<text x="338.1" y="50.5" font-size="11.5" text-anchor="start" fill="#1a1a1a" stroke="#1a1a1a" stroke-width="0.2" font-weight="normal" >SVD-0</text>
<line x1="309" y1="60.6" x2="334.8" y2="60.6" stroke="#ea7670" stroke-width="1.3"/>
<circle cx="321.9" cy="60.6" r="2.62" fill="#e2463f"/>
<text x="338.1" y="64.5" font-size="11.5" text-anchor="start" fill="#1a1a1a" stroke="#1a1a1a" stroke-width="0.2" font-weight="normal" >SVD-10</text>
<line x1="309" y1="74.5" x2="334.8" y2="74.5" stroke="#c25072" stroke-width="1.3"/>
<path d="M321.9,71.38 L325.02,76.84 L318.77,76.84Z" fill="#ad1140"/>
<text x="338.1" y="78.4" font-size="11.5" text-anchor="start" fill="#1a1a1a" stroke="#1a1a1a" stroke-width="0.2" font-weight="normal" >SVD-20</text>
<line x1="309" y1="88.5" x2="334.8" y2="88.5" stroke="#7e7cc2" stroke-width="1.3"/>
<path d="M321.9,91.62 L325.02,86.16 L318.77,86.16Z" fill="#4d4aa6"/>
<text x="338.1" y="92.4" font-size="11.5" text-anchor="start" fill="#1a1a1a" stroke="#1a1a1a" stroke-width="0.2" font-weight="normal" >SVD-40</text>
<line x1="309" y1="102.5" x2="334.8" y2="102.5" stroke="#92aede" stroke-width="1.3"/>
<path d="M321.9,99.12 L325.27,102.5 L321.9,105.88 L318.52,102.5Z" fill="#6b8fd2"/>
<text x="338.1" y="106.4" font-size="11.5" text-anchor="start" fill="#1a1a1a" stroke="#1a1a1a" stroke-width="0.2" font-weight="normal" >SVD-60</text>
<line x1="309" y1="116.6" x2="334.8" y2="116.6" stroke="#94c9e7" stroke-width="1.3"/>
<path d="M318.77,116.6 L324.24,113.47 L324.24,119.72Z" fill="#6bb3dd"/>
<text x="338.1" y="120.5" font-size="11.5" text-anchor="start" fill="#1a1a1a" stroke="#1a1a1a" stroke-width="0.2" font-weight="normal" >SVD-120</text>
<text x="222.3" y="194.2" font-size="12.5" text-anchor="start" fill="#000" font-weight="bold" >e</text>
<line x1="270" y1="217.75" x2="446.5" y2="217.75" stroke="#222" stroke-width="1" stroke-dasharray="3.6,2.6"/>
<line x1="299.82" y1="197.1" x2="299.82" y2="339" stroke="#111" stroke-width="1.1" stroke-dasharray="3.6,2.6"/>
<clipPath id="clipe"><rect x="270.0" y="196.1" width="176.5" height="142.9"/></clipPath>
<g clip-path="url(#clipe)">
<path d="M270,331.21 L270.59,331.19 L271.18,331.17 L271.76,331.15 L272.35,331.14 L272.94,331.12 L273.53,331.1 L274.12,331.08 L274.71,331.07 L275.3,331.05 L275.88,331.03 L276.47,331.01 L277.06,331 L277.65,330.98 L278.24,330.96 L278.82,330.95 L279.41,330.93 L280,330.91 L280.59,330.89 L281.18,330.88 L281.77,330.86 L282.36,330.84 L282.94,330.82 L283.53,330.81 L284.12,330.79 L284.71,330.77 L285.3,330.76 L285.88,330.74 L286.47,330.72 L287.06,330.7 L287.65,330.69 L288.24,330.67 L288.83,330.65 L289.42,330.63 L290,330.62 L290.59,330.6 L291.18,330.58 L291.77,330.56 L292.36,330.55 L292.95,330.53 L293.53,330.51 L294.12,330.5 L294.71,330.48 L295.3,330.46 L295.89,330.44 L296.48,330.43 L297.06,330.41 L297.65,330.39 L298.24,330.37 L298.83,330.36 L299.42,330.34 L300,330.32 L300.59,330.3 L301.18,330.29 L301.77,330.27 L302.36,330.25 L302.95,330.24 L303.54,330.22 L304.12,330.2 L304.71,330.18 L305.3,330.17 L305.89,330.15 L306.48,330.13 L307.07,330.11 L307.65,330.1 L308.24,330.08 L308.83,330.06 L309.42,330.04 L310.01,330.03 L310.6,330.01 L311.18,329.99 L311.77,329.98 L312.36,329.96 L312.95,329.94 L313.54,329.92 L314.13,329.91 L314.71,329.89 L315.3,329.87 L315.89,329.85 L316.48,329.84 L317.07,329.82 L317.66,329.8 L318.24,329.78 L318.83,329.77 L319.42,329.75 L320.01,329.73 L320.6,329.72 L321.19,329.7 L321.77,329.68 L322.36,329.66 L322.95,329.65 L323.54,329.63 L324.13,329.61 L324.72,329.59 L325.3,329.58 L325.89,329.56 L326.48,329.54 L327.07,329.52 L327.66,329.51 L328.25,329.49 L328.83,329.47 L329.42,329.46 L330.01,329.44 L330.6,329.42 L331.19,329.4 L331.78,329.39 L332.36,329.37 L332.95,329.35 L333.54,329.33 L334.13,329.32 L334.72,329.3 L335.31,329.28 L335.89,329.26 L336.48,329.25 L337.07,329.23 L337.66,329.21 L338.25,329.19 L338.84,329.18 L339.42,329.16 L340.01,329.14 L340.6,329.12 L341.19,329.11 L341.78,329.09 L342.37,329.07 L342.95,329.05 L343.54,329.04 L344.13,329.02 L344.72,329 L345.31,328.98 L345.9,328.97 L346.48,328.95 L347.07,328.93 L347.66,328.91 L348.25,328.9 L348.84,328.88 L349.43,328.86 L350.01,328.84 L350.6,328.83 L351.19,328.81 L351.78,328.79 L352.37,328.77 L352.96,328.76 L353.54,328.74 L354.13,328.72 L354.72,328.7 L355.31,328.68 L355.9,328.67 L356.49,328.65 L357.07,328.63 L357.66,328.61 L358.25,328.6 L358.84,328.58 L359.43,328.56 L360.02,328.54 L360.6,328.52 L361.19,328.51 L361.78,328.49 L362.37,328.47 L362.96,328.45 L363.55,328.43 L364.13,328.41 L364.72,328.4 L365.31,328.38 L365.9,328.36 L366.49,328.34 L367.08,328.32 L367.66,328.3 L368.25,328.29 L368.84,328.27 L369.43,328.25 L370.02,328.23 L370.61,328.21 L371.19,328.19 L371.78,328.17 L372.37,328.15 L372.96,328.13 L373.55,328.11 L374.14,328.09 L374.72,328.07 L375.31,328.05 L375.9,328.03 L376.49,328.01 L377.08,327.99 L377.67,327.97 L378.25,327.95 L378.84,327.93 L379.43,327.91 L380.02,327.89 L380.61,327.87 L381.2,327.84 L381.78,327.82 L382.37,327.8 L382.96,327.78 L383.55,327.75 L384.14,327.73 L384.73,327.71 L385.31,327.68 L385.9,327.66 L386.49,327.63 L387.08,327.61 L387.67,327.58 L388.26,327.55 L388.84,327.53 L389.43,327.5 L390.02,327.47 L390.61,327.44 L391.2,327.41 L391.79,327.38 L392.37,327.34 L392.96,327.31 L393.55,327.27 L394.14,327.24 L394.73,327.2 L395.32,327.16 L395.9,327.12 L396.49,327.08 L397.08,327.03 L397.67,326.99 L398.26,326.94 L398.85,326.88 L399.43,326.83 L400.02,326.77 L400.61,326.71 L401.2,326.64 L401.79,326.57 L402.38,326.5 L402.96,326.42 L403.55,326.33 L404.14,326.24 L404.73,326.14 L405.32,326.04 L405.91,325.92 L406.49,325.8 L407.08,325.67 L407.67,325.52 L408.26,325.36 L408.85,325.19 L409.44,325.01 L410.02,324.8 L410.61,324.58 L411.2,324.34 L411.79,324.07 L412.38,323.78 L412.97,323.46 L413.55,323.11 L414.14,322.72 L414.73,322.29 L415.32,321.82 L415.91,321.3 L416.5,320.73 L417.08,320.1 L417.67,319.4 L418.26,318.62 L418.85,317.77 L419.44,316.82 L420.03,315.77 L420.61,314.61 L421.2,313.31 L421.79,311.88 L422.38,310.29 L422.97,308.52 L423.56,306.55 L424.14,304.37 L424.73,301.94 L425.32,299.24 L425.91,296.23 L426.5,292.89 L427.09,289.17 L427.67,285.03 L428.26,280.41 L428.85,275.28 L429.44,269.58 L430.03,263.26 L430.62,256.26 L431.2,248.59 L431.79,240.27 L432.38,231.38 L432.97,222.05 L433.56,212.39 L434.15,202.4 L434.73,191.99 L435.32,181.04" fill="none" stroke="#f69a78" stroke-width="1.1"/>
<rect x="267.8" y="329.01" width="4.4" height="4.4" fill="#f26a3c"/>
<rect x="275.15" y="328.79" width="4.4" height="4.4" fill="#f26a3c"/>
<rect x="282.51" y="328.57" width="4.4" height="4.4" fill="#f26a3c"/>
<rect x="289.86" y="328.36" width="4.4" height="4.4" fill="#f26a3c"/>
<rect x="297.22" y="328.14" width="4.4" height="4.4" fill="#f26a3c"/>
<rect x="304.57" y="327.92" width="4.4" height="4.4" fill="#f26a3c"/>
<rect x="311.93" y="327.71" width="4.4" height="4.4" fill="#f26a3c"/>
<rect x="319.28" y="327.49" width="4.4" height="4.4" fill="#f26a3c"/>
<rect x="326.63" y="327.27" width="4.4" height="4.4" fill="#f26a3c"/>
<rect x="333.99" y="327.06" width="4.4" height="4.4" fill="#f26a3c"/>
<rect x="341.34" y="326.84" width="4.4" height="4.4" fill="#f26a3c"/>
<rect x="348.7" y="326.62" width="4.4" height="4.4" fill="#f26a3c"/>
<rect x="356.05" y="326.4" width="4.4" height="4.4" fill="#f26a3c"/>
<rect x="363.4" y="326.17" width="4.4" height="4.4" fill="#f26a3c"/>
<rect x="370.76" y="325.93" width="4.4" height="4.4" fill="#f26a3c"/>
<rect x="378.11" y="325.68" width="4.4" height="4.4" fill="#f26a3c"/>
<rect x="385.47" y="325.38" width="4.4" height="4.4" fill="#f26a3c"/>
<rect x="392.82" y="324.98" width="4.4" height="4.4" fill="#f26a3c"/>
<rect x="400.18" y="324.3" width="4.4" height="4.4" fill="#f26a3c"/>
<rect x="407.53" y="322.7" width="4.4" height="4.4" fill="#f26a3c"/>
<rect x="414.88" y="317.9" width="4.4" height="4.4" fill="#f26a3c"/>
<rect x="422.24" y="300.96" width="4.4" height="4.4" fill="#f26a3c"/>
<rect x="429.59" y="238.07" width="4.4" height="4.4" fill="#f26a3c"/>
<path d="M270,335.1 L270.59,335.09 L271.18,335.07 L271.76,335.06 L272.35,335.04 L272.94,335.02 L273.53,335.01 L274.12,334.99 L274.71,334.98 L275.3,334.96 L275.88,334.95 L276.47,334.93 L277.06,334.92 L277.65,334.9 L278.24,334.88 L278.82,334.87 L279.41,334.85 L280,334.84 L280.59,334.82 L281.18,334.81 L281.77,334.79 L282.36,334.78 L282.94,334.76 L283.53,334.74 L284.12,334.73 L284.71,334.71 L285.3,334.7 L285.88,334.68 L286.47,334.67 L287.06,334.65 L287.65,334.64 L288.24,334.62 L288.83,334.6 L289.42,334.59 L290,334.57 L290.59,334.56 L291.18,334.54 L291.77,334.53 L292.36,334.51 L292.95,334.49 L293.53,334.48 L294.12,334.46 L294.71,334.45 L295.3,334.43 L295.89,334.42 L296.48,334.4 L297.06,334.39 L297.65,334.37 L298.24,334.35 L298.83,334.34 L299.42,334.32 L300,334.31 L300.59,334.29 L301.18,334.28 L301.77,334.26 L302.36,334.25 L302.95,334.23 L303.54,334.21 L304.12,334.2 L304.71,334.18 L305.3,334.17 L305.89,334.15 L306.48,334.14 L307.07,334.12 L307.65,334.1 L308.24,334.09 L308.83,334.07 L309.42,334.06 L310.01,334.04 L310.6,334.03 L311.18,334.01 L311.77,334 L312.36,333.98 L312.95,333.96 L313.54,333.95 L314.13,333.93 L314.71,333.92 L315.3,333.9 L315.89,333.89 L316.48,333.87 L317.07,333.86 L317.66,333.84 L318.24,333.82 L318.83,333.81 L319.42,333.79 L320.01,333.78 L320.6,333.76 L321.19,333.75 L321.77,333.73 L322.36,333.72 L322.95,333.7 L323.54,333.68 L324.13,333.67 L324.72,333.65 L325.3,333.64 L325.89,333.62 L326.48,333.61 L327.07,333.59 L327.66,333.57 L328.25,333.56 L328.83,333.54 L329.42,333.53 L330.01,333.51 L330.6,333.5 L331.19,333.48 L331.78,333.47 L332.36,333.45 L332.95,333.43 L333.54,333.42 L334.13,333.4 L334.72,333.39 L335.31,333.37 L335.89,333.36 L336.48,333.34 L337.07,333.32 L337.66,333.31 L338.25,333.29 L338.84,333.28 L339.42,333.26 L340.01,333.25 L340.6,333.23 L341.19,333.22 L341.78,333.2 L342.37,333.18 L342.95,333.17 L343.54,333.15 L344.13,333.14 L344.72,333.12 L345.31,333.11 L345.9,333.09 L346.48,333.07 L347.07,333.06 L347.66,333.04 L348.25,333.03 L348.84,333.01 L349.43,333 L350.01,332.98 L350.6,332.96 L351.19,332.95 L351.78,332.93 L352.37,332.92 L352.96,332.9 L353.54,332.89 L354.13,332.87 L354.72,332.85 L355.31,332.84 L355.9,332.82 L356.49,332.81 L357.07,332.79 L357.66,332.77 L358.25,332.76 L358.84,332.74 L359.43,332.73 L360.02,332.71 L360.6,332.69 L361.19,332.68 L361.78,332.66 L362.37,332.65 L362.96,332.63 L363.55,332.61 L364.13,332.6 L364.72,332.58 L365.31,332.57 L365.9,332.55 L366.49,332.53 L367.08,332.52 L367.66,332.5 L368.25,332.49 L368.84,332.47 L369.43,332.45 L370.02,332.44 L370.61,332.42 L371.19,332.4 L371.78,332.39 L372.37,332.37 L372.96,332.35 L373.55,332.34 L374.14,332.32 L374.72,332.3 L375.31,332.29 L375.9,332.27 L376.49,332.25 L377.08,332.23 L377.67,332.22 L378.25,332.2 L378.84,332.18 L379.43,332.16 L380.02,332.15 L380.61,332.13 L381.2,332.11 L381.78,332.09 L382.37,332.07 L382.96,332.05 L383.55,332.04 L384.14,332.02 L384.73,332 L385.31,331.98 L385.9,331.96 L386.49,331.94 L387.08,331.92 L387.67,331.9 L388.26,331.87 L388.84,331.85 L389.43,331.83 L390.02,331.81 L390.61,331.78 L391.2,331.76 L391.79,331.73 L392.37,331.71 L392.96,331.68 L393.55,331.66 L394.14,331.63 L394.73,331.6 L395.32,331.57 L395.9,331.54 L396.49,331.5 L397.08,331.47 L397.67,331.43 L398.26,331.39 L398.85,331.35 L399.43,331.31 L400.02,331.26 L400.61,331.21 L401.2,331.16 L401.79,331.11 L402.38,331.05 L402.96,330.98 L403.55,330.91 L404.14,330.84 L404.73,330.76 L405.32,330.68 L405.91,330.58 L406.49,330.48 L407.08,330.37 L407.67,330.25 L408.26,330.12 L408.85,329.97 L409.44,329.82 L410.02,329.64 L410.61,329.45 L411.2,329.25 L411.79,329.02 L412.38,328.76 L412.97,328.49 L413.55,328.18 L414.14,327.84 L414.73,327.46 L415.32,327.05 L415.91,326.59 L416.5,326.08 L417.08,325.51 L417.67,324.88 L418.26,324.19 L418.85,323.41 L419.44,322.55 L420.03,321.6 L420.61,320.54 L421.2,319.35 L421.79,318.04 L422.38,316.58 L422.97,314.95 L423.56,313.14 L424.14,311.12 L424.73,308.87 L425.32,306.36 L425.91,303.57 L426.5,300.45 L427.09,296.98 L427.67,293.11 L428.26,288.8 L428.85,283.99 L429.44,278.65 L430.03,272.71 L430.62,266.14 L431.2,258.93 L431.79,251.09 L432.38,242.73 L432.97,233.95 L433.56,224.86 L434.15,215.46 L434.73,205.67 L435.32,195.37 L435.91,184.41" fill="none" stroke="#c25072" stroke-width="1.1"/>
<circle cx="270" cy="335.1" r="2.31" fill="#ad1140"/>
<circle cx="277.35" cy="334.91" r="2.31" fill="#ad1140"/>
<circle cx="284.71" cy="334.71" r="2.31" fill="#ad1140"/>
<circle cx="292.06" cy="334.52" r="2.31" fill="#ad1140"/>
<circle cx="299.42" cy="334.32" r="2.31" fill="#ad1140"/>
<circle cx="306.77" cy="334.13" r="2.31" fill="#ad1140"/>
<circle cx="314.12" cy="333.93" r="2.31" fill="#ad1140"/>
<circle cx="321.48" cy="333.74" r="2.31" fill="#ad1140"/>
<circle cx="328.83" cy="333.54" r="2.31" fill="#ad1140"/>
<circle cx="336.19" cy="333.35" r="2.31" fill="#ad1140"/>
<circle cx="343.54" cy="333.15" r="2.31" fill="#ad1140"/>
<circle cx="350.9" cy="332.96" r="2.31" fill="#ad1140"/>
<circle cx="358.25" cy="332.76" r="2.31" fill="#ad1140"/>
<circle cx="365.6" cy="332.56" r="2.31" fill="#ad1140"/>
<circle cx="372.96" cy="332.35" r="2.31" fill="#ad1140"/>
<circle cx="380.31" cy="332.14" r="2.31" fill="#ad1140"/>
<circle cx="387.67" cy="331.9" r="2.31" fill="#ad1140"/>
<circle cx="395.02" cy="331.58" r="2.31" fill="#ad1140"/>
<circle cx="402.38" cy="331.05" r="2.31" fill="#ad1140"/>
<circle cx="409.73" cy="329.73" r="2.31" fill="#ad1140"/>
<circle cx="417.08" cy="325.51" r="2.31" fill="#ad1140"/>
<circle cx="424.44" cy="309.99" r="2.31" fill="#ad1140"/>
<circle cx="431.79" cy="251.09" r="2.31" fill="#ad1140"/>
<path d="M270,333.37 L270.59,333.35 L271.18,333.33 L271.76,333.31 L272.35,333.29 L272.94,333.28 L273.53,333.26 L274.12,333.24 L274.71,333.22 L275.3,333.2 L275.88,333.18 L276.47,333.16 L277.06,333.14 L277.65,333.12 L278.24,333.1 L278.82,333.08 L279.41,333.07 L280,333.05 L280.59,333.03 L281.18,333.01 L281.77,332.99 L282.36,332.97 L282.94,332.95 L283.53,332.93 L284.12,332.91 L284.71,332.89 L285.3,332.88 L285.88,332.86 L286.47,332.84 L287.06,332.82 L287.65,332.8 L288.24,332.78 L288.83,332.76 L289.42,332.74 L290,332.72 L290.59,332.7 L291.18,332.68 L291.77,332.67 L292.36,332.65 L292.95,332.63 L293.53,332.61 L294.12,332.59 L294.71,332.57 L295.3,332.55 L295.89,332.53 L296.48,332.51 L297.06,332.49 L297.65,332.48 L298.24,332.46 L298.83,332.44 L299.42,332.42 L300,332.4 L300.59,332.38 L301.18,332.36 L301.77,332.34 L302.36,332.32 L302.95,332.3 L303.54,332.28 L304.12,332.27 L304.71,332.25 L305.3,332.23 L305.89,332.21 L306.48,332.19 L307.07,332.17 L307.65,332.15 L308.24,332.13 L308.83,332.11 L309.42,332.09 L310.01,332.07 L310.6,332.06 L311.18,332.04 L311.77,332.02 L312.36,332 L312.95,331.98 L313.54,331.96 L314.13,331.94 L314.71,331.92 L315.3,331.9 L315.89,331.88 L316.48,331.87 L317.07,331.85 L317.66,331.83 L318.24,331.81 L318.83,331.79 L319.42,331.77 L320.01,331.75 L320.6,331.73 L321.19,331.71 L321.77,331.69 L322.36,331.67 L322.95,331.66 L323.54,331.64 L324.13,331.62 L324.72,331.6 L325.3,331.58 L325.89,331.56 L326.48,331.54 L327.07,331.52 L327.66,331.5 L328.25,331.48 L328.83,331.46 L329.42,331.45 L330.01,331.43 L330.6,331.41 L331.19,331.39 L331.78,331.37 L332.36,331.35 L332.95,331.33 L333.54,331.31 L334.13,331.29 L334.72,331.27 L335.31,331.25 L335.89,331.24 L336.48,331.22 L337.07,331.2 L337.66,331.18 L338.25,331.16 L338.84,331.14 L339.42,331.12 L340.01,331.1 L340.6,331.08 L341.19,331.06 L341.78,331.04 L342.37,331.02 L342.95,331.01 L343.54,330.99 L344.13,330.97 L344.72,330.95 L345.31,330.93 L345.9,330.91 L346.48,330.89 L347.07,330.87 L347.66,330.85 L348.25,330.83 L348.84,330.81 L349.43,330.79 L350.01,330.77 L350.6,330.76 L351.19,330.74 L351.78,330.72 L352.37,330.7 L352.96,330.68 L353.54,330.66 L354.13,330.64 L354.72,330.62 L355.31,330.6 L355.9,330.58 L356.49,330.56 L357.07,330.54 L357.66,330.52 L358.25,330.5 L358.84,330.48 L359.43,330.46 L360.02,330.45 L360.6,330.43 L361.19,330.41 L361.78,330.39 L362.37,330.37 L362.96,330.35 L363.55,330.33 L364.13,330.31 L364.72,330.29 L365.31,330.27 L365.9,330.25 L366.49,330.23 L367.08,330.21 L367.66,330.19 L368.25,330.17 L368.84,330.15 L369.43,330.13 L370.02,330.11 L370.61,330.09 L371.19,330.07 L371.78,330.05 L372.37,330.03 L372.96,330 L373.55,329.98 L374.14,329.96 L374.72,329.94 L375.31,329.92 L375.9,329.9 L376.49,329.88 L377.08,329.86 L377.67,329.83 L378.25,329.81 L378.84,329.79 L379.43,329.77 L380.02,329.75 L380.61,329.72 L381.2,329.7 L381.78,329.68 L382.37,329.66 L382.96,329.63 L383.55,329.61 L384.14,329.58 L384.73,329.56 L385.31,329.53 L385.9,329.51 L386.49,329.48 L387.08,329.46 L387.67,329.43 L388.26,329.4 L388.84,329.38 L389.43,329.35 L390.02,329.32 L390.61,329.29 L391.2,329.26 L391.79,329.23 L392.37,329.19 L392.96,329.16 L393.55,329.12 L394.14,329.09 L394.73,329.05 L395.32,329.01 L395.9,328.97 L396.49,328.93 L397.08,328.88 L397.67,328.84 L398.26,328.79 L398.85,328.73 L399.43,328.68 L400.02,328.62 L400.61,328.56 L401.2,328.49 L401.79,328.42 L402.38,328.35 L402.96,328.27 L403.55,328.18 L404.14,328.08 L404.73,327.98 L405.32,327.87 L405.91,327.76 L406.49,327.63 L407.08,327.49 L407.67,327.34 L408.26,327.17 L408.85,326.99 L409.44,326.79 L410.02,326.57 L410.61,326.34 L411.2,326.08 L411.79,325.79 L412.38,325.47 L412.97,325.13 L413.55,324.74 L414.14,324.32 L414.73,323.85 L415.32,323.34 L415.91,322.77 L416.5,322.13 L417.08,321.43 L417.67,320.66 L418.26,319.8 L418.85,318.84 L419.44,317.78 L420.03,316.61 L420.61,315.3 L421.2,313.84 L421.79,312.23 L422.38,310.43 L422.97,308.43 L423.56,306.2 L424.14,303.73 L424.73,300.97 L425.32,297.89 L425.91,294.47 L426.5,290.66 L427.09,286.41 L427.67,281.67 L428.26,276.39 L428.85,270.52 L429.44,263.98 L430.03,256.72 L430.62,248.69 L431.2,239.88 L431.79,230.31 L432.38,220.09 L432.97,209.37 L433.56,198.26 L434.15,186.78" fill="none" stroke="#6c6cbc" stroke-width="1.1"/>
<path d="M270,330.62 L272.75,335.43 L267.25,335.43Z" fill="#4f50aa"/>
<path d="M277.35,330.38 L280.1,335.19 L274.6,335.19Z" fill="#4f50aa"/>
<path d="M284.71,330.14 L287.46,334.96 L281.96,334.96Z" fill="#4f50aa"/>
<path d="M292.06,329.91 L294.81,334.72 L289.31,334.72Z" fill="#4f50aa"/>
<path d="M299.42,329.67 L302.17,334.48 L296.67,334.48Z" fill="#4f50aa"/>
<path d="M306.77,329.43 L309.52,334.24 L304.02,334.24Z" fill="#4f50aa"/>
<path d="M314.12,329.19 L316.88,334 L311.38,334Z" fill="#4f50aa"/>
<path d="M321.48,328.95 L324.23,333.77 L318.73,333.77Z" fill="#4f50aa"/>
<path d="M328.83,328.71 L331.58,333.53 L326.08,333.53Z" fill="#4f50aa"/>
<path d="M336.19,328.48 L338.94,333.29 L333.44,333.29Z" fill="#4f50aa"/>
<path d="M343.54,328.24 L346.29,333.05 L340.79,333.05Z" fill="#4f50aa"/>
<path d="M350.9,328 L353.65,332.81 L348.15,332.81Z" fill="#4f50aa"/>
<path d="M358.25,327.75 L361,332.57 L355.5,332.57Z" fill="#4f50aa"/>
<path d="M365.6,327.51 L368.35,332.32 L362.85,332.32Z" fill="#4f50aa"/>
<path d="M372.96,327.25 L375.71,332.07 L370.21,332.07Z" fill="#4f50aa"/>
<path d="M380.31,326.99 L383.06,331.8 L377.56,331.8Z" fill="#4f50aa"/>
<path d="M387.67,326.68 L390.42,331.49 L384.92,331.49Z" fill="#4f50aa"/>
<path d="M395.02,326.28 L397.77,331.09 L392.27,331.09Z" fill="#4f50aa"/>
<path d="M402.38,325.6 L405.12,330.41 L399.62,330.41Z" fill="#4f50aa"/>
<path d="M409.73,323.93 L412.48,328.75 L406.98,328.75Z" fill="#4f50aa"/>
<path d="M417.08,318.68 L419.83,323.5 L414.33,323.5Z" fill="#4f50aa"/>
<path d="M424.44,299.6 L427.19,304.41 L421.69,304.41Z" fill="#4f50aa"/>
<path d="M431.79,227.56 L434.54,232.37 L429.04,232.37Z" fill="#4f50aa"/>
<path d="M270,332.94 L270.59,332.92 L271.18,332.9 L271.76,332.88 L272.35,332.86 L272.94,332.84 L273.53,332.82 L274.12,332.8 L274.71,332.79 L275.3,332.77 L275.88,332.75 L276.47,332.73 L277.06,332.71 L277.65,332.69 L278.24,332.67 L278.82,332.65 L279.41,332.63 L280,332.61 L280.59,332.59 L281.18,332.58 L281.77,332.56 L282.36,332.54 L282.94,332.52 L283.53,332.5 L284.12,332.48 L284.71,332.46 L285.3,332.44 L285.88,332.42 L286.47,332.4 L287.06,332.39 L287.65,332.37 L288.24,332.35 L288.83,332.33 L289.42,332.31 L290,332.29 L290.59,332.27 L291.18,332.25 L291.77,332.23 L292.36,332.21 L292.95,332.19 L293.53,332.18 L294.12,332.16 L294.71,332.14 L295.3,332.12 L295.89,332.1 L296.48,332.08 L297.06,332.06 L297.65,332.04 L298.24,332.02 L298.83,332 L299.42,331.98 L300,331.97 L300.59,331.95 L301.18,331.93 L301.77,331.91 L302.36,331.89 L302.95,331.87 L303.54,331.85 L304.12,331.83 L304.71,331.81 L305.3,331.79 L305.89,331.78 L306.48,331.76 L307.07,331.74 L307.65,331.72 L308.24,331.7 L308.83,331.68 L309.42,331.66 L310.01,331.64 L310.6,331.62 L311.18,331.6 L311.77,331.58 L312.36,331.57 L312.95,331.55 L313.54,331.53 L314.13,331.51 L314.71,331.49 L315.3,331.47 L315.89,331.45 L316.48,331.43 L317.07,331.41 L317.66,331.39 L318.24,331.37 L318.83,331.36 L319.42,331.34 L320.01,331.32 L320.6,331.3 L321.19,331.28 L321.77,331.26 L322.36,331.24 L322.95,331.22 L323.54,331.2 L324.13,331.18 L324.72,331.17 L325.3,331.15 L325.89,331.13 L326.48,331.11 L327.07,331.09 L327.66,331.07 L328.25,331.05 L328.83,331.03 L329.42,331.01 L330.01,330.99 L330.6,330.97 L331.19,330.96 L331.78,330.94 L332.36,330.92 L332.95,330.9 L333.54,330.88 L334.13,330.86 L334.72,330.84 L335.31,330.82 L335.89,330.8 L336.48,330.78 L337.07,330.76 L337.66,330.74 L338.25,330.73 L338.84,330.71 L339.42,330.69 L340.01,330.67 L340.6,330.65 L341.19,330.63 L341.78,330.61 L342.37,330.59 L342.95,330.57 L343.54,330.55 L344.13,330.53 L344.72,330.51 L345.31,330.5 L345.9,330.48 L346.48,330.46 L347.07,330.44 L347.66,330.42 L348.25,330.4 L348.84,330.38 L349.43,330.36 L350.01,330.34 L350.6,330.32 L351.19,330.3 L351.78,330.28 L352.37,330.26 L352.96,330.24 L353.54,330.23 L354.13,330.21 L354.72,330.19 L355.31,330.17 L355.9,330.15 L356.49,330.13 L357.07,330.11 L357.66,330.09 L358.25,330.07 L358.84,330.05 L359.43,330.03 L360.02,330.01 L360.6,329.99 L361.19,329.97 L361.78,329.95 L362.37,329.93 L362.96,329.91 L363.55,329.89 L364.13,329.87 L364.72,329.85 L365.31,329.83 L365.9,329.81 L366.49,329.79 L367.08,329.77 L367.66,329.75 L368.25,329.73 L368.84,329.71 L369.43,329.69 L370.02,329.67 L370.61,329.65 L371.19,329.63 L371.78,329.61 L372.37,329.59 L372.96,329.57 L373.55,329.55 L374.14,329.52 L374.72,329.5 L375.31,329.48 L375.9,329.46 L376.49,329.44 L377.08,329.42 L377.67,329.39 L378.25,329.37 L378.84,329.35 L379.43,329.33 L380.02,329.3 L380.61,329.28 L381.2,329.26 L381.78,329.23 L382.37,329.21 L382.96,329.19 L383.55,329.16 L384.14,329.14 L384.73,329.11 L385.31,329.09 L385.9,329.06 L386.49,329.03 L387.08,329.01 L387.67,328.98 L388.26,328.95 L388.84,328.92 L389.43,328.89 L390.02,328.86 L390.61,328.83 L391.2,328.8 L391.79,328.76 L392.37,328.73 L392.96,328.7 L393.55,328.66 L394.14,328.62 L394.73,328.58 L395.32,328.54 L395.9,328.5 L396.49,328.45 L397.08,328.4 L397.67,328.35 L398.26,328.3 L398.85,328.25 L399.43,328.19 L400.02,328.12 L400.61,328.06 L401.2,327.99 L401.79,327.91 L402.38,327.83 L402.96,327.74 L403.55,327.65 L404.14,327.55 L404.73,327.44 L405.32,327.32 L405.91,327.2 L406.49,327.06 L407.08,326.91 L407.67,326.75 L408.26,326.57 L408.85,326.38 L409.44,326.17 L410.02,325.93 L410.61,325.68 L411.2,325.4 L411.79,325.1 L412.38,324.76 L412.97,324.39 L413.55,323.98 L414.14,323.53 L414.73,323.03 L415.32,322.48 L415.91,321.87 L416.5,321.2 L417.08,320.45 L417.67,319.62 L418.26,318.71 L418.85,317.69 L419.44,316.56 L420.03,315.31 L420.61,313.92 L421.2,312.38 L421.79,310.66 L422.38,308.75 L422.97,306.63 L423.56,304.26 L424.14,301.63 L424.73,298.7 L425.32,295.44 L425.91,291.81 L426.5,287.76 L427.09,283.26 L427.67,278.23 L428.26,272.64 L428.85,266.41 L429.44,259.48 L430.03,251.79 L430.62,243.29 L431.2,233.95 L431.79,223.81 L432.38,212.99 L432.97,201.63 L433.56,189.86" fill="none" stroke="#8cc6e6" stroke-width="1.1"/>
<path d="M270,335.69 L272.75,330.88 L267.25,330.88Z" fill="#6cb6de"/>
<path d="M277.35,335.45 L280.1,330.64 L274.6,330.64Z" fill="#6cb6de"/>
<path d="M284.71,335.21 L287.46,330.4 L281.96,330.4Z" fill="#6cb6de"/>
<path d="M292.06,334.97 L294.81,330.16 L289.31,330.16Z" fill="#6cb6de"/>
<path d="M299.42,334.73 L302.17,329.92 L296.67,329.92Z" fill="#6cb6de"/>
<path d="M306.77,334.5 L309.52,329.68 L304.02,329.68Z" fill="#6cb6de"/>
<path d="M314.12,334.26 L316.88,329.45 L311.38,329.45Z" fill="#6cb6de"/>
<path d="M321.48,334.02 L324.23,329.21 L318.73,329.21Z" fill="#6cb6de"/>
<path d="M328.83,333.78 L331.58,328.97 L326.08,328.97Z" fill="#6cb6de"/>
<path d="M336.19,333.54 L338.94,328.73 L333.44,328.73Z" fill="#6cb6de"/>
<path d="M343.54,333.3 L346.29,328.49 L340.79,328.49Z" fill="#6cb6de"/>
<path d="M350.9,333.06 L353.65,328.25 L348.15,328.25Z" fill="#6cb6de"/>
<path d="M358.25,332.82 L361,328.01 L355.5,328.01Z" fill="#6cb6de"/>
<path d="M365.6,332.57 L368.35,327.76 L362.85,327.76Z" fill="#6cb6de"/>
<path d="M372.96,332.32 L375.71,327.5 L370.21,327.5Z" fill="#6cb6de"/>
<path d="M380.31,332.04 L383.06,327.23 L377.56,327.23Z" fill="#6cb6de"/>
<path d="M387.67,331.73 L390.42,326.92 L384.92,326.92Z" fill="#6cb6de"/>
<path d="M395.02,331.31 L397.77,326.5 L392.27,326.5Z" fill="#6cb6de"/>
<path d="M402.38,330.58 L405.12,325.77 L399.62,325.77Z" fill="#6cb6de"/>
<path d="M409.73,328.8 L412.48,323.99 L406.98,323.99Z" fill="#6cb6de"/>
<path d="M417.08,323.2 L419.83,318.39 L414.33,318.39Z" fill="#6cb6de"/>
<path d="M424.44,302.92 L427.19,298.1 L421.69,298.1Z" fill="#6cb6de"/>
<path d="M431.79,226.56 L434.54,221.75 L429.04,221.75Z" fill="#6cb6de"/>
</g>
<line x1="270" y1="196.1" x2="446.5" y2="196.1" stroke="#262626" stroke-width="1.15" />
<line x1="270" y1="339" x2="446.5" y2="339" stroke="#262626" stroke-width="1.15" />
<line x1="270" y1="195.6" x2="270" y2="339.5" stroke="#262626" stroke-width="1.15" />
<line x1="446.5" y1="195.6" x2="446.5" y2="339.5" stroke="#262626" stroke-width="1.15" />
<line x1="267.4" y1="196.1" x2="270" y2="196.1" stroke="#262626" stroke-width="1.05" />
<text x="265.4" y="200.05" font-size="11.5" text-anchor="end" fill="#1a1a1a" stroke="#1a1a1a" stroke-width="0.2" font-weight="normal" >5</text>
<line x1="267.4" y1="217.75" x2="270" y2="217.75" stroke="#262626" stroke-width="1.05" />
<text x="265.4" y="221.7" font-size="11.5" text-anchor="end" fill="#1a1a1a" stroke="#1a1a1a" stroke-width="0.2" font-weight="normal" >0</text>
<line x1="267.4" y1="239.4" x2="270" y2="239.4" stroke="#262626" stroke-width="1.05" />
<text x="265.4" y="243.35" font-size="11.5" text-anchor="end" fill="#1a1a1a" stroke="#1a1a1a" stroke-width="0.2" font-weight="normal" >-5</text>
<line x1="267.4" y1="261.05" x2="270" y2="261.05" stroke="#262626" stroke-width="1.05" />
<text x="265.4" y="265" font-size="11.5" text-anchor="end" fill="#1a1a1a" stroke="#1a1a1a" stroke-width="0.2" font-weight="normal" >-10</text>
<line x1="267.4" y1="282.71" x2="270" y2="282.71" stroke="#262626" stroke-width="1.05" />
<text x="265.4" y="286.66" font-size="11.5" text-anchor="end" fill="#1a1a1a" stroke="#1a1a1a" stroke-width="0.2" font-weight="normal" >-15</text>
<line x1="267.4" y1="304.36" x2="270" y2="304.36" stroke="#262626" stroke-width="1.05" />
<text x="265.4" y="308.31" font-size="11.5" text-anchor="end" fill="#1a1a1a" stroke="#1a1a1a" stroke-width="0.2" font-weight="normal" >-20</text>
<line x1="267.4" y1="326.01" x2="270" y2="326.01" stroke="#262626" stroke-width="1.05" />
<text x="265.4" y="329.96" font-size="11.5" text-anchor="end" fill="#1a1a1a" stroke="#1a1a1a" stroke-width="0.2" font-weight="normal" >-25</text>
<line x1="268.4" y1="206.93" x2="270" y2="206.93" stroke="#262626" stroke-width="1" />
<line x1="268.4" y1="228.58" x2="270" y2="228.58" stroke="#262626" stroke-width="1" />
<line x1="268.4" y1="250.23" x2="270" y2="250.23" stroke="#262626" stroke-width="1" />
<line x1="268.4" y1="271.88" x2="270" y2="271.88" stroke="#262626" stroke-width="1" />
<line x1="268.4" y1="293.53" x2="270" y2="293.53" stroke="#262626" stroke-width="1" />
<line x1="268.4" y1="315.18" x2="270" y2="315.18" stroke="#262626" stroke-width="1" />
<line x1="268.4" y1="336.83" x2="270" y2="336.83" stroke="#262626" stroke-width="1" />
<line x1="270" y1="339" x2="270" y2="341.6" stroke="#262626" stroke-width="1.05" />
<text x="269.2" y="351.9" font-size="11.5" text-anchor="middle" fill="#1a1a1a" stroke="#1a1a1a" stroke-width="0.2" font-weight="normal" >-0.2</text>
<line x1="299.42" y1="339" x2="299.42" y2="341.6" stroke="#262626" stroke-width="1.05" />
<text x="297.32" y="351.9" font-size="11.5" text-anchor="middle" fill="#1a1a1a" stroke="#1a1a1a" stroke-width="0.2" font-weight="normal" >0.0</text>
<line x1="328.83" y1="339" x2="328.83" y2="341.6" stroke="#262626" stroke-width="1.05" />
<text x="326.73" y="351.9" font-size="11.5" text-anchor="middle" fill="#1a1a1a" stroke="#1a1a1a" stroke-width="0.2" font-weight="normal" >0.2</text>
<line x1="358.25" y1="339" x2="358.25" y2="341.6" stroke="#262626" stroke-width="1.05" />
<text x="356.15" y="351.9" font-size="11.5" text-anchor="middle" fill="#1a1a1a" stroke="#1a1a1a" stroke-width="0.2" font-weight="normal" >0.4</text>
<line x1="387.67" y1="339" x2="387.67" y2="341.6" stroke="#262626" stroke-width="1.05" />
<text x="385.57" y="351.9" font-size="11.5" text-anchor="middle" fill="#1a1a1a" stroke="#1a1a1a" stroke-width="0.2" font-weight="normal" >0.6</text>
<line x1="417.08" y1="339" x2="417.08" y2="341.6" stroke="#262626" stroke-width="1.05" />
<text x="414.98" y="351.9" font-size="11.5" text-anchor="middle" fill="#1a1a1a" stroke="#1a1a1a" stroke-width="0.2" font-weight="normal" >0.8</text>
<line x1="446.5" y1="339" x2="446.5" y2="341.6" stroke="#262626" stroke-width="1.05" />
<text x="444.4" y="351.9" font-size="11.5" text-anchor="middle" fill="#1a1a1a" stroke="#1a1a1a" stroke-width="0.2" font-weight="normal" >1.0</text>
<line x1="284.71" y1="339" x2="284.71" y2="340.6" stroke="#262626" stroke-width="1" />
<line x1="314.12" y1="339" x2="314.12" y2="340.6" stroke="#262626" stroke-width="1" />
<line x1="343.54" y1="339" x2="343.54" y2="340.6" stroke="#262626" stroke-width="1" />
<line x1="372.96" y1="339" x2="372.96" y2="340.6" stroke="#262626" stroke-width="1" />
<line x1="402.38" y1="339" x2="402.38" y2="340.6" stroke="#262626" stroke-width="1" />
<line x1="431.79" y1="339" x2="431.79" y2="340.6" stroke="#262626" stroke-width="1" />
<text x="358.25" y="363.2" font-size="11.5" text-anchor="middle" fill="#1a1a1a" stroke="#1a1a1a" stroke-width="0.2" font-weight="normal" >Voltage (V)</text>
<text transform="translate(242.6,267.55) rotate(-90)" font-size="11.5" text-anchor="middle" fill="#1a1a1a" stroke="#1a1a1a" stroke-width="0.2">Current density (mA cm<tspan font-size="7.5" dy="-3.4">-2</tspan><tspan dy="3.4">)</tspan></text>
<line x1="320.1" y1="234.3" x2="345.8" y2="234.3" stroke="#f69a78" stroke-width="1.3"/>
<rect x="331.2" y="232.4" width="3.8" height="3.8" fill="#f26a3c"/>
<text x="349.6" y="238.2" font-size="11.5" text-anchor="start" fill="#1a1a1a" stroke="#1a1a1a" stroke-width="0.2" font-weight="normal" >SVD-0</text>
<line x1="320.1" y1="248.5" x2="345.8" y2="248.5" stroke="#c25072" stroke-width="1.3"/>
<circle cx="333.1" cy="248.5" r="1.99" fill="#ad1140"/>
<text x="349.6" y="252.4" font-size="11.5" text-anchor="start" fill="#1a1a1a" stroke="#1a1a1a" stroke-width="0.2" font-weight="normal" >SVD-20</text>
<line x1="320.1" y1="262.4" x2="345.8" y2="262.4" stroke="#6c6cbc" stroke-width="1.3"/>
<path d="M333.1,260.02 L335.48,264.18 L330.73,264.18Z" fill="#4f50aa"/>
<text x="349.6" y="266.3" font-size="11.5" text-anchor="start" fill="#1a1a1a" stroke="#1a1a1a" stroke-width="0.2" font-weight="normal" >Mix-0</text>
<line x1="320.1" y1="276.5" x2="345.8" y2="276.5" stroke="#8cc6e6" stroke-width="1.3"/>
<path d="M333.1,278.88 L335.48,274.72 L330.73,274.72Z" fill="#6cb6de"/>
<text x="349.6" y="280.4" font-size="11.5" text-anchor="start" fill="#1a1a1a" stroke="#1a1a1a" stroke-width="0.2" font-weight="normal" >Mix-20</text>
<text x="466.5" y="10.2" font-size="12.5" text-anchor="start" fill="#000" font-weight="bold" >c</text>
<path d="M523.3,84.3 L541.4,84.3 L559.5,81.02 L595.7,84.3 L631.9,83.05" fill="none" stroke="#f58a62" stroke-width="1.1"/>
<path d="M631.9,83.05 L638.3,82.48 M640.9,82.24 L666.5,79.96" fill="none" stroke="#f58a62" stroke-width="1.1"/>
<path d="M523.3,84.3 L541.4,76.59 L559.5,69.85 L595.7,75.24 L631.9,87" fill="none" stroke="#6866b6" stroke-width="1.1"/>
<path d="M631.9,87 L638.3,94.51 M640.9,97.57 L666.5,127.65" fill="none" stroke="#6866b6" stroke-width="1.1"/>
<path d="M523.3,82.85 L541.4,71 L559.5,45.77 L595.7,51.55 L631.9,64.26" fill="none" stroke="#b8325a" stroke-width="1.1"/>
<path d="M631.9,64.26 L638.3,70.55 M640.9,73.11 L666.5,98.27" fill="none" stroke="#b8325a" stroke-width="1.1"/>
<path d="M523.3,84.3 L541.4,62.72 L559.5,26.98 L595.7,42.01 L631.9,63.78" fill="none" stroke="#7fbfe2" stroke-width="1.1"/>
<path d="M631.9,63.78 L638.3,77.2 M640.9,82.65 L666.5,136.32" fill="none" stroke="#7fbfe2" stroke-width="1.1"/>
<path d="M523.3,79.96 L523.3,88.63 M520.1,79.96 L526.5,79.96 M520.1,88.63 L526.5,88.63" stroke="#f58a62" stroke-width="1.1" fill="none"/>
<rect x="521.2" y="82.2" width="4.2" height="4.2" fill="#f26a3c"/>
<path d="M541.4,80.93 L541.4,87.67 M538.2,80.93 L544.6,80.93 M538.2,87.67 L544.6,87.67" stroke="#f58a62" stroke-width="1.1" fill="none"/>
<rect x="539.3" y="82.2" width="4.2" height="4.2" fill="#f26a3c"/>
<path d="M559.5,75.24 L559.5,86.8 M556.3,75.24 L562.7,75.24 M556.3,86.8 L562.7,86.8" stroke="#f58a62" stroke-width="1.1" fill="none"/>
<rect x="557.4" y="78.92" width="4.2" height="4.2" fill="#f26a3c"/>
<path d="M595.7,81.79 L595.7,86.8 M592.5,81.79 L598.9,81.79 M592.5,86.8 L598.9,86.8" stroke="#f58a62" stroke-width="1.1" fill="none"/>
<rect x="593.6" y="82.2" width="4.2" height="4.2" fill="#f26a3c"/>
<path d="M631.9,81.31 L631.9,84.78 M628.7,81.31 L635.1,81.31 M628.7,84.78 L635.1,84.78" stroke="#f58a62" stroke-width="1.1" fill="none"/>
<rect x="629.8" y="80.95" width="4.2" height="4.2" fill="#f26a3c"/>
<path d="M666.5,78.23 L666.5,81.7 M663.3,78.23 L669.7,78.23 M663.3,81.7 L669.7,81.7" stroke="#f58a62" stroke-width="1.1" fill="none"/>
<rect x="664.4" y="77.86" width="4.2" height="4.2" fill="#f26a3c"/>
<path d="M523.3,79.96 L523.3,88.63 M520.1,79.96 L526.5,79.96 M520.1,88.63 L526.5,88.63" stroke="#6866b6" stroke-width="1.1" fill="none"/>
<path d="M523.3,81.46 L526.13,84.3 L523.3,87.13 L520.46,84.3Z" fill="#4d4aa6"/>
<path d="M541.4,70.33 L541.4,82.85 M538.2,70.33 L544.6,70.33 M538.2,82.85 L544.6,82.85" stroke="#6866b6" stroke-width="1.1" fill="none"/>
<path d="M541.4,73.76 L544.24,76.59 L541.4,79.43 L538.56,76.59Z" fill="#4d4aa6"/>
<path d="M559.5,65.22 L559.5,74.47 M556.3,65.22 L562.7,65.22 M556.3,74.47 L562.7,74.47" stroke="#6866b6" stroke-width="1.1" fill="none"/>
<path d="M559.5,67.01 L562.34,69.85 L559.5,72.68 L556.66,69.85Z" fill="#4d4aa6"/>
<path d="M595.7,71.2 L595.7,79.29 M592.5,71.2 L598.9,71.2 M592.5,79.29 L598.9,79.29" stroke="#6866b6" stroke-width="1.1" fill="none"/>
<path d="M595.7,72.41 L598.53,75.24 L595.7,78.08 L592.86,75.24Z" fill="#4d4aa6"/>
<path d="M631.9,84.59 L631.9,89.4 M628.7,84.59 L635.1,84.59 M628.7,89.4 L635.1,89.4" stroke="#6866b6" stroke-width="1.1" fill="none"/>
<path d="M631.9,84.16 L634.74,87 L631.9,89.83 L629.06,87Z" fill="#4d4aa6"/>
<path d="M666.5,123.79 L666.5,131.5 M663.3,123.79 L669.7,123.79 M663.3,131.5 L669.7,131.5" stroke="#6866b6" stroke-width="1.1" fill="none"/>
<path d="M666.5,124.81 L669.34,127.65 L666.5,130.48 L663.66,127.65Z" fill="#4d4aa6"/>
<path d="M523.3,78.52 L523.3,87.19 M520.1,78.52 L526.5,78.52 M520.1,87.19 L526.5,87.19" stroke="#b8325a" stroke-width="1.1" fill="none"/>
<circle cx="523.3" cy="82.85" r="2.21" fill="#a8103c"/>
<path d="M541.4,62.33 L541.4,79.67 M538.2,62.33 L544.6,62.33 M538.2,79.67 L544.6,79.67" stroke="#b8325a" stroke-width="1.1" fill="none"/>
<circle cx="541.4" cy="71" r="2.21" fill="#a8103c"/>
<path d="M559.5,40.37 L559.5,51.16 M556.3,40.37 L562.7,40.37 M556.3,51.16 L562.7,51.16" stroke="#b8325a" stroke-width="1.1" fill="none"/>
<circle cx="559.5" cy="45.77" r="2.21" fill="#a8103c"/>
<path d="M595.7,47.89 L595.7,55.21 M592.5,47.89 L598.9,47.89 M592.5,55.21 L598.9,55.21" stroke="#b8325a" stroke-width="1.1" fill="none"/>
<circle cx="595.7" cy="51.55" r="2.21" fill="#a8103c"/>
<path d="M631.9,58.67 L631.9,69.85 M628.7,58.67 L635.1,58.67 M628.7,69.85 L635.1,69.85" stroke="#b8325a" stroke-width="1.1" fill="none"/>
<circle cx="631.9" cy="64.26" r="2.21" fill="#a8103c"/>
<path d="M666.5,93.45 L666.5,103.08 M663.3,93.45 L669.7,93.45 M663.3,103.08 L669.7,103.08" stroke="#b8325a" stroke-width="1.1" fill="none"/>
<circle cx="666.5" cy="98.27" r="2.21" fill="#a8103c"/>
<path d="M523.3,79.96 L523.3,88.63 M520.1,79.96 L526.5,79.96 M520.1,88.63 L526.5,88.63" stroke="#7fbfe2" stroke-width="1.1" fill="none"/>
<circle cx="523.3" cy="84.3" r="1.99" fill="#6ab3dc"/>
<path d="M541.4,55.21 L541.4,70.23 M538.2,55.21 L544.6,55.21 M538.2,70.23 L544.6,70.23" stroke="#7fbfe2" stroke-width="1.1" fill="none"/>
<circle cx="541.4" cy="62.72" r="1.99" fill="#6ab3dc"/>
<path d="M559.5,19.47 L559.5,34.5 M556.3,19.47 L562.7,19.47 M556.3,34.5 L562.7,34.5" stroke="#7fbfe2" stroke-width="1.1" fill="none"/>
<circle cx="559.5" cy="26.98" r="1.99" fill="#6ab3dc"/>
<path d="M595.7,39.12 L595.7,44.9 M592.5,39.12 L598.9,39.12 M592.5,44.9 L598.9,44.9" stroke="#7fbfe2" stroke-width="1.1" fill="none"/>
<circle cx="595.7" cy="42.01" r="1.99" fill="#6ab3dc"/>
<path d="M631.9,56.84 L631.9,70.72 M628.7,56.84 L635.1,56.84 M628.7,70.72 L635.1,70.72" stroke="#7fbfe2" stroke-width="1.1" fill="none"/>
<circle cx="631.9" cy="63.78" r="1.99" fill="#6ab3dc"/>
<path d="M666.5,130.54 L666.5,142.1 M663.3,130.54 L669.7,130.54 M663.3,142.1 L669.7,142.1" stroke="#7fbfe2" stroke-width="1.1" fill="none"/>
<circle cx="666.5" cy="136.32" r="1.99" fill="#6ab3dc"/>
<line x1="505.4" y1="12.3" x2="684.3" y2="12.3" stroke="#262626" stroke-width="1.15" />
<line x1="505.4" y1="156.3" x2="684.3" y2="156.3" stroke="#262626" stroke-width="1.15" />
<line x1="505.4" y1="11.8" x2="505.4" y2="156.8" stroke="#262626" stroke-width="1.15" />
<line x1="684.3" y1="11.8" x2="684.3" y2="156.8" stroke="#262626" stroke-width="1.15" />
<rect x="636.8" y="10.3" width="5.6" height="4" fill="#fff"/>
<path d="M635.6,14.9 L639.2,9.7 M639.2,14.9 L642.8,9.7" stroke="#222" stroke-width="1"/>
<rect x="636.8" y="154.3" width="5.6" height="4" fill="#fff"/>
<path d="M635.6,158.9 L639.2,153.7 M639.2,158.9 L642.8,153.7" stroke="#222" stroke-width="1"/>
<line x1="502.8" y1="142.1" x2="505.4" y2="142.1" stroke="#262626" stroke-width="1.05" />
<text x="500.2" y="146.05" font-size="11.5" text-anchor="end" fill="#1a1a1a" stroke="#1a1a1a" stroke-width="0.2" font-weight="normal" >0.94</text>
<line x1="502.8" y1="113.2" x2="505.4" y2="113.2" stroke="#262626" stroke-width="1.05" />
<text x="500.2" y="117.15" font-size="11.5" text-anchor="end" fill="#1a1a1a" stroke="#1a1a1a" stroke-width="0.2" font-weight="normal" >0.97</text>
<line x1="502.8" y1="84.3" x2="505.4" y2="84.3" stroke="#262626" stroke-width="1.05" />
<text x="500.2" y="88.25" font-size="11.5" text-anchor="end" fill="#1a1a1a" stroke="#1a1a1a" stroke-width="0.2" font-weight="normal" >1.00</text>
<line x1="502.8" y1="55.4" x2="505.4" y2="55.4" stroke="#262626" stroke-width="1.05" />
<text x="500.2" y="59.35" font-size="11.5" text-anchor="end" fill="#1a1a1a" stroke="#1a1a1a" stroke-width="0.2" font-weight="normal" >1.03</text>
<line x1="502.8" y1="26.5" x2="505.4" y2="26.5" stroke="#262626" stroke-width="1.05" />
<text x="500.2" y="30.45" font-size="11.5" text-anchor="end" fill="#1a1a1a" stroke="#1a1a1a" stroke-width="0.2" font-weight="normal" >1.06</text>
<line x1="503.8" y1="156.55" x2="505.4" y2="156.55" stroke="#262626" stroke-width="1" />
<line x1="503.8" y1="127.65" x2="505.4" y2="127.65" stroke="#262626" stroke-width="1" />
<line x1="503.8" y1="98.75" x2="505.4" y2="98.75" stroke="#262626" stroke-width="1" />
<line x1="503.8" y1="69.85" x2="505.4" y2="69.85" stroke="#262626" stroke-width="1" />
<line x1="503.8" y1="40.95" x2="505.4" y2="40.95" stroke="#262626" stroke-width="1" />
<line x1="523.3" y1="156.3" x2="523.3" y2="158.9" stroke="#262626" stroke-width="1.05" />
<text x="523.3" y="170.5" font-size="11.5" text-anchor="middle" fill="#1a1a1a" stroke="#1a1a1a" stroke-width="0.2" font-weight="normal" >0</text>
<line x1="559.5" y1="156.3" x2="559.5" y2="158.9" stroke="#262626" stroke-width="1.05" />
<text x="559.5" y="170.5" font-size="11.5" text-anchor="middle" fill="#1a1a1a" stroke="#1a1a1a" stroke-width="0.2" font-weight="normal" >20</text>
<line x1="595.7" y1="156.3" x2="595.7" y2="158.9" stroke="#262626" stroke-width="1.05" />
<text x="595.7" y="170.5" font-size="11.5" text-anchor="middle" fill="#1a1a1a" stroke="#1a1a1a" stroke-width="0.2" font-weight="normal" >40</text>
<line x1="631.9" y1="156.3" x2="631.9" y2="158.9" stroke="#262626" stroke-width="1.05" />
<text x="631.9" y="170.5" font-size="11.5" text-anchor="middle" fill="#1a1a1a" stroke="#1a1a1a" stroke-width="0.2" font-weight="normal" >60</text>
<line x1="666.5" y1="156.3" x2="666.5" y2="158.9" stroke="#262626" stroke-width="1.05" />
<text x="666.5" y="170.5" font-size="11.5" text-anchor="middle" fill="#1a1a1a" stroke="#1a1a1a" stroke-width="0.2" font-weight="normal" >120</text>
<line x1="541.4" y1="156.3" x2="541.4" y2="157.9" stroke="#262626" stroke-width="1" />
<line x1="577.6" y1="156.3" x2="577.6" y2="157.9" stroke="#262626" stroke-width="1" />
<line x1="613.8" y1="156.3" x2="613.8" y2="157.9" stroke="#262626" stroke-width="1" />
<line x1="648.4" y1="156.3" x2="648.4" y2="157.9" stroke="#262626" stroke-width="1" />
<text x="594.8" y="182.1" font-size="11.5" text-anchor="middle" fill="#1a1a1a" stroke="#1a1a1a" stroke-width="0.2" font-weight="normal" >SVD time (min)</text>
<text transform="translate(474.3,83.8) rotate(-90)" font-size="11.5" text-anchor="middle" fill="#1a1a1a" stroke="#1a1a1a" stroke-width="0.2">Norm. value (a.u.)</text>
<line x1="519.1" y1="123.2" x2="540.2" y2="123.2" stroke="#f58a62" stroke-width="1.2"/>
<rect x="527.9" y="121.2" width="4" height="4" fill="#f26a3c"/>
<text x="543.6" y="127.15" font-size="11.5" fill="#1a1a1a">V<tspan font-size="8.6" dy="2.8">OC</tspan></text>
<line x1="519.1" y1="139.3" x2="540.2" y2="139.3" stroke="#b8325a" stroke-width="1.2"/>
<circle cx="529.9" cy="139.3" r="2.1" fill="#a8103c"/>
<text x="543.6" y="143.25" font-size="11.5" fill="#1a1a1a">J<tspan font-size="8.6" dy="2.8">SC</tspan></text>
<line x1="573.4" y1="123.2" x2="594.6" y2="123.2" stroke="#6866b6" stroke-width="1.2"/>
<path d="M583.9,120.5 L586.6,123.2 L583.9,125.9 L581.2,123.2Z" fill="#4d4aa6"/>
<text x="597.4" y="127.15" font-size="11.5" text-anchor="start" fill="#1a1a1a" stroke="#1a1a1a" stroke-width="0.2" font-weight="normal" >FF</text>
<line x1="573.4" y1="139.3" x2="594.6" y2="139.3" stroke="#7fbfe2" stroke-width="1.2"/>
<circle cx="583.9" cy="139.3" r="1.78" fill="#6ab3dc"/>
<text x="597.4" y="143.25" font-size="11.5" text-anchor="start" fill="#1a1a1a" stroke="#1a1a1a" stroke-width="0.2" font-weight="normal" >PCE</text>
<text x="0.8" y="194.3" font-size="12.5" text-anchor="start" fill="#000" font-weight="bold" >d</text>
<clipPath id="clipd"><rect x="32.5" y="196.5" width="179.0" height="145.89999999999998"/></clipPath>
<g clip-path="url(#clipd)">
<path d="M35.5,336.54 C36.16,333.21 38.13,324.16 39.45,316.54 C40.76,308.91 42.08,297.72 43.39,290.81 C44.71,283.91 46.02,278.57 47.34,275.09 C48.65,271.62 49.97,269.71 51.28,269.95 C52.6,270.19 53.92,275.67 55.23,276.52 C56.55,277.38 57.86,277.71 59.18,275.09 C60.49,272.48 61.81,266.04 63.12,260.81 C64.44,255.57 65.1,249.61 67.07,243.66 C69.04,237.7 72.33,229.37 74.96,225.08 C77.59,220.79 80.22,219.6 82.85,217.94 C85.49,216.27 88.12,216.03 90.75,215.08 C93.38,214.12 96.67,212.46 98.64,212.22 C100.61,211.98 101.27,213.41 102.59,213.65 C103.9,213.89 105.22,212.93 106.53,213.65 C107.85,214.36 109.16,216.74 110.48,217.94 C111.79,219.13 113.11,219.36 114.42,220.79 C115.74,222.22 117.05,225.84 118.37,226.51 C119.69,227.18 121,225.99 122.32,224.79 C123.63,223.6 124.95,220.75 126.26,219.36 C127.58,217.98 128.24,217.1 130.21,216.51 C132.18,215.91 135.47,215.91 138.1,215.79 C140.73,215.67 143.36,215.55 145.99,215.79 C148.62,216.03 151.25,216.63 153.89,217.22 C156.52,217.82 159.15,217.34 161.78,219.36 C164.41,221.39 167.04,223.77 169.67,229.37 C172.3,234.96 174.93,241.92 177.56,252.95 C180.19,263.97 182.82,283.62 185.46,295.53 C188.09,307.44 190.72,317.68 193.35,324.4 C195.98,331.11 198.61,333.56 201.24,335.83 C203.87,338.09 207.16,337.52 209.13,337.97 C211.11,338.42 212.42,338.45 213.08,338.54" fill="none" stroke="#f69a78" stroke-width="1.2"/>
<rect x="32.8" y="333.84" width="5.4" height="5.4" fill="#f26a3c"/>
<rect x="40.69" y="288.11" width="5.4" height="5.4" fill="#f26a3c"/>
<rect x="48.58" y="267.25" width="5.4" height="5.4" fill="#f26a3c"/>
<rect x="56.48" y="272.39" width="5.4" height="5.4" fill="#f26a3c"/>
<rect x="64.37" y="240.96" width="5.4" height="5.4" fill="#f26a3c"/>
<rect x="72.26" y="222.38" width="5.4" height="5.4" fill="#f26a3c"/>
<rect x="80.15" y="215.24" width="5.4" height="5.4" fill="#f26a3c"/>
<rect x="88.05" y="212.38" width="5.4" height="5.4" fill="#f26a3c"/>
<rect x="95.94" y="209.52" width="5.4" height="5.4" fill="#f26a3c"/>
<rect x="103.83" y="210.95" width="5.4" height="5.4" fill="#f26a3c"/>
<rect x="111.72" y="218.09" width="5.4" height="5.4" fill="#f26a3c"/>
<rect x="119.62" y="222.09" width="5.4" height="5.4" fill="#f26a3c"/>
<rect x="127.51" y="213.81" width="5.4" height="5.4" fill="#f26a3c"/>
<rect x="135.4" y="213.09" width="5.4" height="5.4" fill="#f26a3c"/>
<rect x="143.29" y="213.09" width="5.4" height="5.4" fill="#f26a3c"/>
<rect x="151.19" y="214.52" width="5.4" height="5.4" fill="#f26a3c"/>
<rect x="159.08" y="216.66" width="5.4" height="5.4" fill="#f26a3c"/>
<rect x="166.97" y="226.67" width="5.4" height="5.4" fill="#f26a3c"/>
<rect x="174.86" y="250.25" width="5.4" height="5.4" fill="#f26a3c"/>
<rect x="182.76" y="292.83" width="5.4" height="5.4" fill="#f26a3c"/>
<rect x="190.65" y="321.7" width="5.4" height="5.4" fill="#f26a3c"/>
<rect x="198.54" y="333.13" width="5.4" height="5.4" fill="#f26a3c"/>
<rect x="206.43" y="335.27" width="5.4" height="5.4" fill="#f26a3c"/>
<path d="M35.5,336.54 C36.16,333.21 38.13,323.44 39.45,316.54 C40.76,309.63 42.08,301.29 43.39,295.1 C44.71,288.91 46.02,281.88 47.34,279.38 C48.65,276.88 49.97,279.74 51.28,280.1 C52.6,280.45 53.92,282.26 55.23,281.53 C56.55,280.79 57.86,279.6 59.18,275.67 C60.49,271.74 61.81,263.52 63.12,257.95 C64.44,252.37 65.1,247.23 67.07,242.23 C69.04,237.23 72.33,231.51 74.96,227.94 C77.59,224.37 80.22,222.94 82.85,220.79 C85.49,218.65 88.12,217.1 90.75,215.08 C93.38,213.05 96.67,209.24 98.64,208.65 C100.61,208.05 101.27,211.27 102.59,211.5 C103.9,211.74 105.22,209.24 106.53,210.08 C107.85,210.91 109.16,215.32 110.48,216.51 C111.79,217.7 113.11,216.27 114.42,217.22 C115.74,218.17 117.05,222.34 118.37,222.22 C119.69,222.1 120.34,217.94 122.32,216.51 C124.29,215.08 127.58,214.24 130.21,213.65 C132.84,213.05 135.47,213.05 138.1,212.93 C140.73,212.81 143.36,212.7 145.99,212.93 C148.62,213.17 151.25,213.29 153.89,214.36 C156.52,215.43 159.15,217.22 161.78,219.36 C164.41,221.51 167.04,222.34 169.67,227.22 C172.3,232.11 174.93,238.06 177.56,248.66 C180.19,259.26 182.82,278.43 185.46,290.81 C188.09,303.2 190.72,315.46 193.35,322.97 C195.98,330.47 198.61,333.33 201.24,335.83 C203.87,338.33 207.16,337.52 209.13,337.97 C211.11,338.42 212.42,338.45 213.08,338.54" fill="none" stroke="#ea7670" stroke-width="1.2"/>
<circle cx="35.5" cy="336.54" r="2.84" fill="#e2463f"/>
<circle cx="43.39" cy="295.1" r="2.84" fill="#e2463f"/>
<circle cx="51.28" cy="280.1" r="2.84" fill="#e2463f"/>
<circle cx="59.18" cy="275.67" r="2.84" fill="#e2463f"/>
<circle cx="67.07" cy="242.23" r="2.84" fill="#e2463f"/>
<circle cx="74.96" cy="227.94" r="2.84" fill="#e2463f"/>
<circle cx="82.85" cy="220.79" r="2.84" fill="#e2463f"/>
<circle cx="90.75" cy="215.08" r="2.84" fill="#e2463f"/>
<circle cx="98.64" cy="208.65" r="2.84" fill="#e2463f"/>
<circle cx="106.53" cy="210.08" r="2.84" fill="#e2463f"/>
<circle cx="114.42" cy="217.22" r="2.84" fill="#e2463f"/>
<circle cx="122.32" cy="216.51" r="2.84" fill="#e2463f"/>
<circle cx="130.21" cy="213.65" r="2.84" fill="#e2463f"/>
<circle cx="138.1" cy="212.93" r="2.84" fill="#e2463f"/>
<circle cx="145.99" cy="212.93" r="2.84" fill="#e2463f"/>
<circle cx="153.89" cy="214.36" r="2.84" fill="#e2463f"/>
<circle cx="161.78" cy="219.36" r="2.84" fill="#e2463f"/>
<circle cx="169.67" cy="227.22" r="2.84" fill="#e2463f"/>
<circle cx="177.56" cy="248.66" r="2.84" fill="#e2463f"/>
<circle cx="185.46" cy="290.81" r="2.84" fill="#e2463f"/>
<circle cx="193.35" cy="322.97" r="2.84" fill="#e2463f"/>
<circle cx="201.24" cy="335.83" r="2.84" fill="#e2463f"/>
<circle cx="209.13" cy="337.97" r="2.84" fill="#e2463f"/>
<path d="M35.5,336.54 C36.16,333.21 38.13,323.2 39.45,316.54 C40.76,309.87 42.08,302.72 43.39,296.53 C44.71,290.34 46.02,282.03 47.34,279.38 C48.65,276.74 49.97,280.67 51.28,280.67 C52.6,280.67 53.92,280.55 55.23,279.38 C56.55,278.21 57.86,278.43 59.18,273.67 C60.49,268.9 61.81,256.52 63.12,250.8 C64.44,245.09 65.1,243.18 67.07,239.37 C69.04,235.56 72.33,230.8 74.96,227.94 C77.59,225.08 80.22,224.6 82.85,222.22 C85.49,219.84 88.12,216.03 90.75,213.65 C93.38,211.27 96.67,208.53 98.64,207.93 C100.61,207.34 101.27,209.84 102.59,210.08 C103.9,210.31 105.22,208.29 106.53,209.36 C107.85,210.43 109.16,215.2 110.48,216.51 C111.79,217.82 113.11,216.74 114.42,217.22 C115.74,217.7 117.05,219.65 118.37,219.36 C119.69,219.08 120.34,216.58 122.32,215.51 C124.29,214.43 127.58,213.48 130.21,212.93 C132.84,212.39 135.47,212.34 138.1,212.22 C140.73,212.1 143.36,211.98 145.99,212.22 C148.62,212.46 151.25,212.46 153.89,213.65 C156.52,214.84 159.15,217.1 161.78,219.36 C164.41,221.63 167.04,222.34 169.67,227.22 C172.3,232.11 174.93,238.06 177.56,248.66 C180.19,259.26 182.82,278.43 185.46,290.81 C188.09,303.2 190.72,315.46 193.35,322.97 C195.98,330.47 198.61,333.33 201.24,335.83 C203.87,338.33 207.16,337.52 209.13,337.97 C211.11,338.42 212.42,338.45 213.08,338.54" fill="none" stroke="#c25072" stroke-width="1.2"/>
<path d="M35.5,333.17 L38.88,339.07 L32.12,339.07Z" fill="#ad1140"/>
<path d="M43.39,293.15 L46.77,299.06 L40.02,299.06Z" fill="#ad1140"/>
<path d="M51.28,277.29 L54.66,283.2 L47.91,283.2Z" fill="#ad1140"/>
<path d="M59.18,270.29 L62.55,276.2 L55.8,276.2Z" fill="#ad1140"/>
<path d="M67.07,236 L70.44,241.9 L63.69,241.9Z" fill="#ad1140"/>
<path d="M74.96,224.56 L78.34,230.47 L71.59,230.47Z" fill="#ad1140"/>
<path d="M82.85,218.85 L86.23,224.75 L79.48,224.75Z" fill="#ad1140"/>
<path d="M90.75,210.27 L94.12,216.18 L87.37,216.18Z" fill="#ad1140"/>
<path d="M98.64,204.56 L102.01,210.46 L95.26,210.46Z" fill="#ad1140"/>
<path d="M106.53,205.99 L109.91,211.89 L103.16,211.89Z" fill="#ad1140"/>
<path d="M114.42,213.85 L117.8,219.75 L111.05,219.75Z" fill="#ad1140"/>
<path d="M122.32,212.13 L125.69,218.04 L118.94,218.04Z" fill="#ad1140"/>
<path d="M130.21,209.56 L133.58,215.46 L126.83,215.46Z" fill="#ad1140"/>
<path d="M138.1,208.84 L141.48,214.75 L134.73,214.75Z" fill="#ad1140"/>
<path d="M145.99,208.84 L149.37,214.75 L142.62,214.75Z" fill="#ad1140"/>
<path d="M153.89,210.27 L157.26,216.18 L150.51,216.18Z" fill="#ad1140"/>
<path d="M161.78,215.99 L165.15,221.9 L158.4,221.9Z" fill="#ad1140"/>
<path d="M169.67,223.85 L173.05,229.75 L166.3,229.75Z" fill="#ad1140"/>
<path d="M177.56,245.28 L180.94,251.19 L174.19,251.19Z" fill="#ad1140"/>
<path d="M185.46,287.44 L188.83,293.35 L182.08,293.35Z" fill="#ad1140"/>
<path d="M193.35,319.59 L196.72,325.5 L189.97,325.5Z" fill="#ad1140"/>
<path d="M201.24,332.45 L204.61,338.36 L197.86,338.36Z" fill="#ad1140"/>
<path d="M209.13,334.6 L212.51,340.5 L205.76,340.5Z" fill="#ad1140"/>
<path d="M35.5,336.54 C36.16,333.21 38.13,323.68 39.45,316.54 C40.76,309.39 42.08,299.86 43.39,293.67 C44.71,287.48 46.02,282.24 47.34,279.38 C48.65,276.52 49.97,276.52 51.28,276.52 C52.6,276.52 53.92,280.57 55.23,279.38 C56.55,278.19 57.86,274.14 59.18,269.38 C60.49,264.62 61.81,256.04 63.12,250.8 C64.44,245.56 65.1,241.39 67.07,237.94 C69.04,234.49 72.33,232.58 74.96,230.08 C77.59,227.58 80.22,225.44 82.85,222.94 C85.49,220.44 88.12,216.98 90.75,215.08 C93.38,213.17 96.67,212.1 98.64,211.5 C100.61,210.91 101.27,211.5 102.59,211.5 C103.9,211.5 105.22,210.67 106.53,211.5 C107.85,212.34 109.16,215.43 110.48,216.51 C111.79,217.58 113.11,217.22 114.42,217.94 C115.74,218.65 117.05,220.79 118.37,220.79 C119.69,220.79 120.34,218.65 122.32,217.94 C124.29,217.22 127.58,216.86 130.21,216.51 C132.84,216.15 135.47,215.91 138.1,215.79 C140.73,215.67 143.36,215.67 145.99,215.79 C148.62,215.91 151.25,215.91 153.89,216.51 C156.52,217.1 159.15,217.58 161.78,219.36 C164.41,221.15 167.04,222.34 169.67,227.22 C172.3,232.11 174.93,238.06 177.56,248.66 C180.19,259.26 182.82,278.55 185.46,290.81 C188.09,303.08 190.72,314.75 193.35,322.25 C195.98,329.75 198.61,333.21 201.24,335.83 C203.87,338.45 207.16,337.52 209.13,337.97 C211.11,338.42 212.42,338.45 213.08,338.54" fill="none" stroke="#7e7cc2" stroke-width="1.2"/>
<path d="M35.5,339.92 L38.88,334.01 L32.12,334.01Z" fill="#4d4aa6"/>
<path d="M43.39,297.05 L46.77,291.14 L40.02,291.14Z" fill="#4d4aa6"/>
<path d="M51.28,279.9 L54.66,273.99 L47.91,273.99Z" fill="#4d4aa6"/>
<path d="M59.18,272.75 L62.55,266.85 L55.8,266.85Z" fill="#4d4aa6"/>
<path d="M67.07,241.32 L70.44,235.41 L63.69,235.41Z" fill="#4d4aa6"/>
<path d="M74.96,233.46 L78.34,227.55 L71.59,227.55Z" fill="#4d4aa6"/>
<path d="M82.85,226.31 L86.23,220.41 L79.48,220.41Z" fill="#4d4aa6"/>
<path d="M90.75,218.45 L94.12,212.55 L87.37,212.55Z" fill="#4d4aa6"/>
<path d="M98.64,214.88 L102.01,208.97 L95.26,208.97Z" fill="#4d4aa6"/>
<path d="M106.53,214.88 L109.91,208.97 L103.16,208.97Z" fill="#4d4aa6"/>
<path d="M114.42,221.31 L117.8,215.4 L111.05,215.4Z" fill="#4d4aa6"/>
<path d="M122.32,221.31 L125.69,215.4 L118.94,215.4Z" fill="#4d4aa6"/>
<path d="M130.21,219.88 L133.58,213.97 L126.83,213.97Z" fill="#4d4aa6"/>
<path d="M138.1,219.17 L141.48,213.26 L134.73,213.26Z" fill="#4d4aa6"/>
<path d="M145.99,219.17 L149.37,213.26 L142.62,213.26Z" fill="#4d4aa6"/>
<path d="M153.89,219.88 L157.26,213.97 L150.51,213.97Z" fill="#4d4aa6"/>
<path d="M161.78,222.74 L165.15,216.83 L158.4,216.83Z" fill="#4d4aa6"/>
<path d="M169.67,230.6 L173.05,224.69 L166.3,224.69Z" fill="#4d4aa6"/>
<path d="M177.56,252.03 L180.94,246.13 L174.19,246.13Z" fill="#4d4aa6"/>
<path d="M185.46,294.19 L188.83,288.28 L182.08,288.28Z" fill="#4d4aa6"/>
<path d="M193.35,325.63 L196.72,319.72 L189.97,319.72Z" fill="#4d4aa6"/>
<path d="M201.24,339.2 L204.61,333.3 L197.86,333.3Z" fill="#4d4aa6"/>
<path d="M209.13,341.35 L212.51,335.44 L205.76,335.44Z" fill="#4d4aa6"/>
<path d="M35.5,336.54 C36.16,333.21 38.13,323.68 39.45,316.54 C40.76,309.39 42.08,299.86 43.39,293.67 C44.71,287.48 46.02,282.48 47.34,279.38 C48.65,276.29 49.97,275.09 51.28,275.09 C52.6,275.09 53.92,280.81 55.23,279.38 C56.55,277.95 57.86,271.28 59.18,266.52 C60.49,261.76 61.81,255.57 63.12,250.8 C64.44,246.04 65.1,241.51 67.07,237.94 C69.04,234.37 72.33,231.94 74.96,229.37 C77.59,226.79 80.22,224.77 82.85,222.51 C85.49,220.25 88.12,217.51 90.75,215.79 C93.38,214.08 96.67,212.93 98.64,212.22 C100.61,211.5 101.27,211.5 102.59,211.5 C103.9,211.5 105.22,211.39 106.53,212.22 C107.85,213.05 109.16,215.55 110.48,216.51 C111.79,217.46 113.11,217.22 114.42,217.94 C115.74,218.65 117.05,220.55 118.37,220.79 C119.69,221.03 120.34,219.84 122.32,219.36 C124.29,218.89 127.58,218.41 130.21,217.94 C132.84,217.46 135.47,216.82 138.1,216.51 C140.73,216.2 143.36,216.08 145.99,216.08 C148.62,216.08 151.25,215.96 153.89,216.51 C156.52,217.05 159.15,217.46 161.78,219.36 C164.41,221.27 167.04,223.06 169.67,227.94 C172.3,232.82 174.93,237.94 177.56,248.66 C180.19,259.38 182.82,279.98 185.46,292.24 C188.09,304.51 190.72,314.99 193.35,322.25 C195.98,329.52 198.61,333.21 201.24,335.83 C203.87,338.45 207.16,337.52 209.13,337.97 C211.11,338.42 212.42,338.45 213.08,338.54" fill="none" stroke="#92aede" stroke-width="1.2"/>
<path d="M35.5,332.9 L39.15,336.54 L35.5,340.19 L31.86,336.54Z" fill="#6b8fd2"/>
<path d="M43.39,290.03 L47.04,293.67 L43.39,297.32 L39.75,293.67Z" fill="#6b8fd2"/>
<path d="M51.28,271.45 L54.93,275.09 L51.28,278.74 L47.64,275.09Z" fill="#6b8fd2"/>
<path d="M59.18,262.88 L62.82,266.52 L59.18,270.17 L55.53,266.52Z" fill="#6b8fd2"/>
<path d="M67.07,234.3 L70.71,237.94 L67.07,241.59 L63.42,237.94Z" fill="#6b8fd2"/>
<path d="M74.96,225.72 L78.61,229.37 L74.96,233.01 L71.32,229.37Z" fill="#6b8fd2"/>
<path d="M82.85,218.86 L86.5,222.51 L82.85,226.15 L79.21,222.51Z" fill="#6b8fd2"/>
<path d="M90.75,212.15 L94.39,215.79 L90.75,219.44 L87.1,215.79Z" fill="#6b8fd2"/>
<path d="M98.64,208.57 L102.28,212.22 L98.64,215.86 L94.99,212.22Z" fill="#6b8fd2"/>
<path d="M106.53,208.57 L110.18,212.22 L106.53,215.86 L102.89,212.22Z" fill="#6b8fd2"/>
<path d="M114.42,214.29 L118.07,217.94 L114.42,221.58 L110.78,217.94Z" fill="#6b8fd2"/>
<path d="M122.32,215.72 L125.96,219.36 L122.32,223.01 L118.67,219.36Z" fill="#6b8fd2"/>
<path d="M130.21,214.29 L133.85,217.94 L130.21,221.58 L126.56,217.94Z" fill="#6b8fd2"/>
<path d="M138.1,212.86 L141.75,216.51 L138.1,220.15 L134.46,216.51Z" fill="#6b8fd2"/>
<path d="M145.99,212.43 L149.64,216.08 L145.99,219.72 L142.35,216.08Z" fill="#6b8fd2"/>
<path d="M153.89,212.86 L157.53,216.51 L153.89,220.15 L150.24,216.51Z" fill="#6b8fd2"/>
<path d="M161.78,215.72 L165.42,219.36 L161.78,223.01 L158.13,219.36Z" fill="#6b8fd2"/>
<path d="M169.67,224.29 L173.32,227.94 L169.67,231.58 L166.03,227.94Z" fill="#6b8fd2"/>
<path d="M177.56,245.01 L181.21,248.66 L177.56,252.3 L173.92,248.66Z" fill="#6b8fd2"/>
<path d="M185.46,288.6 L189.1,292.24 L185.46,295.89 L181.81,292.24Z" fill="#6b8fd2"/>
<path d="M193.35,318.61 L196.99,322.25 L193.35,325.9 L189.7,322.25Z" fill="#6b8fd2"/>
<path d="M201.24,332.18 L204.88,335.83 L201.24,339.47 L197.59,335.83Z" fill="#6b8fd2"/>
<path d="M209.13,334.33 L212.78,337.97 L209.13,341.62 L205.49,337.97Z" fill="#6b8fd2"/>
<path d="M35.5,336.54 C36.16,333.21 38.13,323.44 39.45,316.54 C40.76,309.63 42.08,300.82 43.39,295.1 C44.71,289.38 46.02,285.81 47.34,282.24 C48.65,278.67 49.97,274.62 51.28,273.67 C52.6,272.71 53.92,278.43 55.23,276.52 C56.55,274.62 57.86,267.24 59.18,262.23 C60.49,257.23 61.81,250.8 63.12,246.51 C64.44,242.23 65.1,240.8 67.07,236.51 C69.04,232.22 72.33,223.17 74.96,220.79 C77.59,218.41 80.22,222.7 82.85,222.22 C85.49,221.75 88.12,219.6 90.75,217.94 C93.38,216.27 96.67,212.93 98.64,212.22 C100.61,211.5 101.27,213.53 102.59,213.65 C103.9,213.77 105.22,212.34 106.53,212.93 C107.85,213.53 109.16,215.67 110.48,217.22 C111.79,218.77 113.11,219.96 114.42,222.22 C115.74,224.48 117.05,229.13 118.37,230.8 C119.69,232.46 121,232.46 122.32,232.22 C123.63,231.99 124.95,230.41 126.26,229.37 C127.58,228.32 128.24,226.89 130.21,225.94 C132.18,224.98 135.47,224.27 138.1,223.65 C140.73,223.03 143.36,222.27 145.99,222.22 C148.62,222.17 151.25,223.84 153.89,223.37 C156.52,222.89 159.15,218.36 161.78,219.36 C164.41,220.36 167.04,224.48 169.67,229.37 C172.3,234.25 174.93,237.13 177.56,248.66 C180.19,260.19 182.82,285.65 185.46,298.53 C188.09,311.42 190.72,319.75 193.35,325.97 C195.98,332.18 198.61,333.83 201.24,335.83 C203.87,337.83 207.16,337.52 209.13,337.97 C211.11,338.42 212.42,338.45 213.08,338.54" fill="none" stroke="#94c9e7" stroke-width="1.2"/>
<path d="M32.12,336.54 L38.03,333.17 L38.03,339.92Z" fill="#6bb3dd"/>
<path d="M40.02,295.1 L45.92,291.73 L45.92,298.48Z" fill="#6bb3dd"/>
<path d="M47.91,273.67 L53.82,270.29 L53.82,277.04Z" fill="#6bb3dd"/>
<path d="M55.8,262.23 L61.71,258.86 L61.71,265.61Z" fill="#6bb3dd"/>
<path d="M63.69,236.51 L69.6,233.14 L69.6,239.89Z" fill="#6bb3dd"/>
<path d="M71.59,220.79 L77.49,217.42 L77.49,224.17Z" fill="#6bb3dd"/>
<path d="M79.48,222.22 L85.39,218.85 L85.39,225.6Z" fill="#6bb3dd"/>
<path d="M87.37,217.94 L93.28,214.56 L93.28,221.31Z" fill="#6bb3dd"/>
<path d="M95.26,212.22 L101.17,208.84 L101.17,215.59Z" fill="#6bb3dd"/>
<path d="M103.16,212.93 L109.06,209.56 L109.06,216.31Z" fill="#6bb3dd"/>
<path d="M111.05,222.22 L116.96,218.85 L116.96,225.6Z" fill="#6bb3dd"/>
<path d="M118.94,232.22 L124.85,228.85 L124.85,235.6Z" fill="#6bb3dd"/>
<path d="M126.83,225.94 L132.74,222.56 L132.74,229.31Z" fill="#6bb3dd"/>
<path d="M134.73,223.65 L140.63,220.28 L140.63,227.03Z" fill="#6bb3dd"/>
<path d="M142.62,222.22 L148.52,218.85 L148.52,225.6Z" fill="#6bb3dd"/>
<path d="M150.51,223.37 L156.42,219.99 L156.42,226.74Z" fill="#6bb3dd"/>
<path d="M158.4,219.36 L164.31,215.99 L164.31,222.74Z" fill="#6bb3dd"/>
<path d="M166.3,229.37 L172.2,225.99 L172.2,232.74Z" fill="#6bb3dd"/>
<path d="M174.19,248.66 L180.09,245.28 L180.09,252.03Z" fill="#6bb3dd"/>
<path d="M182.08,298.53 L187.99,295.16 L187.99,301.91Z" fill="#6bb3dd"/>
<path d="M189.97,325.97 L195.88,322.59 L195.88,329.34Z" fill="#6bb3dd"/>
<path d="M197.86,335.83 L203.77,332.45 L203.77,339.2Z" fill="#6bb3dd"/>
<path d="M205.76,337.97 L211.66,334.6 L211.66,341.35Z" fill="#6bb3dd"/>
</g>
<line x1="35.5" y1="196.5" x2="211.5" y2="196.5" stroke="#262626" stroke-width="1.15" />
<line x1="35.5" y1="339.4" x2="211.5" y2="339.4" stroke="#262626" stroke-width="1.15" />
<line x1="35.5" y1="196" x2="35.5" y2="339.9" stroke="#262626" stroke-width="1.15" />
<line x1="211.5" y1="196" x2="211.5" y2="339.9" stroke="#262626" stroke-width="1.15" />
<line x1="32.9" y1="339.4" x2="35.5" y2="339.4" stroke="#262626" stroke-width="1.05" />
<text x="30.7" y="343.35" font-size="11.5" text-anchor="end" fill="#1a1a1a" stroke="#1a1a1a" stroke-width="0.2" font-weight="normal" >0</text>
<line x1="32.9" y1="310.82" x2="35.5" y2="310.82" stroke="#262626" stroke-width="1.05" />
<text x="30.7" y="314.77" font-size="11.5" text-anchor="end" fill="#1a1a1a" stroke="#1a1a1a" stroke-width="0.2" font-weight="normal" >20</text>
<line x1="32.9" y1="282.24" x2="35.5" y2="282.24" stroke="#262626" stroke-width="1.05" />
<text x="30.7" y="286.19" font-size="11.5" text-anchor="end" fill="#1a1a1a" stroke="#1a1a1a" stroke-width="0.2" font-weight="normal" >40</text>
<line x1="32.9" y1="253.66" x2="35.5" y2="253.66" stroke="#262626" stroke-width="1.05" />
<text x="30.7" y="257.61" font-size="11.5" text-anchor="end" fill="#1a1a1a" stroke="#1a1a1a" stroke-width="0.2" font-weight="normal" >60</text>
<line x1="32.9" y1="225.08" x2="35.5" y2="225.08" stroke="#262626" stroke-width="1.05" />
<text x="30.7" y="229.03" font-size="11.5" text-anchor="end" fill="#1a1a1a" stroke="#1a1a1a" stroke-width="0.2" font-weight="normal" >80</text>
<line x1="32.9" y1="196.5" x2="35.5" y2="196.5" stroke="#262626" stroke-width="1.05" />
<text x="30.7" y="200.45" font-size="11.5" text-anchor="end" fill="#1a1a1a" stroke="#1a1a1a" stroke-width="0.2" font-weight="normal" >100</text>
<line x1="33.9" y1="325.11" x2="35.5" y2="325.11" stroke="#262626" stroke-width="1" />
<line x1="33.9" y1="296.53" x2="35.5" y2="296.53" stroke="#262626" stroke-width="1" />
<line x1="33.9" y1="267.95" x2="35.5" y2="267.95" stroke="#262626" stroke-width="1" />
<line x1="33.9" y1="239.37" x2="35.5" y2="239.37" stroke="#262626" stroke-width="1" />
<line x1="33.9" y1="210.79" x2="35.5" y2="210.79" stroke="#262626" stroke-width="1" />
<line x1="35.5" y1="339.4" x2="35.5" y2="342" stroke="#262626" stroke-width="1.05" />
<text x="35.5" y="352.4" font-size="11.5" text-anchor="middle" fill="#1a1a1a" stroke="#1a1a1a" stroke-width="0.2" font-weight="normal" >300</text>
<line x1="61.81" y1="339.4" x2="61.81" y2="342" stroke="#262626" stroke-width="1.05" />
<text x="61.81" y="352.4" font-size="11.5" text-anchor="middle" fill="#1a1a1a" stroke="#1a1a1a" stroke-width="0.2" font-weight="normal" >400</text>
<line x1="88.12" y1="339.4" x2="88.12" y2="342" stroke="#262626" stroke-width="1.05" />
<text x="88.12" y="352.4" font-size="11.5" text-anchor="middle" fill="#1a1a1a" stroke="#1a1a1a" stroke-width="0.2" font-weight="normal" >500</text>
<line x1="114.42" y1="339.4" x2="114.42" y2="342" stroke="#262626" stroke-width="1.05" />
<text x="114.42" y="352.4" font-size="11.5" text-anchor="middle" fill="#1a1a1a" stroke="#1a1a1a" stroke-width="0.2" font-weight="normal" >600</text>
<line x1="140.73" y1="339.4" x2="140.73" y2="342" stroke="#262626" stroke-width="1.05" />
<text x="140.73" y="352.4" font-size="11.5" text-anchor="middle" fill="#1a1a1a" stroke="#1a1a1a" stroke-width="0.2" font-weight="normal" >700</text>
<line x1="167.04" y1="339.4" x2="167.04" y2="342" stroke="#262626" stroke-width="1.05" />
<text x="167.04" y="352.4" font-size="11.5" text-anchor="middle" fill="#1a1a1a" stroke="#1a1a1a" stroke-width="0.2" font-weight="normal" >800</text>
<line x1="193.35" y1="339.4" x2="193.35" y2="342" stroke="#262626" stroke-width="1.05" />
<text x="193.35" y="352.4" font-size="11.5" text-anchor="middle" fill="#1a1a1a" stroke="#1a1a1a" stroke-width="0.2" font-weight="normal" >900</text>
<line x1="48.65" y1="339.4" x2="48.65" y2="341" stroke="#262626" stroke-width="1" />
<line x1="74.96" y1="339.4" x2="74.96" y2="341" stroke="#262626" stroke-width="1" />
<line x1="101.27" y1="339.4" x2="101.27" y2="341" stroke="#262626" stroke-width="1" />
<line x1="127.58" y1="339.4" x2="127.58" y2="341" stroke="#262626" stroke-width="1" />
<line x1="153.89" y1="339.4" x2="153.89" y2="341" stroke="#262626" stroke-width="1" />
<line x1="180.19" y1="339.4" x2="180.19" y2="341" stroke="#262626" stroke-width="1" />
<line x1="206.5" y1="339.4" x2="206.5" y2="341" stroke="#262626" stroke-width="1" />
<text x="123.5" y="362.8" font-size="11.5" text-anchor="middle" fill="#1a1a1a" stroke="#1a1a1a" stroke-width="0.2" font-weight="normal" >Wavelength (nm)</text>
<text transform="translate(11.7,267.95) rotate(-90)" font-size="11.5" text-anchor="middle" fill="#1a1a1a" stroke="#1a1a1a" stroke-width="0.2">EQE (%)</text>
<line x1="81.8" y1="254" x2="107.5" y2="254" stroke="#f69a78" stroke-width="1.3"/>
<rect x="92.5" y="251.8" width="4.4" height="4.4" fill="#f26a3c"/>
<text x="111" y="257.9" font-size="11.5" text-anchor="start" fill="#1a1a1a" stroke="#1a1a1a" stroke-width="0.2" font-weight="normal" >SVD-0</text>
<line x1="81.8" y1="267.8" x2="107.5" y2="267.8" stroke="#ea7670" stroke-width="1.3"/>
<circle cx="94.7" cy="267.8" r="2.31" fill="#e2463f"/>
<text x="111" y="271.7" font-size="11.5" text-anchor="start" fill="#1a1a1a" stroke="#1a1a1a" stroke-width="0.2" font-weight="normal" >SVD-10</text>
<line x1="81.8" y1="281.6" x2="107.5" y2="281.6" stroke="#c25072" stroke-width="1.3"/>
<path d="M94.7,278.85 L97.45,283.66 L91.95,283.66Z" fill="#ad1140"/>
<text x="111" y="285.5" font-size="11.5" text-anchor="start" fill="#1a1a1a" stroke="#1a1a1a" stroke-width="0.2" font-weight="normal" >SVD-20</text>
<line x1="81.8" y1="295.6" x2="107.5" y2="295.6" stroke="#7e7cc2" stroke-width="1.3"/>
<path d="M94.7,298.35 L97.45,293.54 L91.95,293.54Z" fill="#4d4aa6"/>
<text x="111" y="299.5" font-size="11.5" text-anchor="start" fill="#1a1a1a" stroke="#1a1a1a" stroke-width="0.2" font-weight="normal" >SVD-40</text>
<line x1="81.8" y1="309.5" x2="107.5" y2="309.5" stroke="#92aede" stroke-width="1.3"/>
<path d="M94.7,306.53 L97.67,309.5 L94.7,312.47 L91.73,309.5Z" fill="#6b8fd2"/>
<text x="111" y="313.4" font-size="11.5" text-anchor="start" fill="#1a1a1a" stroke="#1a1a1a" stroke-width="0.2" font-weight="normal" >SVD-60</text>
<line x1="81.8" y1="323.5" x2="107.5" y2="323.5" stroke="#94c9e7" stroke-width="1.3"/>
<path d="M91.95,323.5 L96.76,320.75 L96.76,326.25Z" fill="#6bb3dd"/>
<text x="111" y="327.4" font-size="11.5" text-anchor="start" fill="#1a1a1a" stroke="#1a1a1a" stroke-width="0.2" font-weight="normal" >SVD-120</text>
<text x="465.6" y="194.3" font-size="12.5" text-anchor="start" fill="#000" font-weight="bold" >f</text>
<clipPath id="clipf"><rect x="502.4" y="196.5" width="180.0" height="145.89999999999998"/></clipPath>
<g clip-path="url(#clipf)">
<path d="M505.4,335.97 C506.06,332.49 508.05,322.51 509.37,315.11 C510.7,307.7 512.02,298.2 513.35,291.53 C514.67,284.86 516,278.6 517.32,275.09 C518.65,271.59 519.97,270.28 521.3,270.52 C522.62,270.76 523.95,275.76 525.27,276.52 C526.6,277.29 527.92,277.95 529.25,275.09 C530.57,272.24 531.9,264.81 533.22,259.38 C534.55,253.95 535.21,248.33 537.2,242.51 C539.18,236.7 542.5,228.6 545.15,224.51 C547.8,220.41 550.44,219.94 553.09,217.94 C555.74,215.93 558.39,213.81 561.04,212.5 C563.69,211.19 567.01,210.48 568.99,210.08 C570.98,209.67 571.64,209.58 572.97,210.08 C574.29,210.58 575.62,212.6 576.94,213.08 C578.27,213.55 579.59,212.7 580.92,212.93 C582.24,213.17 583.57,211.91 584.89,214.51 C586.22,217.1 587.54,226.79 588.87,228.51 C590.19,230.22 591.52,226.56 592.84,224.79 C594.16,223.03 595.49,219.65 596.81,217.94 C598.14,216.22 598.8,214.98 600.79,214.51 C602.78,214.03 606.09,214.98 608.74,215.08 C611.39,215.17 614.04,214.89 616.69,215.08 C619.34,215.27 621.99,215.24 624.64,216.22 C627.29,217.2 629.94,218.6 632.59,220.94 C635.24,223.27 637.89,225.13 640.53,230.22 C643.18,235.32 645.83,240.23 648.48,251.52 C651.13,262.81 653.78,285.55 656.43,297.96 C659.08,310.37 661.73,319.54 664.38,325.97 C667.03,332.4 669.68,334.45 672.33,336.54 C674.98,338.64 678.29,338.16 680.28,338.54 C682.27,338.92 683.59,338.78 684.25,338.83" fill="none" stroke="#f69a78" stroke-width="1.2"/>
<rect x="503.1" y="333.67" width="4.6" height="4.6" fill="#f26a3c"/>
<rect x="511.05" y="289.23" width="4.6" height="4.6" fill="#f26a3c"/>
<rect x="519" y="268.22" width="4.6" height="4.6" fill="#f26a3c"/>
<rect x="526.95" y="272.79" width="4.6" height="4.6" fill="#f26a3c"/>
<rect x="534.9" y="240.21" width="4.6" height="4.6" fill="#f26a3c"/>
<rect x="542.85" y="222.21" width="4.6" height="4.6" fill="#f26a3c"/>
<rect x="550.79" y="215.63" width="4.6" height="4.6" fill="#f26a3c"/>
<rect x="558.74" y="210.2" width="4.6" height="4.6" fill="#f26a3c"/>
<rect x="566.69" y="207.78" width="4.6" height="4.6" fill="#f26a3c"/>
<rect x="574.64" y="210.78" width="4.6" height="4.6" fill="#f26a3c"/>
<rect x="582.59" y="212.21" width="4.6" height="4.6" fill="#f26a3c"/>
<rect x="590.54" y="222.49" width="4.6" height="4.6" fill="#f26a3c"/>
<rect x="598.49" y="212.21" width="4.6" height="4.6" fill="#f26a3c"/>
<rect x="606.44" y="212.78" width="4.6" height="4.6" fill="#f26a3c"/>
<rect x="614.39" y="212.78" width="4.6" height="4.6" fill="#f26a3c"/>
<rect x="622.34" y="213.92" width="4.6" height="4.6" fill="#f26a3c"/>
<rect x="630.29" y="218.64" width="4.6" height="4.6" fill="#f26a3c"/>
<rect x="638.23" y="227.92" width="4.6" height="4.6" fill="#f26a3c"/>
<rect x="646.18" y="249.22" width="4.6" height="4.6" fill="#f26a3c"/>
<rect x="654.13" y="295.66" width="4.6" height="4.6" fill="#f26a3c"/>
<rect x="662.08" y="323.67" width="4.6" height="4.6" fill="#f26a3c"/>
<rect x="670.03" y="334.24" width="4.6" height="4.6" fill="#f26a3c"/>
<rect x="677.98" y="336.24" width="4.6" height="4.6" fill="#f26a3c"/>
<path d="M505.4,335.97 C506.06,332.49 508.05,322.51 509.37,315.11 C510.7,307.7 512.02,297.72 513.35,291.53 C514.67,285.34 516,280.69 517.32,277.95 C518.65,275.21 519.97,275.09 521.3,275.09 C522.62,275.09 523.95,278.6 525.27,277.95 C526.6,277.31 527.92,274.81 529.25,271.24 C530.57,267.66 531.9,261.64 533.22,256.52 C534.55,251.4 535.21,245.35 537.2,240.51 C539.18,235.68 542.5,230.72 545.15,227.51 C547.8,224.29 550.44,223.63 553.09,221.22 C555.74,218.82 558.39,215.05 561.04,213.08 C563.69,211.1 567.01,209.86 568.99,209.36 C570.98,208.86 571.64,210.17 572.97,210.08 C574.29,209.98 575.62,208.31 576.94,208.79 C578.27,209.27 579.59,211.79 580.92,212.93 C582.24,214.08 583.57,214.93 584.89,215.65 C586.22,216.36 587.54,217.22 588.87,217.22 C590.19,217.22 590.85,216.24 592.84,215.65 C594.83,215.05 598.14,213.98 600.79,213.65 C603.44,213.31 606.09,213.55 608.74,213.65 C611.39,213.74 614.04,213.98 616.69,214.22 C619.34,214.46 621.99,214.46 624.64,215.08 C627.29,215.7 629.94,216.12 632.59,217.94 C635.24,219.75 637.89,221.1 640.53,225.94 C643.18,230.77 645.83,236.01 648.48,246.94 C651.13,257.88 653.78,278.76 656.43,291.53 C659.08,304.29 661.73,316.04 664.38,323.54 C667.03,331.04 669.68,334.04 672.33,336.54 C674.98,339.04 678.29,338.16 680.28,338.54 C682.27,338.92 683.59,338.78 684.25,338.83" fill="none" stroke="#b8325a" stroke-width="1.2"/>
<circle cx="505.4" cy="335.97" r="2.42" fill="#a8103c"/>
<circle cx="513.35" cy="291.53" r="2.42" fill="#a8103c"/>
<circle cx="521.3" cy="275.09" r="2.42" fill="#a8103c"/>
<circle cx="529.25" cy="271.24" r="2.42" fill="#a8103c"/>
<circle cx="537.2" cy="240.51" r="2.42" fill="#a8103c"/>
<circle cx="545.15" cy="227.51" r="2.42" fill="#a8103c"/>
<circle cx="553.09" cy="221.22" r="2.42" fill="#a8103c"/>
<circle cx="561.04" cy="213.08" r="2.42" fill="#a8103c"/>
<circle cx="568.99" cy="209.36" r="2.42" fill="#a8103c"/>
<circle cx="576.94" cy="208.79" r="2.42" fill="#a8103c"/>
<circle cx="584.89" cy="215.65" r="2.42" fill="#a8103c"/>
<circle cx="592.84" cy="215.65" r="2.42" fill="#a8103c"/>
<circle cx="600.79" cy="213.65" r="2.42" fill="#a8103c"/>
<circle cx="608.74" cy="213.65" r="2.42" fill="#a8103c"/>
<circle cx="616.69" cy="214.22" r="2.42" fill="#a8103c"/>
<circle cx="624.64" cy="215.08" r="2.42" fill="#a8103c"/>
<circle cx="632.59" cy="217.94" r="2.42" fill="#a8103c"/>
<circle cx="640.53" cy="225.94" r="2.42" fill="#a8103c"/>
<circle cx="648.48" cy="246.94" r="2.42" fill="#a8103c"/>
<circle cx="656.43" cy="291.53" r="2.42" fill="#a8103c"/>
<circle cx="664.38" cy="323.54" r="2.42" fill="#a8103c"/>
<circle cx="672.33" cy="336.54" r="2.42" fill="#a8103c"/>
<circle cx="680.28" cy="338.54" r="2.42" fill="#a8103c"/>
<path d="M505.4,335.97 C506.06,332.49 508.05,321.35 509.37,315.11 C510.7,308.87 512.02,303.06 513.35,298.53 C514.67,294.01 516,290.43 517.32,287.96 C518.65,285.48 519.97,283.91 521.3,283.67 C522.62,283.43 523.95,287.17 525.27,286.53 C526.6,285.88 527.92,282.91 529.25,279.81 C530.57,276.71 531.9,272.43 533.22,267.95 C534.55,263.47 535.21,258.42 537.2,252.95 C539.18,247.47 542.5,239.13 545.15,235.08 C547.8,231.03 550.44,231.75 553.09,228.65 C555.74,225.56 558.39,219.6 561.04,216.51 C563.69,213.41 567.01,211.15 568.99,210.08 C570.98,209 571.64,210.19 572.97,210.08 C574.29,209.96 575.62,208.88 576.94,209.36 C578.27,209.84 579.59,211.98 580.92,212.93 C582.24,213.89 583.57,214.24 584.89,215.08 C586.22,215.91 587.54,217.82 588.87,217.94 C590.19,218.05 590.85,216.86 592.84,215.79 C594.83,214.72 598.14,212 600.79,211.5 C603.44,211 606.09,212.43 608.74,212.79 C611.39,213.15 614.04,213.27 616.69,213.65 C619.34,214.03 621.99,214.39 624.64,215.08 C627.29,215.77 629.94,215.98 632.59,217.79 C635.24,219.6 637.89,221.08 640.53,225.94 C643.18,230.8 645.83,236.01 648.48,246.94 C651.13,257.88 653.78,278.76 656.43,291.53 C659.08,304.29 661.73,316.04 664.38,323.54 C667.03,331.04 669.68,334.04 672.33,336.54 C674.98,339.04 678.29,338.16 680.28,338.54 C682.27,338.92 683.59,338.78 684.25,338.83" fill="none" stroke="#6c6cbc" stroke-width="1.2"/>
<path d="M505.4,333.1 L508.27,338.13 L502.52,338.13Z" fill="#4f50aa"/>
<path d="M513.35,295.66 L516.22,300.69 L510.47,300.69Z" fill="#4f50aa"/>
<path d="M521.3,280.79 L524.17,285.83 L518.42,285.83Z" fill="#4f50aa"/>
<path d="M529.25,276.94 L532.12,281.97 L526.37,281.97Z" fill="#4f50aa"/>
<path d="M537.2,250.07 L540.07,255.1 L534.32,255.1Z" fill="#4f50aa"/>
<path d="M545.15,232.21 L548.02,237.24 L542.27,237.24Z" fill="#4f50aa"/>
<path d="M553.09,225.78 L555.97,230.81 L550.22,230.81Z" fill="#4f50aa"/>
<path d="M561.04,213.63 L563.92,218.66 L558.17,218.66Z" fill="#4f50aa"/>
<path d="M568.99,207.2 L571.87,212.23 L566.12,212.23Z" fill="#4f50aa"/>
<path d="M576.94,206.49 L579.82,211.52 L574.07,211.52Z" fill="#4f50aa"/>
<path d="M584.89,212.2 L587.77,217.23 L582.02,217.23Z" fill="#4f50aa"/>
<path d="M592.84,212.92 L595.72,217.95 L589.97,217.95Z" fill="#4f50aa"/>
<path d="M600.79,208.63 L603.66,213.66 L597.91,213.66Z" fill="#4f50aa"/>
<path d="M608.74,209.92 L611.61,214.95 L605.86,214.95Z" fill="#4f50aa"/>
<path d="M616.69,210.77 L619.56,215.8 L613.81,215.8Z" fill="#4f50aa"/>
<path d="M624.64,212.2 L627.51,217.23 L621.76,217.23Z" fill="#4f50aa"/>
<path d="M632.59,214.92 L635.46,219.95 L629.71,219.95Z" fill="#4f50aa"/>
<path d="M640.53,223.06 L643.41,228.09 L637.66,228.09Z" fill="#4f50aa"/>
<path d="M648.48,244.07 L651.36,249.1 L645.61,249.1Z" fill="#4f50aa"/>
<path d="M656.43,288.65 L659.31,293.68 L653.56,293.68Z" fill="#4f50aa"/>
<path d="M664.38,320.66 L667.26,325.69 L661.51,325.69Z" fill="#4f50aa"/>
<path d="M672.33,333.67 L675.21,338.7 L669.46,338.7Z" fill="#4f50aa"/>
<path d="M680.28,335.67 L683.16,340.7 L677.41,340.7Z" fill="#4f50aa"/>
<path d="M505.4,335.97 C506.06,332.49 508.05,322.39 509.37,315.11 C510.7,307.82 512.02,298.2 513.35,292.24 C514.67,286.29 516,281.84 517.32,279.38 C518.65,276.93 519.97,277.29 521.3,277.52 C522.62,277.76 523.95,280.74 525.27,280.81 C526.6,280.88 527.92,280.57 529.25,277.95 C530.57,275.33 531.9,270.09 533.22,265.09 C534.55,260.09 535.21,252.95 537.2,247.94 C539.18,242.94 542.5,238.58 545.15,235.08 C547.8,231.58 550.44,230.03 553.09,226.94 C555.74,223.84 558.39,218.91 561.04,216.51 C563.69,214.1 567.01,213.58 568.99,212.5 C570.98,211.43 571.64,210.12 572.97,210.08 C574.29,210.03 575.62,211.74 576.94,212.22 C578.27,212.7 579.59,212.34 580.92,212.93 C582.24,213.53 583.57,214.96 584.89,215.79 C586.22,216.63 587.54,217.91 588.87,217.94 C590.19,217.96 590.85,216.39 592.84,215.93 C594.83,215.48 598.14,215.6 600.79,215.22 C603.44,214.84 606.09,213.79 608.74,213.65 C611.39,213.51 614.04,214.08 616.69,214.36 C619.34,214.65 621.99,214.77 624.64,215.36 C627.29,215.96 629.94,216.17 632.59,217.94 C635.24,219.7 637.89,221.1 640.53,225.94 C643.18,230.77 645.83,236.01 648.48,246.94 C651.13,257.88 653.78,278.76 656.43,291.53 C659.08,304.29 661.73,316.04 664.38,323.54 C667.03,331.04 669.68,334.04 672.33,336.54 C674.98,339.04 678.29,338.16 680.28,338.54 C682.27,338.92 683.59,338.78 684.25,338.83" fill="none" stroke="#86c4e6" stroke-width="1.2"/>
<path d="M505.4,338.85 L508.27,333.81 L502.52,333.81Z" fill="#6cb6de"/>
<path d="M513.35,295.12 L516.22,290.09 L510.47,290.09Z" fill="#6cb6de"/>
<path d="M521.3,280.4 L524.17,275.37 L518.42,275.37Z" fill="#6cb6de"/>
<path d="M529.25,280.83 L532.12,275.8 L526.37,275.8Z" fill="#6cb6de"/>
<path d="M537.2,250.82 L540.07,245.79 L534.32,245.79Z" fill="#6cb6de"/>
<path d="M545.15,237.96 L548.02,232.93 L542.27,232.93Z" fill="#6cb6de"/>
<path d="M553.09,229.81 L555.97,224.78 L550.22,224.78Z" fill="#6cb6de"/>
<path d="M561.04,219.38 L563.92,214.35 L558.17,214.35Z" fill="#6cb6de"/>
<path d="M568.99,215.38 L571.87,210.35 L566.12,210.35Z" fill="#6cb6de"/>
<path d="M576.94,215.09 L579.82,210.06 L574.07,210.06Z" fill="#6cb6de"/>
<path d="M584.89,218.67 L587.77,213.64 L582.02,213.64Z" fill="#6cb6de"/>
<path d="M592.84,218.81 L595.72,213.78 L589.97,213.78Z" fill="#6cb6de"/>
<path d="M600.79,218.09 L603.66,213.06 L597.91,213.06Z" fill="#6cb6de"/>
<path d="M608.74,216.52 L611.61,211.49 L605.86,211.49Z" fill="#6cb6de"/>
<path d="M616.69,217.24 L619.56,212.21 L613.81,212.21Z" fill="#6cb6de"/>
<path d="M624.64,218.24 L627.51,213.21 L621.76,213.21Z" fill="#6cb6de"/>
<path d="M632.59,220.81 L635.46,215.78 L629.71,215.78Z" fill="#6cb6de"/>
<path d="M640.53,228.81 L643.41,223.78 L637.66,223.78Z" fill="#6cb6de"/>
<path d="M648.48,249.82 L651.36,244.79 L645.61,244.79Z" fill="#6cb6de"/>
<path d="M656.43,294.4 L659.31,289.37 L653.56,289.37Z" fill="#6cb6de"/>
<path d="M664.38,326.41 L667.26,321.38 L661.51,321.38Z" fill="#6cb6de"/>
<path d="M672.33,339.42 L675.21,334.39 L669.46,334.39Z" fill="#6cb6de"/>
<path d="M680.28,341.42 L683.16,336.39 L677.41,336.39Z" fill="#6cb6de"/>
</g>
<line x1="505.4" y1="196.5" x2="682.4" y2="196.5" stroke="#262626" stroke-width="1.15" />
<line x1="505.4" y1="339.4" x2="682.4" y2="339.4" stroke="#262626" stroke-width="1.15" />
<line x1="505.4" y1="196" x2="505.4" y2="339.9" stroke="#262626" stroke-width="1.15" />
<line x1="682.4" y1="196" x2="682.4" y2="339.9" stroke="#262626" stroke-width="1.15" />
<line x1="502.8" y1="339.4" x2="505.4" y2="339.4" stroke="#262626" stroke-width="1.05" />
<text x="500.6" y="343.35" font-size="11.5" text-anchor="end" fill="#1a1a1a" stroke="#1a1a1a" stroke-width="0.2" font-weight="normal" >0</text>
<line x1="502.8" y1="310.82" x2="505.4" y2="310.82" stroke="#262626" stroke-width="1.05" />
<text x="500.6" y="314.77" font-size="11.5" text-anchor="end" fill="#1a1a1a" stroke="#1a1a1a" stroke-width="0.2" font-weight="normal" >20</text>
<line x1="502.8" y1="282.24" x2="505.4" y2="282.24" stroke="#262626" stroke-width="1.05" />
<text x="500.6" y="286.19" font-size="11.5" text-anchor="end" fill="#1a1a1a" stroke="#1a1a1a" stroke-width="0.2" font-weight="normal" >40</text>
<line x1="502.8" y1="253.66" x2="505.4" y2="253.66" stroke="#262626" stroke-width="1.05" />
<text x="500.6" y="257.61" font-size="11.5" text-anchor="end" fill="#1a1a1a" stroke="#1a1a1a" stroke-width="0.2" font-weight="normal" >60</text>
<line x1="502.8" y1="225.08" x2="505.4" y2="225.08" stroke="#262626" stroke-width="1.05" />
<text x="500.6" y="229.03" font-size="11.5" text-anchor="end" fill="#1a1a1a" stroke="#1a1a1a" stroke-width="0.2" font-weight="normal" >80</text>
<line x1="502.8" y1="196.5" x2="505.4" y2="196.5" stroke="#262626" stroke-width="1.05" />
<text x="500.6" y="200.45" font-size="11.5" text-anchor="end" fill="#1a1a1a" stroke="#1a1a1a" stroke-width="0.2" font-weight="normal" >100</text>
<line x1="503.8" y1="325.11" x2="505.4" y2="325.11" stroke="#262626" stroke-width="1" />
<line x1="503.8" y1="296.53" x2="505.4" y2="296.53" stroke="#262626" stroke-width="1" />
<line x1="503.8" y1="267.95" x2="505.4" y2="267.95" stroke="#262626" stroke-width="1" />
<line x1="503.8" y1="239.37" x2="505.4" y2="239.37" stroke="#262626" stroke-width="1" />
<line x1="503.8" y1="210.79" x2="505.4" y2="210.79" stroke="#262626" stroke-width="1" />
<line x1="505.4" y1="339.4" x2="505.4" y2="342" stroke="#262626" stroke-width="1.05" />
<text x="505.4" y="352.4" font-size="11.5" text-anchor="middle" fill="#1a1a1a" stroke="#1a1a1a" stroke-width="0.2" font-weight="normal" >300</text>
<line x1="531.9" y1="339.4" x2="531.9" y2="342" stroke="#262626" stroke-width="1.05" />
<text x="531.9" y="352.4" font-size="11.5" text-anchor="middle" fill="#1a1a1a" stroke="#1a1a1a" stroke-width="0.2" font-weight="normal" >400</text>
<line x1="558.39" y1="339.4" x2="558.39" y2="342" stroke="#262626" stroke-width="1.05" />
<text x="558.39" y="352.4" font-size="11.5" text-anchor="middle" fill="#1a1a1a" stroke="#1a1a1a" stroke-width="0.2" font-weight="normal" >500</text>
<line x1="584.89" y1="339.4" x2="584.89" y2="342" stroke="#262626" stroke-width="1.05" />
<text x="584.89" y="352.4" font-size="11.5" text-anchor="middle" fill="#1a1a1a" stroke="#1a1a1a" stroke-width="0.2" font-weight="normal" >600</text>
<line x1="611.39" y1="339.4" x2="611.39" y2="342" stroke="#262626" stroke-width="1.05" />
<text x="611.39" y="352.4" font-size="11.5" text-anchor="middle" fill="#1a1a1a" stroke="#1a1a1a" stroke-width="0.2" font-weight="normal" >700</text>
<line x1="637.89" y1="339.4" x2="637.89" y2="342" stroke="#262626" stroke-width="1.05" />
<text x="637.89" y="352.4" font-size="11.5" text-anchor="middle" fill="#1a1a1a" stroke="#1a1a1a" stroke-width="0.2" font-weight="normal" >800</text>
<line x1="664.38" y1="339.4" x2="664.38" y2="342" stroke="#262626" stroke-width="1.05" />
<text x="664.38" y="352.4" font-size="11.5" text-anchor="middle" fill="#1a1a1a" stroke="#1a1a1a" stroke-width="0.2" font-weight="normal" >900</text>
<line x1="518.65" y1="339.4" x2="518.65" y2="341" stroke="#262626" stroke-width="1" />
<line x1="545.15" y1="339.4" x2="545.15" y2="341" stroke="#262626" stroke-width="1" />
<line x1="571.64" y1="339.4" x2="571.64" y2="341" stroke="#262626" stroke-width="1" />
<line x1="598.14" y1="339.4" x2="598.14" y2="341" stroke="#262626" stroke-width="1" />
<line x1="624.64" y1="339.4" x2="624.64" y2="341" stroke="#262626" stroke-width="1" />
<line x1="651.13" y1="339.4" x2="651.13" y2="341" stroke="#262626" stroke-width="1" />
<line x1="677.63" y1="339.4" x2="677.63" y2="341" stroke="#262626" stroke-width="1" />
<text x="593.9" y="362.8" font-size="11.5" text-anchor="middle" fill="#1a1a1a" stroke="#1a1a1a" stroke-width="0.2" font-weight="normal" >Wavelength (nm)</text>
<text transform="translate(483.2,267.95) rotate(-90)" font-size="11.5" text-anchor="middle" fill="#1a1a1a" stroke="#1a1a1a" stroke-width="0.2">EQE (%)</text>
<line x1="558.4" y1="266.3" x2="584.3" y2="266.3" stroke="#f69a78" stroke-width="1.3"/>
<rect x="569.5" y="264.4" width="3.8" height="3.8" fill="#f26a3c"/>
<text x="587.7" y="270.2" font-size="11.5" text-anchor="start" fill="#1a1a1a" stroke="#1a1a1a" stroke-width="0.2" font-weight="normal" >SVD-0</text>
<line x1="558.4" y1="280.1" x2="584.3" y2="280.1" stroke="#b8325a" stroke-width="1.3"/>
<circle cx="571.4" cy="280.1" r="1.99" fill="#a8103c"/>
<text x="587.7" y="284" font-size="11.5" text-anchor="start" fill="#1a1a1a" stroke="#1a1a1a" stroke-width="0.2" font-weight="normal" >SVD-20</text>
<line x1="558.4" y1="294" x2="584.3" y2="294" stroke="#6c6cbc" stroke-width="1.3"/>
<path d="M571.4,291.62 L573.77,295.78 L569.02,295.78Z" fill="#4f50aa"/>
<text x="587.7" y="297.9" font-size="11.5" text-anchor="start" fill="#1a1a1a" stroke="#1a1a1a" stroke-width="0.2" font-weight="normal" >Mix-0</text>
<line x1="558.4" y1="307.8" x2="584.3" y2="307.8" stroke="#86c4e6" stroke-width="1.3"/>
<path d="M571.4,310.18 L573.77,306.02 L569.02,306.02Z" fill="#6cb6de"/>
<text x="587.7" y="311.7" font-size="11.5" text-anchor="start" fill="#1a1a1a" stroke="#1a1a1a" stroke-width="0.2" font-weight="normal" >Mix-20</text>
</svg>
</body></html>
